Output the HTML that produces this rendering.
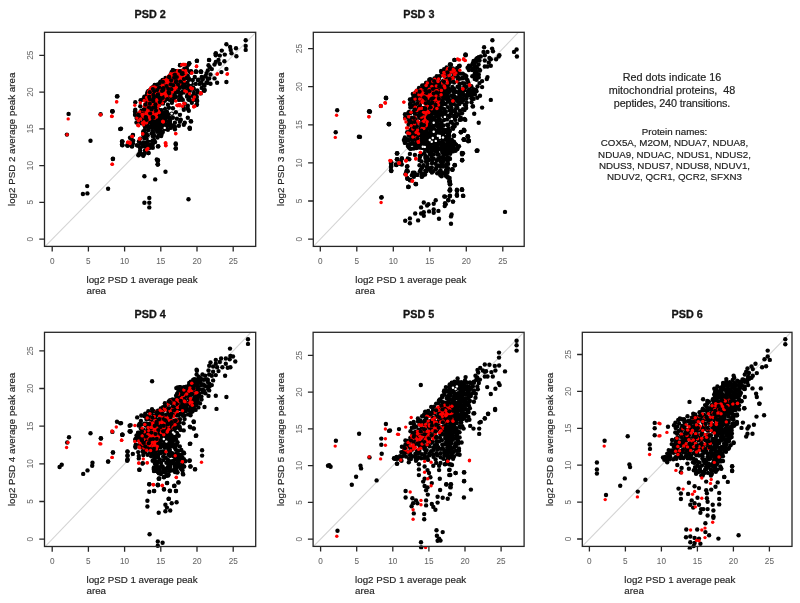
<!DOCTYPE html>
<html><head><meta charset="utf-8"><style>
html,body{margin:0;padding:0;background:#fff;}
svg{display:block;filter:blur(0.35px);}
text{font-family:"Liberation Sans",Arial,sans-serif;}
</style></head><body>
<svg width="800" height="603" viewBox="0 0 800 603">
<rect width="800" height="603" fill="#fff"/>
<g>
<clipPath id="c0"><rect x="44.5" y="32.3" width="211.2" height="214.1"/></clipPath>
<line x1="16.0" y1="275.9" x2="341.8" y2="-54.9" stroke="#d4d4d4" stroke-width="1.1" clip-path="url(#c0)"/>
<clipPath id="d0"><rect x="41.5" y="29.299999999999997" width="217.2" height="220.1"/></clipPath>
<g clip-path="url(#d0)">
<g fill="#000"><circle cx="178.3" cy="71.3" r="2.2"/><circle cx="181.4" cy="71.0" r="2.2"/><circle cx="183.5" cy="70.6" r="2.2"/><circle cx="172.7" cy="72.7" r="2.2"/><circle cx="176.3" cy="73.4" r="2.2"/><circle cx="177.6" cy="72.9" r="2.2"/><circle cx="183.3" cy="72.3" r="2.2"/><circle cx="185.2" cy="73.9" r="2.2"/><circle cx="170.9" cy="76.0" r="2.2"/><circle cx="174.6" cy="76.0" r="2.2"/><circle cx="178.4" cy="76.2" r="2.2"/><circle cx="180.8" cy="75.8" r="2.2"/><circle cx="184.3" cy="75.6" r="2.2"/><circle cx="162.6" cy="79.9" r="2.2"/><circle cx="166.4" cy="79.8" r="2.2"/><circle cx="169.7" cy="80.0" r="2.2"/><circle cx="172.2" cy="78.6" r="2.2"/><circle cx="176.0" cy="78.3" r="2.2"/><circle cx="179.7" cy="79.8" r="2.2"/><circle cx="183.3" cy="79.1" r="2.2"/><circle cx="160.5" cy="81.8" r="2.2"/><circle cx="163.9" cy="82.7" r="2.2"/><circle cx="166.3" cy="82.4" r="2.2"/><circle cx="169.4" cy="81.1" r="2.2"/><circle cx="174.6" cy="81.4" r="2.2"/><circle cx="178.0" cy="80.8" r="2.2"/><circle cx="179.7" cy="82.3" r="2.2"/><circle cx="155.5" cy="85.1" r="2.2"/><circle cx="158.7" cy="84.5" r="2.2"/><circle cx="161.6" cy="86.0" r="2.2"/><circle cx="164.1" cy="83.5" r="2.2"/><circle cx="169.9" cy="84.0" r="2.2"/><circle cx="171.1" cy="84.0" r="2.2"/><circle cx="176.3" cy="85.9" r="2.2"/><circle cx="177.7" cy="84.6" r="2.2"/><circle cx="153.4" cy="86.6" r="2.2"/><circle cx="155.8" cy="89.0" r="2.2"/><circle cx="159.4" cy="87.4" r="2.2"/><circle cx="164.2" cy="88.6" r="2.2"/><circle cx="168.1" cy="86.9" r="2.2"/><circle cx="170.8" cy="89.0" r="2.2"/><circle cx="172.7" cy="88.2" r="2.2"/><circle cx="151.9" cy="90.7" r="2.2"/><circle cx="154.6" cy="90.3" r="2.2"/><circle cx="159.4" cy="90.1" r="2.2"/><circle cx="162.1" cy="89.4" r="2.2"/><circle cx="165.9" cy="90.3" r="2.2"/><circle cx="167.5" cy="90.1" r="2.2"/><circle cx="152.1" cy="92.9" r="2.2"/><circle cx="156.4" cy="93.0" r="2.2"/><circle cx="160.6" cy="93.3" r="2.2"/><circle cx="164.6" cy="93.8" r="2.2"/><circle cx="166.8" cy="93.4" r="2.2"/><circle cx="151.7" cy="96.1" r="2.2"/><circle cx="155.0" cy="97.4" r="2.2"/><circle cx="159.5" cy="97.4" r="2.2"/><circle cx="161.1" cy="97.9" r="2.2"/><circle cx="165.6" cy="95.5" r="2.2"/><circle cx="150.4" cy="100.6" r="2.2"/><circle cx="152.8" cy="100.8" r="2.2"/><circle cx="155.8" cy="100.5" r="2.2"/><circle cx="159.9" cy="98.5" r="2.2"/><circle cx="163.0" cy="99.5" r="2.2"/><circle cx="152.8" cy="101.3" r="2.2"/><circle cx="155.7" cy="103.1" r="2.2"/><circle cx="158.9" cy="103.1" r="2.2"/><circle cx="162.9" cy="102.9" r="2.2"/><circle cx="153.5" cy="105.0" r="2.2"/><circle cx="156.7" cy="104.8" r="2.2"/><circle cx="159.0" cy="104.7" r="2.2"/><circle cx="152.7" cy="109.5" r="2.2"/><circle cx="155.4" cy="108.1" r="2.2"/><circle cx="152.3" cy="112.4" r="2.2"/><circle cx="160.6" cy="110.6" r="2.2"/><circle cx="151.0" cy="113.9" r="2.2"/><circle cx="157.3" cy="112.9" r="2.2"/><circle cx="163.0" cy="112.5" r="2.2"/><circle cx="164.6" cy="112.6" r="2.2"/><circle cx="152.9" cy="114.5" r="2.2"/><circle cx="157.7" cy="115.9" r="2.2"/><circle cx="160.6" cy="114.9" r="2.2"/><circle cx="164.9" cy="116.7" r="2.2"/><circle cx="166.0" cy="115.3" r="2.2"/><circle cx="152.6" cy="119.1" r="2.2"/><circle cx="154.6" cy="118.9" r="2.2"/><circle cx="159.5" cy="119.6" r="2.2"/><circle cx="161.9" cy="118.9" r="2.2"/><circle cx="164.1" cy="118.0" r="2.2"/><circle cx="169.5" cy="118.5" r="2.2"/><circle cx="153.4" cy="122.4" r="2.2"/><circle cx="156.9" cy="121.4" r="2.2"/><circle cx="160.2" cy="120.4" r="2.2"/><circle cx="162.4" cy="122.2" r="2.2"/><circle cx="168.3" cy="121.9" r="2.2"/><circle cx="170.1" cy="120.8" r="2.2"/><circle cx="152.4" cy="124.7" r="2.2"/><circle cx="156.0" cy="123.9" r="2.2"/><circle cx="158.5" cy="125.8" r="2.2"/><circle cx="162.1" cy="124.5" r="2.2"/><circle cx="164.7" cy="124.7" r="2.2"/><circle cx="169.9" cy="123.3" r="2.2"/><circle cx="172.8" cy="125.4" r="2.2"/><circle cx="150.8" cy="127.6" r="2.2"/><circle cx="153.6" cy="127.4" r="2.2"/><circle cx="155.6" cy="128.5" r="2.2"/><circle cx="160.4" cy="126.8" r="2.2"/><circle cx="163.6" cy="127.5" r="2.2"/><circle cx="166.6" cy="127.1" r="2.2"/><circle cx="170.5" cy="127.9" r="2.2"/><circle cx="174.1" cy="127.4" r="2.2"/><circle cx="135.1" cy="111.2" r="2.2"/><circle cx="141.4" cy="110.6" r="2.2"/><circle cx="147.4" cy="110.3" r="2.2"/><circle cx="157.6" cy="111.3" r="2.2"/><circle cx="161.4" cy="110.1" r="2.2"/><circle cx="135.4" cy="112.4" r="2.2"/><circle cx="138.5" cy="113.9" r="2.2"/><circle cx="142.2" cy="113.0" r="2.2"/><circle cx="144.7" cy="111.6" r="2.2"/><circle cx="148.3" cy="111.9" r="2.2"/><circle cx="152.1" cy="114.2" r="2.2"/><circle cx="155.8" cy="112.0" r="2.2"/><circle cx="159.7" cy="113.6" r="2.2"/><circle cx="162.5" cy="113.9" r="2.2"/><circle cx="165.9" cy="113.6" r="2.2"/><circle cx="168.2" cy="114.1" r="2.2"/><circle cx="135.1" cy="114.9" r="2.2"/><circle cx="137.8" cy="116.3" r="2.2"/><circle cx="140.4" cy="115.8" r="2.2"/><circle cx="143.8" cy="116.8" r="2.2"/><circle cx="147.1" cy="116.6" r="2.2"/><circle cx="150.0" cy="116.7" r="2.2"/><circle cx="154.7" cy="115.6" r="2.2"/><circle cx="157.2" cy="116.8" r="2.2"/><circle cx="160.9" cy="115.7" r="2.2"/><circle cx="162.9" cy="115.3" r="2.2"/><circle cx="167.4" cy="114.9" r="2.2"/><circle cx="136.6" cy="118.0" r="2.2"/><circle cx="139.9" cy="118.1" r="2.2"/><circle cx="143.3" cy="119.1" r="2.2"/><circle cx="145.4" cy="118.7" r="2.2"/><circle cx="149.1" cy="118.8" r="2.2"/><circle cx="151.5" cy="117.9" r="2.2"/><circle cx="155.4" cy="119.7" r="2.2"/><circle cx="159.0" cy="117.5" r="2.2"/><circle cx="162.8" cy="119.2" r="2.2"/><circle cx="166.3" cy="117.8" r="2.2"/><circle cx="169.2" cy="117.5" r="2.2"/><circle cx="136.5" cy="122.5" r="2.2"/><circle cx="139.5" cy="121.5" r="2.2"/><circle cx="144.7" cy="120.8" r="2.2"/><circle cx="146.3" cy="122.5" r="2.2"/><circle cx="150.2" cy="122.0" r="2.2"/><circle cx="152.5" cy="121.1" r="2.2"/><circle cx="156.1" cy="121.9" r="2.2"/><circle cx="159.2" cy="122.7" r="2.2"/><circle cx="162.3" cy="122.1" r="2.2"/><circle cx="165.6" cy="120.8" r="2.2"/><circle cx="141.8" cy="123.2" r="2.2"/><circle cx="146.7" cy="123.4" r="2.2"/><circle cx="147.5" cy="123.9" r="2.2"/><circle cx="152.3" cy="125.0" r="2.2"/><circle cx="154.3" cy="123.9" r="2.2"/><circle cx="157.4" cy="124.2" r="2.2"/><circle cx="162.6" cy="125.0" r="2.2"/><circle cx="166.3" cy="125.0" r="2.2"/><circle cx="169.5" cy="124.9" r="2.2"/><circle cx="144.8" cy="126.3" r="2.2"/><circle cx="147.3" cy="126.9" r="2.2"/><circle cx="150.4" cy="126.3" r="2.2"/><circle cx="154.9" cy="126.6" r="2.2"/><circle cx="157.3" cy="127.0" r="2.2"/><circle cx="159.0" cy="127.4" r="2.2"/><circle cx="162.6" cy="126.1" r="2.2"/><circle cx="165.7" cy="126.3" r="2.2"/><circle cx="143.3" cy="131.4" r="2.2"/><circle cx="144.7" cy="130.0" r="2.2"/><circle cx="148.1" cy="130.3" r="2.2"/><circle cx="152.4" cy="130.9" r="2.2"/><circle cx="155.9" cy="129.5" r="2.2"/><circle cx="158.4" cy="130.2" r="2.2"/><circle cx="160.6" cy="128.9" r="2.2"/><circle cx="165.0" cy="129.1" r="2.2"/><circle cx="143.3" cy="133.3" r="2.2"/><circle cx="146.3" cy="134.0" r="2.2"/><circle cx="151.6" cy="133.6" r="2.2"/><circle cx="153.5" cy="133.0" r="2.2"/><circle cx="157.2" cy="131.8" r="2.2"/><circle cx="160.1" cy="133.0" r="2.2"/><circle cx="162.8" cy="131.9" r="2.2"/><circle cx="143.4" cy="135.5" r="2.2"/><circle cx="144.2" cy="136.3" r="2.2"/><circle cx="147.7" cy="135.3" r="2.2"/><circle cx="152.9" cy="136.3" r="2.2"/><circle cx="154.1" cy="135.7" r="2.2"/><circle cx="158.4" cy="135.8" r="2.2"/><circle cx="161.2" cy="136.1" r="2.2"/><circle cx="140.2" cy="138.6" r="2.2"/><circle cx="144.4" cy="138.4" r="2.2"/><circle cx="146.1" cy="137.7" r="2.2"/><circle cx="149.3" cy="139.6" r="2.2"/><circle cx="154.0" cy="139.9" r="2.2"/><circle cx="157.5" cy="137.5" r="2.2"/><circle cx="138.9" cy="141.5" r="2.2"/><circle cx="143.3" cy="142.4" r="2.2"/><circle cx="146.6" cy="142.5" r="2.2"/><circle cx="148.2" cy="140.9" r="2.2"/><circle cx="152.0" cy="141.0" r="2.2"/><circle cx="155.1" cy="142.0" r="2.2"/><circle cx="138.2" cy="145.7" r="2.2"/><circle cx="140.9" cy="143.5" r="2.2"/><circle cx="143.3" cy="143.8" r="2.2"/><circle cx="147.5" cy="144.9" r="2.2"/><circle cx="150.2" cy="144.5" r="2.2"/><circle cx="152.7" cy="144.6" r="2.2"/><circle cx="140.1" cy="148.1" r="2.2"/><circle cx="142.3" cy="146.4" r="2.2"/><circle cx="145.3" cy="146.1" r="2.2"/><circle cx="149.0" cy="148.3" r="2.2"/><circle cx="151.2" cy="147.3" r="2.2"/><circle cx="140.2" cy="150.6" r="2.2"/><circle cx="145.0" cy="150.5" r="2.2"/><circle cx="145.8" cy="150.1" r="2.2"/><circle cx="139.5" cy="153.3" r="2.2"/><circle cx="141.3" cy="153.9" r="2.2"/><circle cx="144.5" cy="153.4" r="2.2"/><circle cx="188.1" cy="64.9" r="2.2"/><circle cx="186.8" cy="68.0" r="2.2"/><circle cx="174.9" cy="71.0" r="2.2"/><circle cx="177.4" cy="71.1" r="2.2"/><circle cx="184.4" cy="68.6" r="2.2"/><circle cx="186.8" cy="69.6" r="2.2"/><circle cx="171.6" cy="72.2" r="2.2"/><circle cx="176.9" cy="72.8" r="2.2"/><circle cx="179.2" cy="71.5" r="2.2"/><circle cx="182.2" cy="73.0" r="2.2"/><circle cx="184.6" cy="73.1" r="2.2"/><circle cx="189.6" cy="71.6" r="2.2"/><circle cx="170.0" cy="75.4" r="2.2"/><circle cx="174.7" cy="74.5" r="2.2"/><circle cx="177.5" cy="76.3" r="2.2"/><circle cx="180.3" cy="75.0" r="2.2"/><circle cx="184.9" cy="75.0" r="2.2"/><circle cx="186.7" cy="75.5" r="2.2"/><circle cx="165.5" cy="77.9" r="2.2"/><circle cx="169.6" cy="79.6" r="2.2"/><circle cx="171.4" cy="78.1" r="2.2"/><circle cx="176.4" cy="79.0" r="2.2"/><circle cx="179.8" cy="78.3" r="2.2"/><circle cx="181.5" cy="78.1" r="2.2"/><circle cx="186.6" cy="78.1" r="2.2"/><circle cx="188.9" cy="78.5" r="2.2"/><circle cx="161.0" cy="82.5" r="2.2"/><circle cx="164.2" cy="81.7" r="2.2"/><circle cx="166.6" cy="81.2" r="2.2"/><circle cx="169.8" cy="80.5" r="2.2"/><circle cx="174.2" cy="81.1" r="2.2"/><circle cx="178.2" cy="80.4" r="2.2"/><circle cx="181.8" cy="82.1" r="2.2"/><circle cx="185.3" cy="82.7" r="2.2"/><circle cx="188.6" cy="81.8" r="2.2"/><circle cx="158.0" cy="85.5" r="2.2"/><circle cx="162.0" cy="85.3" r="2.2"/><circle cx="165.1" cy="83.8" r="2.2"/><circle cx="168.9" cy="85.4" r="2.2"/><circle cx="171.4" cy="85.3" r="2.2"/><circle cx="176.7" cy="85.4" r="2.2"/><circle cx="179.9" cy="83.3" r="2.2"/><circle cx="182.8" cy="85.5" r="2.2"/><circle cx="184.7" cy="84.0" r="2.2"/><circle cx="188.6" cy="84.7" r="2.2"/><circle cx="154.8" cy="88.5" r="2.2"/><circle cx="155.9" cy="87.6" r="2.2"/><circle cx="159.9" cy="87.1" r="2.2"/><circle cx="163.4" cy="87.9" r="2.2"/><circle cx="167.4" cy="87.2" r="2.2"/><circle cx="169.7" cy="87.1" r="2.2"/><circle cx="173.0" cy="87.7" r="2.2"/><circle cx="177.9" cy="87.2" r="2.2"/><circle cx="179.7" cy="86.7" r="2.2"/><circle cx="183.8" cy="87.8" r="2.2"/><circle cx="188.3" cy="87.2" r="2.2"/><circle cx="148.4" cy="91.0" r="2.2"/><circle cx="151.6" cy="91.0" r="2.2"/><circle cx="155.1" cy="89.8" r="2.2"/><circle cx="158.7" cy="91.0" r="2.2"/><circle cx="160.9" cy="90.3" r="2.2"/><circle cx="165.3" cy="91.5" r="2.2"/><circle cx="170.0" cy="90.2" r="2.2"/><circle cx="173.3" cy="91.3" r="2.2"/><circle cx="175.0" cy="90.4" r="2.2"/><circle cx="178.1" cy="91.3" r="2.2"/><circle cx="182.9" cy="91.5" r="2.2"/><circle cx="186.6" cy="90.9" r="2.2"/><circle cx="189.9" cy="90.7" r="2.2"/><circle cx="147.5" cy="92.3" r="2.2"/><circle cx="149.1" cy="92.4" r="2.2"/><circle cx="154.5" cy="92.6" r="2.2"/><circle cx="155.7" cy="94.3" r="2.2"/><circle cx="159.4" cy="94.4" r="2.2"/><circle cx="164.2" cy="94.3" r="2.2"/><circle cx="168.3" cy="93.7" r="2.2"/><circle cx="171.3" cy="92.3" r="2.2"/><circle cx="174.6" cy="93.5" r="2.2"/><circle cx="177.9" cy="92.4" r="2.2"/><circle cx="181.4" cy="94.6" r="2.2"/><circle cx="183.0" cy="93.0" r="2.2"/><circle cx="187.7" cy="94.3" r="2.2"/><circle cx="144.4" cy="96.7" r="2.2"/><circle cx="149.1" cy="96.1" r="2.2"/><circle cx="151.5" cy="96.1" r="2.2"/><circle cx="154.9" cy="96.2" r="2.2"/><circle cx="157.6" cy="96.4" r="2.2"/><circle cx="163.3" cy="96.2" r="2.2"/><circle cx="166.1" cy="95.5" r="2.2"/><circle cx="169.3" cy="97.1" r="2.2"/><circle cx="172.7" cy="96.5" r="2.2"/><circle cx="175.6" cy="96.8" r="2.2"/><circle cx="180.1" cy="95.5" r="2.2"/><circle cx="181.4" cy="97.1" r="2.2"/><circle cx="186.9" cy="96.5" r="2.2"/><circle cx="189.1" cy="97.0" r="2.2"/><circle cx="142.6" cy="99.6" r="2.2"/><circle cx="146.3" cy="98.7" r="2.2"/><circle cx="153.0" cy="99.9" r="2.2"/><circle cx="160.6" cy="98.8" r="2.2"/><circle cx="163.0" cy="98.1" r="2.2"/><circle cx="167.1" cy="99.1" r="2.2"/><circle cx="169.7" cy="99.0" r="2.2"/><circle cx="180.7" cy="99.6" r="2.2"/><circle cx="188.4" cy="99.5" r="2.2"/><circle cx="152.1" cy="87.6" r="2.2"/><circle cx="155.5" cy="86.0" r="2.2"/><circle cx="157.6" cy="87.2" r="2.2"/><circle cx="149.9" cy="90.2" r="2.2"/><circle cx="153.0" cy="89.0" r="2.2"/><circle cx="156.3" cy="88.7" r="2.2"/><circle cx="148.9" cy="92.9" r="2.2"/><circle cx="152.3" cy="93.7" r="2.2"/><circle cx="154.7" cy="92.5" r="2.2"/><circle cx="158.3" cy="92.6" r="2.2"/><circle cx="147.0" cy="94.5" r="2.2"/><circle cx="148.4" cy="96.0" r="2.2"/><circle cx="152.4" cy="95.8" r="2.2"/><circle cx="156.3" cy="95.3" r="2.2"/><circle cx="144.3" cy="97.9" r="2.2"/><circle cx="148.2" cy="98.1" r="2.2"/><circle cx="150.9" cy="99.3" r="2.2"/><circle cx="154.2" cy="98.8" r="2.2"/><circle cx="159.1" cy="97.6" r="2.2"/><circle cx="146.9" cy="101.9" r="2.2"/><circle cx="148.9" cy="101.2" r="2.2"/><circle cx="152.1" cy="101.5" r="2.2"/><circle cx="155.2" cy="102.1" r="2.2"/><circle cx="145.1" cy="105.8" r="2.2"/><circle cx="146.6" cy="104.0" r="2.2"/><circle cx="152.5" cy="105.3" r="2.2"/><circle cx="154.5" cy="105.7" r="2.2"/><circle cx="158.4" cy="105.4" r="2.2"/><circle cx="146.0" cy="106.6" r="2.2"/><circle cx="149.3" cy="108.7" r="2.2"/><circle cx="152.5" cy="106.3" r="2.2"/><circle cx="155.2" cy="106.7" r="2.2"/><circle cx="143.9" cy="109.5" r="2.2"/><circle cx="149.1" cy="110.3" r="2.2"/><circle cx="150.5" cy="109.4" r="2.2"/><circle cx="153.5" cy="109.6" r="2.2"/><circle cx="158.5" cy="109.6" r="2.2"/><circle cx="145.5" cy="114.8" r="2.2"/><circle cx="148.6" cy="113.5" r="2.2"/><circle cx="153.7" cy="113.2" r="2.2"/><circle cx="157.7" cy="113.4" r="2.2"/><circle cx="159.1" cy="113.2" r="2.2"/><circle cx="147.2" cy="117.4" r="2.2"/><circle cx="152.1" cy="116.4" r="2.2"/><circle cx="153.5" cy="115.8" r="2.2"/><circle cx="157.4" cy="115.7" r="2.2"/><circle cx="145.3" cy="118.2" r="2.2"/><circle cx="150.7" cy="119.5" r="2.2"/><circle cx="154.3" cy="119.1" r="2.2"/><circle cx="157.4" cy="119.8" r="2.2"/><circle cx="117.0" cy="96.4" r="2.2"/><circle cx="68.6" cy="113.9" r="2.2"/><circle cx="112.4" cy="111.2" r="2.2"/><circle cx="100.6" cy="114.3" r="2.2"/><circle cx="120.3" cy="129.1" r="2.2"/><circle cx="90.5" cy="140.8" r="2.2"/><circle cx="66.9" cy="134.6" r="2.2"/><circle cx="122.3" cy="141.5" r="2.2"/><circle cx="122.3" cy="145.1" r="2.2"/><circle cx="127.4" cy="145.5" r="2.2"/><circle cx="131.9" cy="146.4" r="2.2"/><circle cx="133.2" cy="140.7" r="2.2"/><circle cx="130.0" cy="137.8" r="2.2"/><circle cx="132.9" cy="135.1" r="2.2"/><circle cx="112.8" cy="159.0" r="2.2"/><circle cx="87.2" cy="186.1" r="2.2"/><circle cx="82.9" cy="194.0" r="2.2"/><circle cx="87.4" cy="193.4" r="2.2"/><circle cx="108.1" cy="188.8" r="2.2"/><circle cx="157.6" cy="161.1" r="2.2"/><circle cx="157.6" cy="164.6" r="2.2"/><circle cx="165.5" cy="171.7" r="2.2"/><circle cx="144.4" cy="176.2" r="2.2"/><circle cx="155.2" cy="179.4" r="2.2"/><circle cx="149.3" cy="197.9" r="2.2"/><circle cx="144.4" cy="202.7" r="2.2"/><circle cx="149.3" cy="202.7" r="2.2"/><circle cx="149.3" cy="207.4" r="2.2"/><circle cx="188.5" cy="199.3" r="2.2"/><circle cx="189.1" cy="63.4" r="2.2"/><circle cx="196.8" cy="60.9" r="2.2"/><circle cx="209.0" cy="59.9" r="2.2"/><circle cx="196.4" cy="71.8" r="2.2"/><circle cx="201.0" cy="71.8" r="2.2"/><circle cx="180.4" cy="64.9" r="2.2"/><circle cx="191.1" cy="71.1" r="2.2"/><circle cx="215.6" cy="53.9" r="2.2"/><circle cx="245.7" cy="40.2" r="2.2"/><circle cx="245.7" cy="45.9" r="2.2"/><circle cx="245.7" cy="49.9" r="2.2"/><circle cx="226.4" cy="44.2" r="2.2"/><circle cx="230.1" cy="46.9" r="2.2"/><circle cx="236.0" cy="48.2" r="2.2"/><circle cx="230.7" cy="49.9" r="2.2"/><circle cx="231.5" cy="53.2" r="2.2"/><circle cx="236.4" cy="56.3" r="2.2"/><circle cx="221.8" cy="50.6" r="2.2"/><circle cx="224.8" cy="54.6" r="2.2"/><circle cx="215.8" cy="53.2" r="2.2"/><circle cx="219.8" cy="55.6" r="2.2"/><circle cx="215.8" cy="55.2" r="2.2"/><circle cx="209.2" cy="60.1" r="2.2"/><circle cx="224.4" cy="61.2" r="2.2"/><circle cx="218.5" cy="59.9" r="2.2"/><circle cx="215.8" cy="61.9" r="2.2"/><circle cx="214.5" cy="64.5" r="2.2"/><circle cx="219.8" cy="63.8" r="2.2"/><circle cx="226.4" cy="68.9" r="2.2"/><circle cx="221.4" cy="72.1" r="2.2"/><circle cx="226.4" cy="82.0" r="2.2"/><circle cx="217.1" cy="82.7" r="2.2"/><circle cx="214.5" cy="78.4" r="2.2"/><circle cx="197.0" cy="60.8" r="2.2"/><circle cx="189.3" cy="63.4" r="2.2"/><circle cx="180.0" cy="65.2" r="2.2"/><circle cx="195.9" cy="71.8" r="2.2"/><circle cx="201.2" cy="71.8" r="2.2"/><circle cx="190.6" cy="71.8" r="2.2"/><circle cx="208.5" cy="65.2" r="2.2"/><circle cx="209.8" cy="67.2" r="2.2"/><circle cx="211.8" cy="69.1" r="2.2"/><circle cx="207.8" cy="70.5" r="2.2"/><circle cx="206.5" cy="73.1" r="2.2"/><circle cx="210.5" cy="74.5" r="2.2"/><circle cx="205.2" cy="76.4" r="2.2"/><circle cx="209.2" cy="78.4" r="2.2"/><circle cx="202.5" cy="78.4" r="2.2"/><circle cx="198.6" cy="79.8" r="2.2"/><circle cx="201.2" cy="82.4" r="2.2"/><circle cx="206.5" cy="82.4" r="2.2"/><circle cx="210.5" cy="83.7" r="2.2"/><circle cx="204.5" cy="85.7" r="2.2"/><circle cx="203.9" cy="90.4" r="2.2"/><circle cx="197.2" cy="90.4" r="2.2"/><circle cx="195.9" cy="95.7" r="2.2"/><circle cx="197.2" cy="101.0" r="2.2"/><circle cx="196.6" cy="105.0" r="2.2"/><circle cx="193.2" cy="87.7" r="2.2"/><circle cx="175.8" cy="144.4" r="2.2"/><circle cx="175.8" cy="148.4" r="2.2"/><circle cx="157.9" cy="160.3" r="2.2"/><circle cx="157.9" cy="164.3" r="2.2"/><circle cx="138.7" cy="155.0" r="2.2"/><circle cx="143.3" cy="155.7" r="2.2"/><circle cx="148.6" cy="153.0" r="2.2"/><circle cx="189.7" cy="128.5" r="2.2"/><circle cx="191.1" cy="121.4" r="2.2"/><circle cx="204.3" cy="90.7" r="2.2"/><circle cx="157.9" cy="146.4" r="2.2"/><circle cx="121.0" cy="128.6" r="2.2"/><circle cx="122.0" cy="141.5" r="2.2"/><circle cx="122.0" cy="144.5" r="2.2"/><circle cx="128.0" cy="145.5" r="2.2"/><circle cx="132.9" cy="143.5" r="2.2"/><circle cx="175.7" cy="143.5" r="2.2"/><circle cx="175.7" cy="148.5" r="2.2"/><circle cx="156.8" cy="159.4" r="2.2"/><circle cx="189.7" cy="127.6" r="2.2"/><circle cx="173.9" cy="72.0" r="2.2"/><circle cx="178.9" cy="71.5" r="2.2"/><circle cx="190.8" cy="72.5" r="2.2"/><circle cx="195.8" cy="71.5" r="2.2"/><circle cx="200.7" cy="71.5" r="2.2"/><circle cx="172.9" cy="75.0" r="2.2"/><circle cx="187.8" cy="76.0" r="2.2"/><circle cx="194.8" cy="77.0" r="2.2"/><circle cx="201.7" cy="77.0" r="2.2"/><circle cx="205.7" cy="76.0" r="2.2"/><circle cx="183.8" cy="80.0" r="2.2"/><circle cx="189.8" cy="80.9" r="2.2"/><circle cx="192.8" cy="80.0" r="2.2"/><circle cx="197.8" cy="80.0" r="2.2"/><circle cx="202.7" cy="79.5" r="2.2"/><circle cx="207.7" cy="79.0" r="2.2"/><circle cx="179.9" cy="83.9" r="2.2"/><circle cx="183.8" cy="84.9" r="2.2"/><circle cx="191.8" cy="83.9" r="2.2"/><circle cx="195.8" cy="83.9" r="2.2"/><circle cx="199.8" cy="83.9" r="2.2"/><circle cx="203.7" cy="84.9" r="2.2"/><circle cx="207.7" cy="82.9" r="2.2"/><circle cx="174.9" cy="88.9" r="2.2"/><circle cx="179.9" cy="87.9" r="2.2"/><circle cx="185.8" cy="86.9" r="2.2"/><circle cx="189.8" cy="88.9" r="2.2"/><circle cx="193.8" cy="88.9" r="2.2"/><circle cx="201.7" cy="87.9" r="2.2"/><circle cx="204.7" cy="89.9" r="2.2"/><circle cx="169.9" cy="92.9" r="2.2"/><circle cx="174.9" cy="92.9" r="2.2"/><circle cx="179.9" cy="92.4" r="2.2"/><circle cx="183.8" cy="91.9" r="2.2"/><circle cx="193.8" cy="92.9" r="2.2"/><circle cx="197.8" cy="92.4" r="2.2"/><circle cx="200.7" cy="93.4" r="2.2"/><circle cx="165.9" cy="96.9" r="2.2"/><circle cx="170.9" cy="96.9" r="2.2"/><circle cx="175.9" cy="96.9" r="2.2"/><circle cx="179.9" cy="96.4" r="2.2"/><circle cx="187.8" cy="95.4" r="2.2"/><circle cx="192.8" cy="95.9" r="2.2"/><circle cx="196.8" cy="96.9" r="2.2"/><circle cx="164.9" cy="100.8" r="2.2"/><circle cx="169.9" cy="99.9" r="2.2"/><circle cx="173.9" cy="99.9" r="2.2"/><circle cx="178.9" cy="99.9" r="2.2"/><circle cx="182.8" cy="99.9" r="2.2"/><circle cx="189.8" cy="99.9" r="2.2"/><circle cx="193.8" cy="99.9" r="2.2"/><circle cx="196.8" cy="99.9" r="2.2"/><circle cx="162.9" cy="103.8" r="2.2"/><circle cx="167.9" cy="104.8" r="2.2"/><circle cx="171.9" cy="102.8" r="2.2"/><circle cx="184.8" cy="103.8" r="2.2"/><circle cx="187.8" cy="105.8" r="2.2"/><circle cx="191.8" cy="102.8" r="2.2"/><circle cx="196.8" cy="104.3" r="2.2"/><circle cx="164.9" cy="108.8" r="2.2"/><circle cx="168.9" cy="107.8" r="2.2"/><circle cx="172.9" cy="108.3" r="2.2"/><circle cx="183.8" cy="107.8" r="2.2"/><circle cx="187.8" cy="108.8" r="2.2"/><circle cx="183.8" cy="109.8" r="2.2"/><circle cx="188.8" cy="110.8" r="2.2"/><circle cx="160.0" cy="112.8" r="2.2"/><circle cx="166.9" cy="111.8" r="2.2"/><circle cx="171.9" cy="113.8" r="2.2"/><circle cx="175.9" cy="112.3" r="2.2"/><circle cx="179.9" cy="114.8" r="2.2"/><circle cx="156.0" cy="116.8" r="2.2"/><circle cx="161.9" cy="116.8" r="2.2"/><circle cx="166.9" cy="116.8" r="2.2"/><circle cx="172.9" cy="117.8" r="2.2"/><circle cx="176.9" cy="118.8" r="2.2"/><circle cx="180.8" cy="119.8" r="2.2"/><circle cx="187.8" cy="117.8" r="2.2"/><circle cx="153.0" cy="121.7" r="2.2"/><circle cx="158.0" cy="121.7" r="2.2"/><circle cx="164.9" cy="120.7" r="2.2"/><circle cx="169.9" cy="121.7" r="2.2"/><circle cx="174.9" cy="122.7" r="2.2"/><circle cx="179.9" cy="121.7" r="2.2"/><circle cx="184.8" cy="122.7" r="2.2"/><circle cx="190.8" cy="121.2" r="2.2"/><circle cx="152.0" cy="126.7" r="2.2"/><circle cx="156.0" cy="125.7" r="2.2"/><circle cx="160.9" cy="125.7" r="2.2"/><circle cx="165.9" cy="126.7" r="2.2"/><circle cx="169.9" cy="125.7" r="2.2"/><circle cx="174.9" cy="126.7" r="2.2"/><circle cx="178.9" cy="125.7" r="2.2"/><circle cx="183.8" cy="124.7" r="2.2"/><circle cx="160.0" cy="129.7" r="2.2"/><circle cx="167.9" cy="129.7" r="2.2"/><circle cx="174.9" cy="129.2" r="2.2"/><circle cx="189.8" cy="128.7" r="2.2"/><circle cx="112.5" cy="111.5" r="2.2"/><circle cx="120.4" cy="128.9" r="2.2"/><circle cx="132.9" cy="134.9" r="2.2"/><circle cx="131.4" cy="138.9" r="2.2"/><circle cx="122.4" cy="141.6" r="2.2"/><circle cx="122.4" cy="145.3" r="2.2"/><circle cx="127.4" cy="145.3" r="2.2"/><circle cx="132.1" cy="146.3" r="2.2"/><circle cx="161.7" cy="133.9" r="2.2"/><circle cx="158.3" cy="146.3" r="2.2"/><circle cx="152.8" cy="147.8" r="2.2"/><circle cx="148.3" cy="153.0" r="2.2"/><circle cx="143.3" cy="155.3" r="2.2"/><circle cx="138.4" cy="155.3" r="2.2"/><circle cx="157.8" cy="160.2" r="2.2"/><circle cx="157.8" cy="164.2" r="2.2"/><circle cx="113.0" cy="158.8" r="2.2"/><circle cx="136.9" cy="145.3" r="2.2"/><circle cx="180.2" cy="65.1" r="2.2"/><circle cx="189.2" cy="63.4" r="2.2"/><circle cx="154.9" cy="85.3" r="2.2"/><circle cx="172.8" cy="70.3" r="2.2"/><circle cx="117.4" cy="96.3" r="2.2"/><circle cx="112.4" cy="111.2" r="2.2"/><circle cx="135.3" cy="102.3" r="2.2"/><circle cx="140.6" cy="100.3" r="2.2"/><circle cx="140.3" cy="106.3" r="2.2"/><circle cx="135.3" cy="109.8" r="2.2"/><circle cx="135.3" cy="114.2" r="2.2"/><circle cx="154.7" cy="84.9" r="2.2"/><circle cx="147.8" cy="97.8" r="2.2"/></g>
<g fill="#fff"><circle cx="190.6" cy="82.8" r="1.2"/><circle cx="162.8" cy="106.7" r="1.2"/><circle cx="171.7" cy="113.6" r="1.2"/><circle cx="179.7" cy="111.6" r="1.2"/><circle cx="183.7" cy="95.7" r="1.2"/><circle cx="149.8" cy="138.9" r="1.2"/><circle cx="164.7" cy="127.9" r="1.2"/></g>
<g fill="#f00"><circle cx="178.3" cy="70.8" r="1.75"/><circle cx="181.1" cy="70.6" r="1.75"/><circle cx="177.1" cy="72.2" r="1.75"/><circle cx="180.9" cy="74.2" r="1.75"/><circle cx="185.6" cy="72.4" r="1.75"/><circle cx="168.0" cy="76.8" r="1.75"/><circle cx="170.8" cy="75.9" r="1.75"/><circle cx="174.2" cy="75.8" r="1.75"/><circle cx="179.4" cy="76.3" r="1.75"/><circle cx="181.6" cy="77.5" r="1.75"/><circle cx="166.3" cy="79.7" r="1.75"/><circle cx="168.5" cy="81.0" r="1.75"/><circle cx="174.2" cy="81.1" r="1.75"/><circle cx="175.3" cy="80.9" r="1.75"/><circle cx="179.6" cy="79.3" r="1.75"/><circle cx="163.6" cy="82.3" r="1.75"/><circle cx="167.2" cy="83.5" r="1.75"/><circle cx="170.0" cy="82.1" r="1.75"/><circle cx="175.5" cy="83.3" r="1.75"/><circle cx="178.4" cy="83.1" r="1.75"/><circle cx="154.7" cy="86.9" r="1.75"/><circle cx="158.3" cy="87.1" r="1.75"/><circle cx="159.7" cy="87.2" r="1.75"/><circle cx="166.4" cy="87.2" r="1.75"/><circle cx="168.0" cy="86.3" r="1.75"/><circle cx="173.8" cy="87.4" r="1.75"/><circle cx="175.8" cy="87.5" r="1.75"/><circle cx="151.7" cy="90.6" r="1.75"/><circle cx="155.8" cy="90.7" r="1.75"/><circle cx="158.2" cy="90.3" r="1.75"/><circle cx="162.2" cy="88.8" r="1.75"/><circle cx="166.3" cy="91.2" r="1.75"/><circle cx="172.1" cy="89.9" r="1.75"/><circle cx="175.0" cy="89.0" r="1.75"/><circle cx="148.5" cy="94.3" r="1.75"/><circle cx="152.5" cy="92.1" r="1.75"/><circle cx="157.9" cy="94.3" r="1.75"/><circle cx="162.1" cy="94.1" r="1.75"/><circle cx="163.9" cy="93.3" r="1.75"/><circle cx="168.7" cy="93.4" r="1.75"/><circle cx="150.9" cy="97.6" r="1.75"/><circle cx="155.7" cy="96.5" r="1.75"/><circle cx="159.7" cy="97.5" r="1.75"/><circle cx="162.8" cy="97.9" r="1.75"/><circle cx="166.7" cy="95.8" r="1.75"/><circle cx="149.3" cy="101.6" r="1.75"/><circle cx="152.6" cy="101.5" r="1.75"/><circle cx="156.6" cy="98.9" r="1.75"/><circle cx="161.0" cy="99.9" r="1.75"/><circle cx="148.5" cy="103.9" r="1.75"/><circle cx="150.1" cy="103.4" r="1.75"/><circle cx="155.7" cy="104.1" r="1.75"/><circle cx="157.9" cy="103.4" r="1.75"/><circle cx="145.9" cy="105.7" r="1.75"/><circle cx="149.9" cy="106.4" r="1.75"/><circle cx="151.9" cy="107.7" r="1.75"/><circle cx="157.3" cy="106.7" r="1.75"/><circle cx="143.7" cy="110.7" r="1.75"/><circle cx="147.8" cy="110.7" r="1.75"/><circle cx="152.8" cy="110.2" r="1.75"/><circle cx="153.9" cy="109.4" r="1.75"/><circle cx="158.3" cy="111.0" r="1.75"/><circle cx="142.2" cy="114.6" r="1.75"/><circle cx="146.3" cy="113.3" r="1.75"/><circle cx="150.1" cy="113.9" r="1.75"/><circle cx="152.8" cy="113.8" r="1.75"/><circle cx="143.0" cy="116.3" r="1.75"/><circle cx="147.4" cy="117.0" r="1.75"/><circle cx="151.5" cy="116.2" r="1.75"/><circle cx="144.1" cy="121.7" r="1.75"/><circle cx="149.4" cy="119.3" r="1.75"/><circle cx="146.5" cy="122.7" r="1.75"/><circle cx="178.0" cy="70.6" r="1.75"/><circle cx="182.5" cy="70.6" r="1.75"/><circle cx="185.6" cy="70.7" r="1.75"/><circle cx="170.7" cy="73.7" r="1.75"/><circle cx="174.1" cy="73.6" r="1.75"/><circle cx="178.9" cy="72.8" r="1.75"/><circle cx="182.1" cy="72.0" r="1.75"/><circle cx="169.1" cy="75.8" r="1.75"/><circle cx="174.7" cy="75.6" r="1.75"/><circle cx="176.9" cy="77.9" r="1.75"/><circle cx="179.8" cy="75.6" r="1.75"/><circle cx="185.2" cy="76.4" r="1.75"/><circle cx="163.6" cy="80.6" r="1.75"/><circle cx="166.8" cy="81.2" r="1.75"/><circle cx="170.2" cy="81.4" r="1.75"/><circle cx="174.5" cy="79.0" r="1.75"/><circle cx="178.4" cy="80.4" r="1.75"/><circle cx="184.3" cy="79.0" r="1.75"/><circle cx="161.7" cy="83.7" r="1.75"/><circle cx="166.2" cy="84.5" r="1.75"/><circle cx="170.7" cy="82.5" r="1.75"/><circle cx="172.5" cy="84.4" r="1.75"/><circle cx="178.2" cy="82.8" r="1.75"/><circle cx="150.7" cy="88.1" r="1.75"/><circle cx="157.0" cy="86.2" r="1.75"/><circle cx="160.9" cy="86.1" r="1.75"/><circle cx="163.6" cy="87.1" r="1.75"/><circle cx="167.8" cy="85.8" r="1.75"/><circle cx="170.1" cy="88.1" r="1.75"/><circle cx="176.2" cy="87.0" r="1.75"/><circle cx="152.6" cy="89.7" r="1.75"/><circle cx="158.2" cy="90.2" r="1.75"/><circle cx="162.1" cy="91.6" r="1.75"/><circle cx="165.6" cy="89.6" r="1.75"/><circle cx="170.7" cy="91.8" r="1.75"/><circle cx="150.7" cy="95.1" r="1.75"/><circle cx="156.3" cy="94.1" r="1.75"/><circle cx="160.4" cy="94.9" r="1.75"/><circle cx="164.5" cy="93.7" r="1.75"/><circle cx="166.6" cy="92.7" r="1.75"/><circle cx="150.3" cy="96.8" r="1.75"/><circle cx="154.1" cy="98.3" r="1.75"/><circle cx="157.8" cy="97.8" r="1.75"/><circle cx="161.5" cy="96.8" r="1.75"/><circle cx="165.9" cy="96.3" r="1.75"/><circle cx="152.7" cy="99.4" r="1.75"/><circle cx="156.3" cy="100.2" r="1.75"/><circle cx="160.3" cy="102.0" r="1.75"/><circle cx="163.5" cy="99.2" r="1.75"/><circle cx="151.5" cy="104.2" r="1.75"/><circle cx="152.5" cy="102.8" r="1.75"/><circle cx="158.8" cy="105.1" r="1.75"/><circle cx="162.4" cy="102.9" r="1.75"/><circle cx="152.9" cy="106.2" r="1.75"/><circle cx="157.3" cy="108.1" r="1.75"/><circle cx="150.4" cy="110.2" r="1.75"/><circle cx="155.0" cy="110.5" r="1.75"/><circle cx="156.3" cy="110.9" r="1.75"/><circle cx="144.8" cy="110.4" r="1.75"/><circle cx="149.7" cy="110.6" r="1.75"/><circle cx="157.5" cy="110.9" r="1.75"/><circle cx="137.9" cy="114.1" r="1.75"/><circle cx="143.1" cy="114.7" r="1.75"/><circle cx="146.1" cy="113.8" r="1.75"/><circle cx="152.1" cy="115.2" r="1.75"/><circle cx="155.5" cy="115.1" r="1.75"/><circle cx="136.9" cy="117.9" r="1.75"/><circle cx="140.6" cy="119.1" r="1.75"/><circle cx="144.7" cy="117.2" r="1.75"/><circle cx="150.3" cy="116.6" r="1.75"/><circle cx="154.5" cy="118.3" r="1.75"/><circle cx="138.4" cy="120.7" r="1.75"/><circle cx="142.4" cy="123.1" r="1.75"/><circle cx="145.9" cy="122.7" r="1.75"/><circle cx="143.6" cy="124.7" r="1.75"/><circle cx="173.9" cy="73.1" r="1.75"/><circle cx="176.0" cy="75.0" r="1.75"/><circle cx="182.1" cy="73.3" r="1.75"/><circle cx="186.0" cy="73.3" r="1.75"/><circle cx="168.8" cy="78.3" r="1.75"/><circle cx="170.7" cy="78.2" r="1.75"/><circle cx="174.8" cy="77.8" r="1.75"/><circle cx="177.9" cy="76.1" r="1.75"/><circle cx="183.6" cy="77.5" r="1.75"/><circle cx="165.6" cy="80.6" r="1.75"/><circle cx="169.0" cy="82.1" r="1.75"/><circle cx="174.5" cy="80.4" r="1.75"/><circle cx="178.1" cy="80.5" r="1.75"/><circle cx="181.1" cy="79.7" r="1.75"/><circle cx="184.5" cy="81.0" r="1.75"/><circle cx="162.7" cy="85.3" r="1.75"/><circle cx="167.9" cy="85.9" r="1.75"/><circle cx="170.9" cy="84.7" r="1.75"/><circle cx="174.1" cy="84.1" r="1.75"/><circle cx="179.7" cy="83.9" r="1.75"/><circle cx="152.9" cy="87.3" r="1.75"/><circle cx="158.7" cy="86.4" r="1.75"/><circle cx="161.4" cy="88.3" r="1.75"/><circle cx="164.6" cy="89.2" r="1.75"/><circle cx="170.4" cy="88.2" r="1.75"/><circle cx="172.2" cy="87.2" r="1.75"/><circle cx="176.3" cy="87.0" r="1.75"/><circle cx="149.0" cy="90.7" r="1.75"/><circle cx="152.7" cy="90.1" r="1.75"/><circle cx="154.6" cy="91.3" r="1.75"/><circle cx="160.1" cy="90.9" r="1.75"/><circle cx="164.4" cy="90.7" r="1.75"/><circle cx="168.6" cy="91.0" r="1.75"/><circle cx="172.3" cy="91.9" r="1.75"/><circle cx="174.2" cy="89.8" r="1.75"/><circle cx="149.3" cy="93.7" r="1.75"/><circle cx="152.4" cy="93.7" r="1.75"/><circle cx="156.5" cy="93.6" r="1.75"/><circle cx="160.0" cy="94.9" r="1.75"/><circle cx="166.4" cy="94.1" r="1.75"/><circle cx="170.8" cy="95.9" r="1.75"/><circle cx="146.6" cy="97.6" r="1.75"/><circle cx="153.0" cy="99.1" r="1.75"/><circle cx="155.9" cy="98.1" r="1.75"/><circle cx="161.0" cy="99.2" r="1.75"/><circle cx="163.0" cy="97.7" r="1.75"/><circle cx="167.1" cy="97.8" r="1.75"/><circle cx="156.5" cy="86.9" r="1.75"/><circle cx="158.5" cy="86.3" r="1.75"/><circle cx="150.6" cy="90.3" r="1.75"/><circle cx="153.1" cy="89.3" r="1.75"/><circle cx="158.1" cy="88.2" r="1.75"/><circle cx="148.7" cy="92.1" r="1.75"/><circle cx="151.0" cy="91.5" r="1.75"/><circle cx="154.3" cy="94.1" r="1.75"/><circle cx="158.0" cy="94.1" r="1.75"/><circle cx="148.2" cy="97.2" r="1.75"/><circle cx="153.2" cy="97.4" r="1.75"/><circle cx="156.1" cy="96.9" r="1.75"/><circle cx="144.3" cy="100.4" r="1.75"/><circle cx="147.7" cy="100.1" r="1.75"/><circle cx="151.4" cy="98.6" r="1.75"/><circle cx="154.4" cy="99.4" r="1.75"/><circle cx="144.7" cy="104.1" r="1.75"/><circle cx="149.7" cy="103.0" r="1.75"/><circle cx="153.9" cy="101.8" r="1.75"/><circle cx="157.3" cy="102.5" r="1.75"/><circle cx="144.4" cy="106.2" r="1.75"/><circle cx="148.1" cy="107.5" r="1.75"/><circle cx="151.5" cy="107.1" r="1.75"/><circle cx="155.7" cy="107.6" r="1.75"/><circle cx="159.3" cy="105.5" r="1.75"/><circle cx="147.1" cy="110.3" r="1.75"/><circle cx="148.6" cy="109.2" r="1.75"/><circle cx="153.5" cy="108.3" r="1.75"/><circle cx="156.6" cy="108.5" r="1.75"/><circle cx="148.7" cy="114.0" r="1.75"/><circle cx="151.6" cy="112.5" r="1.75"/><circle cx="156.6" cy="113.8" r="1.75"/><circle cx="159.2" cy="112.6" r="1.75"/><circle cx="147.2" cy="114.9" r="1.75"/><circle cx="150.2" cy="116.6" r="1.75"/><circle cx="152.9" cy="116.5" r="1.75"/><circle cx="156.5" cy="117.0" r="1.75"/><circle cx="148.0" cy="118.4" r="1.75"/><circle cx="116.6" cy="101.9" r="1.7"/><circle cx="68.2" cy="118.9" r="1.7"/><circle cx="111.7" cy="116.3" r="1.7"/><circle cx="100.3" cy="114.8" r="1.7"/><circle cx="67.1" cy="134.8" r="1.7"/><circle cx="112.4" cy="164.3" r="1.7"/><circle cx="127.6" cy="142.4" r="1.7"/><circle cx="129.6" cy="142.4" r="1.7"/><circle cx="132.3" cy="136.4" r="1.7"/><circle cx="182.4" cy="64.5" r="1.7"/><circle cx="184.0" cy="64.5" r="1.7"/><circle cx="196.4" cy="66.5" r="1.7"/><circle cx="192.4" cy="88.4" r="1.7"/><circle cx="201.0" cy="93.3" r="1.7"/><circle cx="194.4" cy="97.0" r="1.7"/><circle cx="186.4" cy="91.7" r="1.7"/><circle cx="178.5" cy="105.0" r="1.7"/><circle cx="175.8" cy="101.0" r="1.7"/><circle cx="194.4" cy="106.3" r="1.7"/><circle cx="184.0" cy="64.5" r="1.7"/><circle cx="196.6" cy="66.5" r="1.7"/><circle cx="227.1" cy="74.2" r="1.7"/><circle cx="217.1" cy="74.2" r="1.7"/><circle cx="191.9" cy="73.1" r="1.7"/><circle cx="191.9" cy="88.4" r="1.7"/><circle cx="200.5" cy="93.7" r="1.7"/><circle cx="193.2" cy="99.7" r="1.7"/><circle cx="178.7" cy="105.0" r="1.7"/><circle cx="182.6" cy="106.3" r="1.7"/><circle cx="194.6" cy="106.3" r="1.7"/><circle cx="147.9" cy="116.5" r="1.7"/><circle cx="146.6" cy="121.2" r="1.7"/><circle cx="153.2" cy="115.9" r="1.7"/><circle cx="138.7" cy="125.8" r="1.7"/><circle cx="142.6" cy="133.8" r="1.7"/><circle cx="139.3" cy="139.1" r="1.7"/><circle cx="163.2" cy="121.8" r="1.7"/><circle cx="165.2" cy="143.1" r="1.7"/><circle cx="165.9" cy="145.7" r="1.7"/><circle cx="175.8" cy="133.8" r="1.7"/><circle cx="146.6" cy="149.7" r="1.7"/><circle cx="179.8" cy="104.6" r="1.7"/><circle cx="183.8" cy="103.3" r="1.7"/><circle cx="194.4" cy="106.6" r="1.7"/><circle cx="201.0" cy="93.3" r="1.7"/><circle cx="167.8" cy="98.6" r="1.7"/><circle cx="170.5" cy="93.3" r="1.7"/><circle cx="181.7" cy="64.9" r="1.7"/><circle cx="184.7" cy="64.9" r="1.7"/><circle cx="196.6" cy="65.9" r="1.7"/><circle cx="217.5" cy="73.8" r="1.7"/><circle cx="227.5" cy="73.8" r="1.7"/><circle cx="200.6" cy="92.7" r="1.7"/><circle cx="193.6" cy="106.7" r="1.7"/><circle cx="179.7" cy="104.7" r="1.7"/><circle cx="177.7" cy="105.7" r="1.7"/><circle cx="175.7" cy="133.5" r="1.7"/><circle cx="165.8" cy="143.5" r="1.7"/><circle cx="165.8" cy="145.5" r="1.7"/><circle cx="139.9" cy="138.5" r="1.7"/><circle cx="131.9" cy="136.5" r="1.7"/><circle cx="128.0" cy="142.5" r="1.7"/><circle cx="130.0" cy="143.5" r="1.7"/><circle cx="162.8" cy="121.6" r="1.7"/><circle cx="147.9" cy="148.5" r="1.7"/><circle cx="137.9" cy="125.6" r="1.7"/><circle cx="189.7" cy="93.7" r="1.7"/><circle cx="190.6" cy="87.8" r="1.7"/><circle cx="191.8" cy="73.0" r="1.7"/><circle cx="184.8" cy="90.9" r="1.7"/><circle cx="191.8" cy="88.9" r="1.7"/><circle cx="200.7" cy="93.4" r="1.7"/><circle cx="176.9" cy="105.3" r="1.7"/><circle cx="179.9" cy="105.8" r="1.7"/><circle cx="184.8" cy="103.8" r="1.7"/><circle cx="193.8" cy="106.8" r="1.7"/><circle cx="162.9" cy="121.2" r="1.7"/><circle cx="153.0" cy="113.8" r="1.7"/><circle cx="156.0" cy="109.8" r="1.7"/><circle cx="163.2" cy="121.9" r="1.7"/><circle cx="142.8" cy="133.9" r="1.7"/><circle cx="139.9" cy="138.9" r="1.7"/><circle cx="132.4" cy="136.4" r="1.7"/><circle cx="127.9" cy="142.0" r="1.7"/><circle cx="129.9" cy="142.3" r="1.7"/><circle cx="146.8" cy="149.8" r="1.7"/><circle cx="165.7" cy="142.8" r="1.7"/><circle cx="165.7" cy="145.3" r="1.7"/><circle cx="112.0" cy="116.5" r="1.7"/><circle cx="112.0" cy="164.2" r="1.7"/><circle cx="137.9" cy="124.9" r="1.7"/><circle cx="183.7" cy="64.4" r="1.7"/><circle cx="185.2" cy="64.4" r="1.7"/><circle cx="116.7" cy="101.8" r="1.7"/><circle cx="111.9" cy="116.2" r="1.7"/><circle cx="100.8" cy="114.7" r="1.7"/><circle cx="134.8" cy="105.3" r="1.7"/><circle cx="140.3" cy="102.8" r="1.7"/><circle cx="139.8" cy="111.7" r="1.7"/></g>
<g fill="#000"><circle cx="163.2" cy="89.7" r="2.2"/><circle cx="157.9" cy="94.4" r="2.2"/><circle cx="149.3" cy="97.0" r="2.2"/><circle cx="153.2" cy="101.0" r="2.2"/><circle cx="144.0" cy="109.6" r="2.2"/><circle cx="169.2" cy="93.0" r="2.2"/><circle cx="173.1" cy="85.1" r="2.2"/><circle cx="174.4" cy="77.8" r="2.1"/><circle cx="181.7" cy="73.8" r="2.1"/><circle cx="159.7" cy="83.1" r="2.1"/><circle cx="171.2" cy="80.3" r="2.1"/><circle cx="176.3" cy="81.1" r="2.1"/><circle cx="159.2" cy="87.3" r="2.1"/><circle cx="163.7" cy="88.0" r="2.1"/><circle cx="171.3" cy="89.2" r="2.1"/><circle cx="153.3" cy="94.9" r="2.1"/><circle cx="162.8" cy="97.9" r="2.1"/><circle cx="149.8" cy="103.7" r="2.1"/><circle cx="160.5" cy="100.0" r="2.1"/><circle cx="149.0" cy="107.3" r="2.1"/><circle cx="155.3" cy="107.4" r="2.1"/><circle cx="145.7" cy="117.0" r="2.1"/><circle cx="150.2" cy="113.5" r="2.1"/><circle cx="172.9" cy="70.2" r="2.1"/><circle cx="179.8" cy="71.0" r="2.1"/><circle cx="169.1" cy="76.8" r="2.1"/><circle cx="174.9" cy="74.7" r="2.1"/><circle cx="183.9" cy="79.0" r="2.1"/><circle cx="157.1" cy="84.5" r="2.1"/><circle cx="162.9" cy="81.8" r="2.1"/><circle cx="170.7" cy="84.3" r="2.1"/><circle cx="178.1" cy="84.6" r="2.1"/><circle cx="154.2" cy="91.3" r="2.1"/><circle cx="162.0" cy="91.0" r="2.1"/><circle cx="168.2" cy="88.8" r="2.1"/><circle cx="157.0" cy="96.2" r="2.1"/><circle cx="155.5" cy="104.4" r="2.1"/><circle cx="159.7" cy="102.1" r="2.1"/><circle cx="156.0" cy="110.6" r="2.1"/><circle cx="138.1" cy="114.8" r="2.1"/><circle cx="145.9" cy="117.7" r="2.1"/><circle cx="152.6" cy="117.0" r="2.1"/><circle cx="182.6" cy="73.1" r="2.1"/><circle cx="169.2" cy="77.3" r="2.1"/><circle cx="176.8" cy="77.0" r="2.1"/><circle cx="186.7" cy="77.9" r="2.1"/><circle cx="166.7" cy="86.1" r="2.1"/><circle cx="175.8" cy="82.1" r="2.1"/><circle cx="180.3" cy="81.6" r="2.1"/><circle cx="149.8" cy="92.2" r="2.1"/><circle cx="152.9" cy="89.0" r="2.1"/><circle cx="162.7" cy="88.7" r="2.1"/><circle cx="168.5" cy="92.1" r="2.1"/><circle cx="153.8" cy="97.9" r="2.1"/><circle cx="157.9" cy="95.8" r="2.1"/><circle cx="167.5" cy="99.0" r="2.1"/><circle cx="157.2" cy="90.1" r="2.1"/><circle cx="150.1" cy="99.5" r="2.1"/><circle cx="159.3" cy="97.5" r="2.1"/><circle cx="145.5" cy="104.7" r="2.1"/><circle cx="153.1" cy="107.5" r="2.1"/><circle cx="151.5" cy="109.5" r="2.1"/><circle cx="146.6" cy="119.8" r="2.1"/><circle cx="153.4" cy="117.7" r="2.1"/></g>
</g>
<rect x="44.5" y="32.3" width="211.2" height="214.1" fill="none" stroke="#262626" stroke-width="1.3"/>
<path d="M52.2,246.4V251.6M44.5,239.1H39.3M88.4,246.4V251.6M44.5,202.3H39.3M124.6,246.4V251.6M44.5,165.6H39.3M160.8,246.4V251.6M44.5,128.8H39.3M197.0,246.4V251.6M44.5,92.1H39.3M233.2,246.4V251.6M44.5,55.3H39.3" stroke="#262626" stroke-width="1.3" fill="none"/>
<g font-size="8.2" fill="#666" stroke="#666" stroke-width="0.05"><text x="52.2" y="264.0" text-anchor="middle">0</text><text transform="translate(33.0,239.1) rotate(-90)" text-anchor="middle">0</text><text x="88.4" y="264.0" text-anchor="middle">5</text><text transform="translate(33.0,202.3) rotate(-90)" text-anchor="middle">5</text><text x="124.6" y="264.0" text-anchor="middle">10</text><text transform="translate(33.0,165.6) rotate(-90)" text-anchor="middle">10</text><text x="160.8" y="264.0" text-anchor="middle">15</text><text transform="translate(33.0,128.8) rotate(-90)" text-anchor="middle">15</text><text x="197.0" y="264.0" text-anchor="middle">20</text><text transform="translate(33.0,92.1) rotate(-90)" text-anchor="middle">20</text><text x="233.2" y="264.0" text-anchor="middle">25</text><text transform="translate(33.0,55.3) rotate(-90)" text-anchor="middle">25</text></g>
<text x="150.1" y="18.1" text-anchor="middle" font-size="10.8" font-weight="bold" fill="#141414" stroke="#141414" stroke-width="0.3">PSD 2</text>
<text x="86.5" y="283.0" font-size="9.75" fill="#262626" stroke="#262626" stroke-width="0.18">log2 PSD 1 average peak</text>
<text x="86.5" y="294.0" font-size="9.75" fill="#262626" stroke="#262626" stroke-width="0.18">area</text>
<text transform="translate(15.3,139.3) rotate(-90)" text-anchor="middle" font-size="9.75" fill="#262626" stroke="#262626" stroke-width="0.18">log2 PSD 2 average peak area</text>
</g>
<g>
<clipPath id="c1"><rect x="313.3" y="32.3" width="210.9" height="214.1"/></clipPath>
<line x1="283.8" y1="277.2" x2="612.3" y2="-65.7" stroke="#d4d4d4" stroke-width="1.1" clip-path="url(#c1)"/>
<clipPath id="d1"><rect x="310.3" y="29.299999999999997" width="216.9" height="220.1"/></clipPath>
<g clip-path="url(#d1)">
<g fill="#000"><circle cx="436.8" cy="76.1" r="2.2"/><circle cx="438.8" cy="76.8" r="2.2"/><circle cx="430.3" cy="79.2" r="2.2"/><circle cx="434.4" cy="78.5" r="2.2"/><circle cx="438.8" cy="78.6" r="2.2"/><circle cx="426.2" cy="82.7" r="2.2"/><circle cx="429.1" cy="82.0" r="2.2"/><circle cx="432.8" cy="81.1" r="2.2"/><circle cx="436.6" cy="82.9" r="2.2"/><circle cx="438.7" cy="82.6" r="2.2"/><circle cx="424.5" cy="85.2" r="2.2"/><circle cx="426.9" cy="83.7" r="2.2"/><circle cx="429.8" cy="84.2" r="2.2"/><circle cx="434.4" cy="85.6" r="2.2"/><circle cx="437.1" cy="84.7" r="2.2"/><circle cx="419.0" cy="88.0" r="2.2"/><circle cx="422.2" cy="88.6" r="2.2"/><circle cx="424.7" cy="88.8" r="2.2"/><circle cx="430.1" cy="86.9" r="2.2"/><circle cx="431.8" cy="87.4" r="2.2"/><circle cx="435.0" cy="87.1" r="2.2"/><circle cx="440.0" cy="87.1" r="2.2"/><circle cx="416.8" cy="90.7" r="2.2"/><circle cx="420.2" cy="90.3" r="2.2"/><circle cx="424.1" cy="90.5" r="2.2"/><circle cx="426.4" cy="90.3" r="2.2"/><circle cx="430.6" cy="92.2" r="2.2"/><circle cx="434.6" cy="92.4" r="2.2"/><circle cx="437.6" cy="90.5" r="2.2"/><circle cx="416.4" cy="93.9" r="2.2"/><circle cx="418.0" cy="93.6" r="2.2"/><circle cx="421.6" cy="95.3" r="2.2"/><circle cx="426.9" cy="94.3" r="2.2"/><circle cx="428.4" cy="92.9" r="2.2"/><circle cx="431.5" cy="93.6" r="2.2"/><circle cx="436.5" cy="94.5" r="2.2"/><circle cx="413.2" cy="97.8" r="2.2"/><circle cx="416.0" cy="98.4" r="2.2"/><circle cx="419.1" cy="97.5" r="2.2"/><circle cx="423.5" cy="98.0" r="2.2"/><circle cx="426.4" cy="98.2" r="2.2"/><circle cx="429.6" cy="97.8" r="2.2"/><circle cx="434.9" cy="97.2" r="2.2"/><circle cx="437.0" cy="96.9" r="2.2"/><circle cx="451.0" cy="64.7" r="2.2"/><circle cx="446.6" cy="67.4" r="2.2"/><circle cx="449.7" cy="68.4" r="2.2"/><circle cx="452.8" cy="68.4" r="2.2"/><circle cx="457.2" cy="67.9" r="2.2"/><circle cx="459.0" cy="66.3" r="2.2"/><circle cx="441.1" cy="71.0" r="2.2"/><circle cx="444.1" cy="69.3" r="2.2"/><circle cx="447.4" cy="71.3" r="2.2"/><circle cx="450.4" cy="71.6" r="2.2"/><circle cx="454.4" cy="69.7" r="2.2"/><circle cx="457.5" cy="71.7" r="2.2"/><circle cx="441.6" cy="72.6" r="2.2"/><circle cx="445.3" cy="73.1" r="2.2"/><circle cx="449.4" cy="73.4" r="2.2"/><circle cx="453.7" cy="74.0" r="2.2"/><circle cx="457.2" cy="73.2" r="2.2"/><circle cx="460.7" cy="73.6" r="2.2"/><circle cx="462.8" cy="73.6" r="2.2"/><circle cx="438.8" cy="77.7" r="2.2"/><circle cx="439.9" cy="76.3" r="2.2"/><circle cx="444.4" cy="76.0" r="2.2"/><circle cx="448.3" cy="75.6" r="2.2"/><circle cx="452.1" cy="77.5" r="2.2"/><circle cx="453.9" cy="77.1" r="2.2"/><circle cx="457.9" cy="76.9" r="2.2"/><circle cx="462.5" cy="77.8" r="2.2"/><circle cx="466.3" cy="76.1" r="2.2"/><circle cx="429.3" cy="79.8" r="2.2"/><circle cx="432.7" cy="80.6" r="2.2"/><circle cx="435.6" cy="78.4" r="2.2"/><circle cx="438.4" cy="79.6" r="2.2"/><circle cx="443.3" cy="80.7" r="2.2"/><circle cx="446.3" cy="78.9" r="2.2"/><circle cx="450.0" cy="80.7" r="2.2"/><circle cx="452.8" cy="80.7" r="2.2"/><circle cx="457.8" cy="79.8" r="2.2"/><circle cx="460.2" cy="78.6" r="2.2"/><circle cx="462.7" cy="78.4" r="2.2"/><circle cx="467.5" cy="80.2" r="2.2"/><circle cx="426.3" cy="83.2" r="2.2"/><circle cx="430.2" cy="82.8" r="2.2"/><circle cx="433.1" cy="83.6" r="2.2"/><circle cx="438.6" cy="83.3" r="2.2"/><circle cx="442.1" cy="82.2" r="2.2"/><circle cx="443.3" cy="82.1" r="2.2"/><circle cx="449.0" cy="82.6" r="2.2"/><circle cx="450.7" cy="81.7" r="2.2"/><circle cx="454.1" cy="82.5" r="2.2"/><circle cx="459.6" cy="83.6" r="2.2"/><circle cx="462.7" cy="83.3" r="2.2"/><circle cx="464.7" cy="83.4" r="2.2"/><circle cx="468.3" cy="82.7" r="2.2"/><circle cx="422.2" cy="85.4" r="2.2"/><circle cx="426.0" cy="86.8" r="2.2"/><circle cx="429.1" cy="86.9" r="2.2"/><circle cx="433.2" cy="84.5" r="2.2"/><circle cx="436.2" cy="84.6" r="2.2"/><circle cx="439.7" cy="85.4" r="2.2"/><circle cx="443.7" cy="84.5" r="2.2"/><circle cx="447.4" cy="84.5" r="2.2"/><circle cx="448.6" cy="84.4" r="2.2"/><circle cx="452.3" cy="87.0" r="2.2"/><circle cx="457.6" cy="86.8" r="2.2"/><circle cx="459.4" cy="86.2" r="2.2"/><circle cx="464.5" cy="86.3" r="2.2"/><circle cx="466.7" cy="86.9" r="2.2"/><circle cx="471.3" cy="86.2" r="2.2"/><circle cx="423.3" cy="89.7" r="2.2"/><circle cx="425.8" cy="88.8" r="2.2"/><circle cx="431.1" cy="87.5" r="2.2"/><circle cx="434.5" cy="88.2" r="2.2"/><circle cx="437.8" cy="89.1" r="2.2"/><circle cx="440.1" cy="89.9" r="2.2"/><circle cx="443.8" cy="87.8" r="2.2"/><circle cx="447.9" cy="87.6" r="2.2"/><circle cx="450.5" cy="89.4" r="2.2"/><circle cx="454.0" cy="88.8" r="2.2"/><circle cx="459.5" cy="88.6" r="2.2"/><circle cx="462.8" cy="89.6" r="2.2"/><circle cx="464.6" cy="87.6" r="2.2"/><circle cx="469.7" cy="89.7" r="2.2"/><circle cx="473.4" cy="89.3" r="2.2"/><circle cx="476.0" cy="89.9" r="2.2"/><circle cx="422.8" cy="90.6" r="2.2"/><circle cx="425.9" cy="92.0" r="2.2"/><circle cx="427.5" cy="91.1" r="2.2"/><circle cx="432.8" cy="91.9" r="2.2"/><circle cx="435.9" cy="91.2" r="2.2"/><circle cx="439.4" cy="92.8" r="2.2"/><circle cx="444.0" cy="91.9" r="2.2"/><circle cx="446.9" cy="90.7" r="2.2"/><circle cx="448.8" cy="91.9" r="2.2"/><circle cx="454.1" cy="90.8" r="2.2"/><circle cx="455.8" cy="91.8" r="2.2"/><circle cx="459.7" cy="90.8" r="2.2"/><circle cx="462.9" cy="91.6" r="2.2"/><circle cx="468.0" cy="90.9" r="2.2"/><circle cx="471.5" cy="90.7" r="2.2"/><circle cx="473.6" cy="92.2" r="2.2"/><circle cx="476.5" cy="91.3" r="2.2"/><circle cx="424.5" cy="93.9" r="2.2"/><circle cx="427.6" cy="95.9" r="2.2"/><circle cx="429.8" cy="95.8" r="2.2"/><circle cx="433.5" cy="95.5" r="2.2"/><circle cx="437.7" cy="94.4" r="2.2"/><circle cx="442.0" cy="95.3" r="2.2"/><circle cx="444.0" cy="95.0" r="2.2"/><circle cx="447.5" cy="94.3" r="2.2"/><circle cx="452.6" cy="96.1" r="2.2"/><circle cx="454.1" cy="95.9" r="2.2"/><circle cx="459.1" cy="93.6" r="2.2"/><circle cx="461.0" cy="94.7" r="2.2"/><circle cx="466.5" cy="95.8" r="2.2"/><circle cx="468.4" cy="94.7" r="2.2"/><circle cx="473.6" cy="94.1" r="2.2"/><circle cx="475.0" cy="94.6" r="2.2"/><circle cx="480.0" cy="95.8" r="2.2"/><circle cx="422.7" cy="96.6" r="2.2"/><circle cx="424.4" cy="96.9" r="2.2"/><circle cx="429.0" cy="97.6" r="2.2"/><circle cx="433.3" cy="98.2" r="2.2"/><circle cx="436.0" cy="98.4" r="2.2"/><circle cx="438.5" cy="98.9" r="2.2"/><circle cx="443.7" cy="98.7" r="2.2"/><circle cx="447.0" cy="97.0" r="2.2"/><circle cx="448.6" cy="97.5" r="2.2"/><circle cx="453.8" cy="97.1" r="2.2"/><circle cx="457.7" cy="98.8" r="2.2"/><circle cx="460.8" cy="97.8" r="2.2"/><circle cx="462.8" cy="98.7" r="2.2"/><circle cx="466.4" cy="97.9" r="2.2"/><circle cx="471.4" cy="98.2" r="2.2"/><circle cx="473.6" cy="98.9" r="2.2"/><circle cx="477.3" cy="97.7" r="2.2"/><circle cx="476.5" cy="58.6" r="2.2"/><circle cx="478.7" cy="57.3" r="2.2"/><circle cx="473.6" cy="61.0" r="2.2"/><circle cx="476.5" cy="61.1" r="2.2"/><circle cx="472.4" cy="64.5" r="2.2"/><circle cx="474.9" cy="63.0" r="2.2"/><circle cx="478.6" cy="64.5" r="2.2"/><circle cx="470.1" cy="66.8" r="2.2"/><circle cx="474.8" cy="66.2" r="2.2"/><circle cx="476.5" cy="67.3" r="2.2"/><circle cx="468.9" cy="70.0" r="2.2"/><circle cx="472.2" cy="70.0" r="2.2"/><circle cx="476.0" cy="71.2" r="2.2"/><circle cx="479.9" cy="70.5" r="2.2"/><circle cx="474.7" cy="73.7" r="2.2"/><circle cx="477.0" cy="73.8" r="2.2"/><circle cx="472.3" cy="76.3" r="2.2"/><circle cx="476.7" cy="76.3" r="2.2"/><circle cx="478.8" cy="77.4" r="2.2"/><circle cx="474.8" cy="79.0" r="2.2"/><circle cx="476.6" cy="79.8" r="2.2"/><circle cx="417.6" cy="91.0" r="2.2"/><circle cx="434.4" cy="90.1" r="2.2"/><circle cx="412.8" cy="93.9" r="2.2"/><circle cx="415.5" cy="92.7" r="2.2"/><circle cx="419.8" cy="94.2" r="2.2"/><circle cx="423.4" cy="93.0" r="2.2"/><circle cx="426.0" cy="92.5" r="2.2"/><circle cx="429.4" cy="94.3" r="2.2"/><circle cx="434.6" cy="94.1" r="2.2"/><circle cx="437.2" cy="93.6" r="2.2"/><circle cx="415.5" cy="95.0" r="2.2"/><circle cx="418.7" cy="96.6" r="2.2"/><circle cx="420.3" cy="96.1" r="2.2"/><circle cx="426.2" cy="97.4" r="2.2"/><circle cx="428.5" cy="96.8" r="2.2"/><circle cx="432.4" cy="95.5" r="2.2"/><circle cx="435.5" cy="96.3" r="2.2"/><circle cx="438.6" cy="96.9" r="2.2"/><circle cx="411.4" cy="99.5" r="2.2"/><circle cx="417.1" cy="99.2" r="2.2"/><circle cx="419.8" cy="99.5" r="2.2"/><circle cx="422.4" cy="98.8" r="2.2"/><circle cx="426.8" cy="99.5" r="2.2"/><circle cx="429.8" cy="99.1" r="2.2"/><circle cx="433.2" cy="99.3" r="2.2"/><circle cx="437.6" cy="98.7" r="2.2"/><circle cx="410.4" cy="103.3" r="2.2"/><circle cx="413.6" cy="101.8" r="2.2"/><circle cx="418.7" cy="101.0" r="2.2"/><circle cx="421.7" cy="103.1" r="2.2"/><circle cx="426.0" cy="102.7" r="2.2"/><circle cx="428.0" cy="101.7" r="2.2"/><circle cx="432.2" cy="101.1" r="2.2"/><circle cx="434.2" cy="103.2" r="2.2"/><circle cx="439.2" cy="101.3" r="2.2"/><circle cx="410.1" cy="104.7" r="2.2"/><circle cx="413.2" cy="105.9" r="2.2"/><circle cx="415.7" cy="104.6" r="2.2"/><circle cx="419.7" cy="105.0" r="2.2"/><circle cx="423.4" cy="104.8" r="2.2"/><circle cx="427.4" cy="105.0" r="2.2"/><circle cx="429.2" cy="105.9" r="2.2"/><circle cx="434.7" cy="105.7" r="2.2"/><circle cx="437.3" cy="106.2" r="2.2"/><circle cx="410.4" cy="107.6" r="2.2"/><circle cx="414.3" cy="108.7" r="2.2"/><circle cx="418.8" cy="107.6" r="2.2"/><circle cx="420.1" cy="109.6" r="2.2"/><circle cx="425.6" cy="108.4" r="2.2"/><circle cx="427.4" cy="107.1" r="2.2"/><circle cx="433.0" cy="108.3" r="2.2"/><circle cx="436.3" cy="109.0" r="2.2"/><circle cx="439.5" cy="109.1" r="2.2"/><circle cx="409.0" cy="112.0" r="2.2"/><circle cx="413.4" cy="112.0" r="2.2"/><circle cx="416.3" cy="111.3" r="2.2"/><circle cx="418.8" cy="111.7" r="2.2"/><circle cx="423.5" cy="111.4" r="2.2"/><circle cx="427.2" cy="112.6" r="2.2"/><circle cx="431.3" cy="110.3" r="2.2"/><circle cx="433.1" cy="111.6" r="2.2"/><circle cx="437.6" cy="110.8" r="2.2"/><circle cx="405.0" cy="114.3" r="2.2"/><circle cx="408.1" cy="113.2" r="2.2"/><circle cx="410.3" cy="113.1" r="2.2"/><circle cx="415.1" cy="114.4" r="2.2"/><circle cx="419.1" cy="114.6" r="2.2"/><circle cx="420.9" cy="114.0" r="2.2"/><circle cx="424.6" cy="113.6" r="2.2"/><circle cx="427.4" cy="114.7" r="2.2"/><circle cx="431.4" cy="114.2" r="2.2"/><circle cx="435.9" cy="113.8" r="2.2"/><circle cx="438.7" cy="113.9" r="2.2"/><circle cx="405.2" cy="117.8" r="2.2"/><circle cx="408.1" cy="117.1" r="2.2"/><circle cx="411.6" cy="117.8" r="2.2"/><circle cx="415.6" cy="118.6" r="2.2"/><circle cx="419.6" cy="117.8" r="2.2"/><circle cx="423.2" cy="118.2" r="2.2"/><circle cx="427.2" cy="117.8" r="2.2"/><circle cx="428.9" cy="116.5" r="2.2"/><circle cx="434.3" cy="117.2" r="2.2"/><circle cx="438.4" cy="117.8" r="2.2"/><circle cx="408.6" cy="120.9" r="2.2"/><circle cx="412.0" cy="120.3" r="2.2"/><circle cx="413.8" cy="119.4" r="2.2"/><circle cx="417.2" cy="121.5" r="2.2"/><circle cx="421.8" cy="119.3" r="2.2"/><circle cx="423.7" cy="120.3" r="2.2"/><circle cx="428.5" cy="120.1" r="2.2"/><circle cx="430.6" cy="119.8" r="2.2"/><circle cx="436.4" cy="121.0" r="2.2"/><circle cx="439.7" cy="119.9" r="2.2"/><circle cx="408.6" cy="124.7" r="2.2"/><circle cx="411.9" cy="123.0" r="2.2"/><circle cx="415.4" cy="124.5" r="2.2"/><circle cx="420.1" cy="123.7" r="2.2"/><circle cx="424.0" cy="123.4" r="2.2"/><circle cx="427.7" cy="124.2" r="2.2"/><circle cx="429.6" cy="122.8" r="2.2"/><circle cx="433.7" cy="123.4" r="2.2"/><circle cx="437.9" cy="123.9" r="2.2"/><circle cx="412.1" cy="126.9" r="2.2"/><circle cx="414.9" cy="125.8" r="2.2"/><circle cx="416.9" cy="126.4" r="2.2"/><circle cx="421.6" cy="127.1" r="2.2"/><circle cx="424.8" cy="126.7" r="2.2"/><circle cx="427.3" cy="125.4" r="2.2"/><circle cx="430.9" cy="126.1" r="2.2"/><circle cx="434.7" cy="125.6" r="2.2"/><circle cx="438.5" cy="126.1" r="2.2"/><circle cx="410.4" cy="130.2" r="2.2"/><circle cx="411.4" cy="128.9" r="2.2"/><circle cx="417.4" cy="130.1" r="2.2"/><circle cx="420.6" cy="128.8" r="2.2"/><circle cx="422.5" cy="128.5" r="2.2"/><circle cx="426.7" cy="129.2" r="2.2"/><circle cx="430.1" cy="128.6" r="2.2"/><circle cx="432.4" cy="129.3" r="2.2"/><circle cx="438.2" cy="130.0" r="2.2"/><circle cx="407.2" cy="132.3" r="2.2"/><circle cx="411.2" cy="132.4" r="2.2"/><circle cx="415.2" cy="132.0" r="2.2"/><circle cx="418.5" cy="131.3" r="2.2"/><circle cx="420.5" cy="133.4" r="2.2"/><circle cx="425.8" cy="132.1" r="2.2"/><circle cx="427.6" cy="133.8" r="2.2"/><circle cx="432.1" cy="131.6" r="2.2"/><circle cx="436.7" cy="132.8" r="2.2"/><circle cx="438.4" cy="132.6" r="2.2"/><circle cx="408.9" cy="135.4" r="2.2"/><circle cx="413.2" cy="135.2" r="2.2"/><circle cx="417.0" cy="136.3" r="2.2"/><circle cx="420.8" cy="134.8" r="2.2"/><circle cx="424.1" cy="136.2" r="2.2"/><circle cx="425.8" cy="136.7" r="2.2"/><circle cx="430.1" cy="134.8" r="2.2"/><circle cx="432.9" cy="137.0" r="2.2"/><circle cx="437.9" cy="135.0" r="2.2"/><circle cx="404.9" cy="137.5" r="2.2"/><circle cx="407.9" cy="139.1" r="2.2"/><circle cx="411.8" cy="139.8" r="2.2"/><circle cx="415.0" cy="139.6" r="2.2"/><circle cx="417.8" cy="139.8" r="2.2"/><circle cx="421.2" cy="139.3" r="2.2"/><circle cx="425.5" cy="138.5" r="2.2"/><circle cx="429.2" cy="139.3" r="2.2"/><circle cx="431.0" cy="138.9" r="2.2"/><circle cx="435.3" cy="139.0" r="2.2"/><circle cx="437.7" cy="139.2" r="2.2"/><circle cx="405.4" cy="142.4" r="2.2"/><circle cx="408.5" cy="140.5" r="2.2"/><circle cx="412.5" cy="142.1" r="2.2"/><circle cx="416.9" cy="141.9" r="2.2"/><circle cx="420.6" cy="140.9" r="2.2"/><circle cx="422.2" cy="141.5" r="2.2"/><circle cx="427.0" cy="142.5" r="2.2"/><circle cx="429.0" cy="142.0" r="2.2"/><circle cx="433.2" cy="141.8" r="2.2"/><circle cx="436.1" cy="140.9" r="2.2"/><circle cx="408.6" cy="144.8" r="2.2"/><circle cx="410.5" cy="144.0" r="2.2"/><circle cx="414.4" cy="144.8" r="2.2"/><circle cx="417.2" cy="146.0" r="2.2"/><circle cx="421.4" cy="145.5" r="2.2"/><circle cx="425.4" cy="145.7" r="2.2"/><circle cx="427.3" cy="146.0" r="2.2"/><circle cx="432.1" cy="143.9" r="2.2"/><circle cx="435.6" cy="143.7" r="2.2"/><circle cx="438.7" cy="143.8" r="2.2"/><circle cx="410.0" cy="148.5" r="2.2"/><circle cx="413.8" cy="148.6" r="2.2"/><circle cx="416.4" cy="148.1" r="2.2"/><circle cx="420.8" cy="146.9" r="2.2"/><circle cx="423.2" cy="148.0" r="2.2"/><circle cx="425.4" cy="148.8" r="2.2"/><circle cx="430.6" cy="147.4" r="2.2"/><circle cx="434.4" cy="147.8" r="2.2"/><circle cx="437.7" cy="148.0" r="2.2"/><circle cx="421.2" cy="91.0" r="2.2"/><circle cx="426.6" cy="90.6" r="2.2"/><circle cx="433.1" cy="91.0" r="2.2"/><circle cx="436.5" cy="90.4" r="2.2"/><circle cx="440.6" cy="90.4" r="2.2"/><circle cx="445.4" cy="90.2" r="2.2"/><circle cx="451.8" cy="90.3" r="2.2"/><circle cx="461.2" cy="90.2" r="2.2"/><circle cx="464.5" cy="90.3" r="2.2"/><circle cx="469.8" cy="90.9" r="2.2"/><circle cx="422.9" cy="92.7" r="2.2"/><circle cx="426.5" cy="92.3" r="2.2"/><circle cx="429.6" cy="91.9" r="2.2"/><circle cx="432.7" cy="93.8" r="2.2"/><circle cx="435.9" cy="93.4" r="2.2"/><circle cx="440.3" cy="94.3" r="2.2"/><circle cx="441.9" cy="93.1" r="2.2"/><circle cx="445.1" cy="92.7" r="2.2"/><circle cx="448.8" cy="92.2" r="2.2"/><circle cx="453.6" cy="92.0" r="2.2"/><circle cx="455.9" cy="91.8" r="2.2"/><circle cx="461.1" cy="92.4" r="2.2"/><circle cx="462.6" cy="93.4" r="2.2"/><circle cx="467.8" cy="93.4" r="2.2"/><circle cx="470.9" cy="93.1" r="2.2"/><circle cx="420.9" cy="96.6" r="2.2"/><circle cx="424.4" cy="97.1" r="2.2"/><circle cx="427.9" cy="96.1" r="2.2"/><circle cx="430.6" cy="96.7" r="2.2"/><circle cx="434.2" cy="94.9" r="2.2"/><circle cx="438.6" cy="95.3" r="2.2"/><circle cx="441.0" cy="96.0" r="2.2"/><circle cx="443.4" cy="96.3" r="2.2"/><circle cx="448.2" cy="96.9" r="2.2"/><circle cx="451.8" cy="95.6" r="2.2"/><circle cx="455.2" cy="97.3" r="2.2"/><circle cx="458.9" cy="97.0" r="2.2"/><circle cx="460.7" cy="96.6" r="2.2"/><circle cx="464.7" cy="95.2" r="2.2"/><circle cx="468.6" cy="95.3" r="2.2"/><circle cx="471.4" cy="95.3" r="2.2"/><circle cx="421.0" cy="98.5" r="2.2"/><circle cx="426.0" cy="98.1" r="2.2"/><circle cx="428.0" cy="98.0" r="2.2"/><circle cx="432.3" cy="98.4" r="2.2"/><circle cx="435.8" cy="98.5" r="2.2"/><circle cx="438.5" cy="99.1" r="2.2"/><circle cx="441.6" cy="100.1" r="2.2"/><circle cx="446.4" cy="98.9" r="2.2"/><circle cx="449.9" cy="100.3" r="2.2"/><circle cx="453.2" cy="98.9" r="2.2"/><circle cx="456.0" cy="98.8" r="2.2"/><circle cx="461.0" cy="99.4" r="2.2"/><circle cx="463.2" cy="100.2" r="2.2"/><circle cx="466.3" cy="98.8" r="2.2"/><circle cx="420.2" cy="102.0" r="2.2"/><circle cx="422.3" cy="101.8" r="2.2"/><circle cx="428.0" cy="101.0" r="2.2"/><circle cx="429.7" cy="101.3" r="2.2"/><circle cx="434.8" cy="101.7" r="2.2"/><circle cx="438.0" cy="102.6" r="2.2"/><circle cx="439.7" cy="102.0" r="2.2"/><circle cx="443.5" cy="103.0" r="2.2"/><circle cx="448.0" cy="101.8" r="2.2"/><circle cx="452.3" cy="103.0" r="2.2"/><circle cx="453.9" cy="101.1" r="2.2"/><circle cx="458.0" cy="101.7" r="2.2"/><circle cx="461.8" cy="102.0" r="2.2"/><circle cx="466.7" cy="102.6" r="2.2"/><circle cx="420.9" cy="105.4" r="2.2"/><circle cx="424.3" cy="106.3" r="2.2"/><circle cx="428.2" cy="106.3" r="2.2"/><circle cx="431.5" cy="104.5" r="2.2"/><circle cx="435.1" cy="106.1" r="2.2"/><circle cx="440.1" cy="105.9" r="2.2"/><circle cx="442.9" cy="104.3" r="2.2"/><circle cx="445.6" cy="104.0" r="2.2"/><circle cx="450.9" cy="104.3" r="2.2"/><circle cx="453.8" cy="103.9" r="2.2"/><circle cx="456.2" cy="105.5" r="2.2"/><circle cx="459.4" cy="104.1" r="2.2"/><circle cx="464.8" cy="104.7" r="2.2"/><circle cx="466.0" cy="105.8" r="2.2"/><circle cx="420.3" cy="107.6" r="2.2"/><circle cx="423.3" cy="108.9" r="2.2"/><circle cx="427.4" cy="109.1" r="2.2"/><circle cx="431.7" cy="108.3" r="2.2"/><circle cx="435.3" cy="107.3" r="2.2"/><circle cx="437.5" cy="108.7" r="2.2"/><circle cx="442.1" cy="108.2" r="2.2"/><circle cx="444.3" cy="109.3" r="2.2"/><circle cx="447.9" cy="107.1" r="2.2"/><circle cx="451.4" cy="107.7" r="2.2"/><circle cx="455.4" cy="109.1" r="2.2"/><circle cx="457.3" cy="107.8" r="2.2"/><circle cx="463.0" cy="109.1" r="2.2"/><circle cx="466.2" cy="108.0" r="2.2"/><circle cx="422.1" cy="110.4" r="2.2"/><circle cx="424.0" cy="110.1" r="2.2"/><circle cx="427.6" cy="111.3" r="2.2"/><circle cx="433.4" cy="111.5" r="2.2"/><circle cx="436.5" cy="112.0" r="2.2"/><circle cx="440.4" cy="110.7" r="2.2"/><circle cx="442.7" cy="112.4" r="2.2"/><circle cx="445.8" cy="111.8" r="2.2"/><circle cx="449.5" cy="110.4" r="2.2"/><circle cx="452.5" cy="111.0" r="2.2"/><circle cx="455.5" cy="112.3" r="2.2"/><circle cx="459.9" cy="110.6" r="2.2"/><circle cx="464.5" cy="110.0" r="2.2"/><circle cx="423.7" cy="113.6" r="2.2"/><circle cx="427.9" cy="114.0" r="2.2"/><circle cx="431.7" cy="113.4" r="2.2"/><circle cx="433.3" cy="113.1" r="2.2"/><circle cx="436.3" cy="113.5" r="2.2"/><circle cx="441.2" cy="114.5" r="2.2"/><circle cx="445.1" cy="113.7" r="2.2"/><circle cx="448.3" cy="115.6" r="2.2"/><circle cx="451.0" cy="113.7" r="2.2"/><circle cx="454.2" cy="115.6" r="2.2"/><circle cx="458.9" cy="114.3" r="2.2"/><circle cx="462.0" cy="113.3" r="2.2"/><circle cx="421.7" cy="118.1" r="2.2"/><circle cx="425.9" cy="118.3" r="2.2"/><circle cx="429.8" cy="117.6" r="2.2"/><circle cx="431.5" cy="117.4" r="2.2"/><circle cx="436.9" cy="116.6" r="2.2"/><circle cx="438.7" cy="116.6" r="2.2"/><circle cx="443.7" cy="116.4" r="2.2"/><circle cx="445.3" cy="117.7" r="2.2"/><circle cx="450.3" cy="117.2" r="2.2"/><circle cx="453.9" cy="117.9" r="2.2"/><circle cx="456.5" cy="116.3" r="2.2"/><circle cx="460.7" cy="117.7" r="2.2"/><circle cx="423.5" cy="121.0" r="2.2"/><circle cx="427.9" cy="119.4" r="2.2"/><circle cx="430.6" cy="121.7" r="2.2"/><circle cx="433.7" cy="119.5" r="2.2"/><circle cx="437.9" cy="121.3" r="2.2"/><circle cx="439.8" cy="119.4" r="2.2"/><circle cx="444.0" cy="120.1" r="2.2"/><circle cx="447.0" cy="119.4" r="2.2"/><circle cx="451.3" cy="121.6" r="2.2"/><circle cx="455.2" cy="119.9" r="2.2"/><circle cx="459.7" cy="119.9" r="2.2"/><circle cx="461.1" cy="119.5" r="2.2"/><circle cx="421.4" cy="123.1" r="2.2"/><circle cx="424.4" cy="122.4" r="2.2"/><circle cx="429.2" cy="124.5" r="2.2"/><circle cx="433.4" cy="122.8" r="2.2"/><circle cx="436.1" cy="122.9" r="2.2"/><circle cx="440.1" cy="124.6" r="2.2"/><circle cx="441.5" cy="122.7" r="2.2"/><circle cx="447.2" cy="124.7" r="2.2"/><circle cx="450.7" cy="122.4" r="2.2"/><circle cx="453.5" cy="124.2" r="2.2"/><circle cx="456.9" cy="123.6" r="2.2"/><circle cx="421.2" cy="127.0" r="2.2"/><circle cx="424.4" cy="127.4" r="2.2"/><circle cx="427.6" cy="126.3" r="2.2"/><circle cx="431.0" cy="127.3" r="2.2"/><circle cx="433.4" cy="127.3" r="2.2"/><circle cx="437.8" cy="126.2" r="2.2"/><circle cx="440.8" cy="127.6" r="2.2"/><circle cx="443.4" cy="125.4" r="2.2"/><circle cx="448.0" cy="125.5" r="2.2"/><circle cx="452.4" cy="127.6" r="2.2"/><circle cx="454.6" cy="126.2" r="2.2"/><circle cx="422.7" cy="130.0" r="2.2"/><circle cx="425.3" cy="128.9" r="2.2"/><circle cx="428.4" cy="128.5" r="2.2"/><circle cx="431.6" cy="128.5" r="2.2"/><circle cx="435.0" cy="129.9" r="2.2"/><circle cx="439.4" cy="130.5" r="2.2"/><circle cx="442.9" cy="129.2" r="2.2"/><circle cx="445.9" cy="130.4" r="2.2"/><circle cx="448.5" cy="128.7" r="2.2"/><circle cx="453.1" cy="128.7" r="2.2"/><circle cx="421.0" cy="132.8" r="2.2"/><circle cx="423.3" cy="132.8" r="2.2"/><circle cx="427.4" cy="132.9" r="2.2"/><circle cx="430.6" cy="131.7" r="2.2"/><circle cx="435.2" cy="133.2" r="2.2"/><circle cx="438.5" cy="133.4" r="2.2"/><circle cx="440.3" cy="132.5" r="2.2"/><circle cx="444.8" cy="131.8" r="2.2"/><circle cx="448.8" cy="132.6" r="2.2"/><circle cx="422.9" cy="136.0" r="2.2"/><circle cx="425.5" cy="135.5" r="2.2"/><circle cx="429.8" cy="135.0" r="2.2"/><circle cx="433.2" cy="136.2" r="2.2"/><circle cx="436.3" cy="137.0" r="2.2"/><circle cx="439.2" cy="135.8" r="2.2"/><circle cx="442.5" cy="136.1" r="2.2"/><circle cx="447.2" cy="136.4" r="2.2"/><circle cx="449.1" cy="136.5" r="2.2"/><circle cx="422.9" cy="137.8" r="2.2"/><circle cx="427.3" cy="139.8" r="2.2"/><circle cx="430.4" cy="137.8" r="2.2"/><circle cx="434.4" cy="137.9" r="2.2"/><circle cx="437.9" cy="139.3" r="2.2"/><circle cx="440.2" cy="138.2" r="2.2"/><circle cx="444.4" cy="139.1" r="2.2"/><circle cx="448.5" cy="139.9" r="2.2"/><circle cx="451.8" cy="139.8" r="2.2"/><circle cx="421.4" cy="141.2" r="2.2"/><circle cx="425.0" cy="142.0" r="2.2"/><circle cx="428.2" cy="140.6" r="2.2"/><circle cx="431.1" cy="142.9" r="2.2"/><circle cx="436.2" cy="140.8" r="2.2"/><circle cx="439.0" cy="142.4" r="2.2"/><circle cx="442.4" cy="142.2" r="2.2"/><circle cx="447.5" cy="141.4" r="2.2"/><circle cx="449.6" cy="140.9" r="2.2"/><circle cx="453.8" cy="141.7" r="2.2"/><circle cx="420.9" cy="143.8" r="2.2"/><circle cx="424.3" cy="144.7" r="2.2"/><circle cx="427.6" cy="144.7" r="2.2"/><circle cx="429.8" cy="144.5" r="2.2"/><circle cx="435.1" cy="145.5" r="2.2"/><circle cx="437.9" cy="144.6" r="2.2"/><circle cx="441.6" cy="143.9" r="2.2"/><circle cx="444.4" cy="144.4" r="2.2"/><circle cx="447.8" cy="145.6" r="2.2"/><circle cx="450.6" cy="144.2" r="2.2"/><circle cx="455.2" cy="144.3" r="2.2"/><circle cx="421.6" cy="147.8" r="2.2"/><circle cx="424.7" cy="148.9" r="2.2"/><circle cx="427.8" cy="147.9" r="2.2"/><circle cx="431.7" cy="147.4" r="2.2"/><circle cx="434.7" cy="149.0" r="2.2"/><circle cx="438.8" cy="148.4" r="2.2"/><circle cx="443.4" cy="148.9" r="2.2"/><circle cx="446.1" cy="147.8" r="2.2"/><circle cx="450.6" cy="148.0" r="2.2"/><circle cx="452.6" cy="147.5" r="2.2"/><circle cx="457.8" cy="147.4" r="2.2"/><circle cx="414.2" cy="131.2" r="2.2"/><circle cx="416.4" cy="130.7" r="2.2"/><circle cx="423.5" cy="130.7" r="2.2"/><circle cx="426.5" cy="130.4" r="2.2"/><circle cx="437.8" cy="131.0" r="2.2"/><circle cx="446.2" cy="130.3" r="2.2"/><circle cx="449.6" cy="130.8" r="2.2"/><circle cx="411.7" cy="132.4" r="2.2"/><circle cx="416.3" cy="134.3" r="2.2"/><circle cx="419.0" cy="132.0" r="2.2"/><circle cx="423.0" cy="133.7" r="2.2"/><circle cx="426.6" cy="134.3" r="2.2"/><circle cx="430.4" cy="133.7" r="2.2"/><circle cx="432.4" cy="133.1" r="2.2"/><circle cx="436.2" cy="133.7" r="2.2"/><circle cx="440.0" cy="133.9" r="2.2"/><circle cx="443.2" cy="133.3" r="2.2"/><circle cx="447.9" cy="133.8" r="2.2"/><circle cx="411.0" cy="136.6" r="2.2"/><circle cx="412.4" cy="135.9" r="2.2"/><circle cx="416.4" cy="135.5" r="2.2"/><circle cx="419.4" cy="135.1" r="2.2"/><circle cx="423.9" cy="136.8" r="2.2"/><circle cx="428.4" cy="137.3" r="2.2"/><circle cx="431.1" cy="134.8" r="2.2"/><circle cx="433.6" cy="134.9" r="2.2"/><circle cx="442.0" cy="136.0" r="2.2"/><circle cx="445.1" cy="137.0" r="2.2"/><circle cx="448.8" cy="135.0" r="2.2"/><circle cx="412.0" cy="138.8" r="2.2"/><circle cx="416.4" cy="138.5" r="2.2"/><circle cx="418.0" cy="140.2" r="2.2"/><circle cx="421.9" cy="138.1" r="2.2"/><circle cx="426.4" cy="140.2" r="2.2"/><circle cx="429.1" cy="138.3" r="2.2"/><circle cx="447.2" cy="140.4" r="2.2"/><circle cx="412.8" cy="143.1" r="2.2"/><circle cx="416.9" cy="142.7" r="2.2"/><circle cx="421.3" cy="142.3" r="2.2"/><circle cx="423.8" cy="140.9" r="2.2"/><circle cx="426.5" cy="142.7" r="2.2"/><circle cx="414.5" cy="144.6" r="2.2"/><circle cx="417.6" cy="144.7" r="2.2"/><circle cx="422.9" cy="146.1" r="2.2"/><circle cx="417.1" cy="147.2" r="2.2"/><circle cx="419.2" cy="147.5" r="2.2"/><circle cx="435.2" cy="144.9" r="2.2"/><circle cx="437.3" cy="146.6" r="2.2"/><circle cx="441.5" cy="146.1" r="2.2"/><circle cx="445.4" cy="146.0" r="2.2"/><circle cx="448.4" cy="145.1" r="2.2"/><circle cx="426.9" cy="148.3" r="2.2"/><circle cx="428.4" cy="148.4" r="2.2"/><circle cx="431.9" cy="149.9" r="2.2"/><circle cx="437.5" cy="149.7" r="2.2"/><circle cx="441.0" cy="149.2" r="2.2"/><circle cx="443.2" cy="148.7" r="2.2"/><circle cx="447.3" cy="148.3" r="2.2"/><circle cx="424.5" cy="153.0" r="2.2"/><circle cx="428.0" cy="151.1" r="2.2"/><circle cx="431.3" cy="152.7" r="2.2"/><circle cx="434.7" cy="150.9" r="2.2"/><circle cx="437.1" cy="152.2" r="2.2"/><circle cx="442.2" cy="152.1" r="2.2"/><circle cx="445.7" cy="152.2" r="2.2"/><circle cx="449.4" cy="151.3" r="2.2"/><circle cx="419.7" cy="155.8" r="2.2"/><circle cx="421.4" cy="154.4" r="2.2"/><circle cx="425.3" cy="155.9" r="2.2"/><circle cx="429.7" cy="154.0" r="2.2"/><circle cx="433.5" cy="154.6" r="2.2"/><circle cx="437.3" cy="154.5" r="2.2"/><circle cx="438.8" cy="154.7" r="2.2"/><circle cx="443.3" cy="154.9" r="2.2"/><circle cx="447.0" cy="154.1" r="2.2"/><circle cx="420.0" cy="157.0" r="2.2"/><circle cx="425.4" cy="158.1" r="2.2"/><circle cx="427.1" cy="157.3" r="2.2"/><circle cx="431.4" cy="156.9" r="2.2"/><circle cx="433.7" cy="158.6" r="2.2"/><circle cx="438.2" cy="158.7" r="2.2"/><circle cx="442.5" cy="157.7" r="2.2"/><circle cx="445.8" cy="159.0" r="2.2"/><circle cx="449.5" cy="158.3" r="2.2"/><circle cx="419.5" cy="160.0" r="2.2"/><circle cx="421.6" cy="161.4" r="2.2"/><circle cx="426.0" cy="161.5" r="2.2"/><circle cx="429.1" cy="160.0" r="2.2"/><circle cx="432.4" cy="160.4" r="2.2"/><circle cx="436.8" cy="160.5" r="2.2"/><circle cx="440.5" cy="161.3" r="2.2"/><circle cx="443.1" cy="161.5" r="2.2"/><circle cx="447.9" cy="160.8" r="2.2"/><circle cx="419.5" cy="165.2" r="2.2"/><circle cx="423.6" cy="165.3" r="2.2"/><circle cx="427.5" cy="164.0" r="2.2"/><circle cx="432.0" cy="163.2" r="2.2"/><circle cx="435.6" cy="163.7" r="2.2"/><circle cx="438.8" cy="165.4" r="2.2"/><circle cx="442.5" cy="163.8" r="2.2"/><circle cx="446.3" cy="164.3" r="2.2"/><circle cx="448.1" cy="163.9" r="2.2"/><circle cx="422.2" cy="167.5" r="2.2"/><circle cx="426.9" cy="167.2" r="2.2"/><circle cx="428.1" cy="167.6" r="2.2"/><circle cx="431.8" cy="167.5" r="2.2"/><circle cx="436.5" cy="167.2" r="2.2"/><circle cx="440.3" cy="166.2" r="2.2"/><circle cx="443.0" cy="166.5" r="2.2"/><circle cx="446.1" cy="166.3" r="2.2"/><circle cx="419.9" cy="171.3" r="2.2"/><circle cx="425.3" cy="170.6" r="2.2"/><circle cx="428.3" cy="169.1" r="2.2"/><circle cx="430.7" cy="170.9" r="2.2"/><circle cx="435.7" cy="169.2" r="2.2"/><circle cx="439.4" cy="171.6" r="2.2"/><circle cx="440.5" cy="170.1" r="2.2"/><circle cx="446.2" cy="169.9" r="2.2"/><circle cx="447.7" cy="170.6" r="2.2"/><circle cx="421.6" cy="173.4" r="2.2"/><circle cx="425.1" cy="174.5" r="2.2"/><circle cx="431.9" cy="172.5" r="2.2"/><circle cx="437.2" cy="173.3" r="2.2"/><circle cx="440.8" cy="173.8" r="2.2"/><circle cx="442.1" cy="172.4" r="2.2"/><circle cx="447.4" cy="172.8" r="2.2"/><circle cx="422.9" cy="175.4" r="2.2"/><circle cx="441.6" cy="176.3" r="2.2"/><circle cx="446.2" cy="176.3" r="2.2"/><circle cx="444.7" cy="130.4" r="2.2"/><circle cx="449.6" cy="131.3" r="2.2"/><circle cx="442.8" cy="132.5" r="2.2"/><circle cx="444.8" cy="132.2" r="2.2"/><circle cx="449.0" cy="134.1" r="2.2"/><circle cx="442.8" cy="135.9" r="2.2"/><circle cx="447.9" cy="135.4" r="2.2"/><circle cx="442.4" cy="140.1" r="2.2"/><circle cx="445.8" cy="138.6" r="2.2"/><circle cx="448.1" cy="139.3" r="2.2"/><circle cx="440.5" cy="143.0" r="2.2"/><circle cx="443.5" cy="143.0" r="2.2"/><circle cx="448.0" cy="142.2" r="2.2"/><circle cx="450.1" cy="141.9" r="2.2"/><circle cx="454.3" cy="142.4" r="2.2"/><circle cx="442.4" cy="145.7" r="2.2"/><circle cx="446.4" cy="146.4" r="2.2"/><circle cx="447.5" cy="145.0" r="2.2"/><circle cx="452.9" cy="145.3" r="2.2"/><circle cx="456.1" cy="144.6" r="2.2"/><circle cx="459.0" cy="146.2" r="2.2"/><circle cx="440.4" cy="149.3" r="2.2"/><circle cx="444.6" cy="149.4" r="2.2"/><circle cx="447.9" cy="149.4" r="2.2"/><circle cx="451.5" cy="149.4" r="2.2"/><circle cx="453.8" cy="148.0" r="2.2"/><circle cx="457.4" cy="149.0" r="2.2"/><circle cx="443.0" cy="151.8" r="2.2"/><circle cx="445.1" cy="150.2" r="2.2"/><circle cx="447.8" cy="150.2" r="2.2"/><circle cx="451.3" cy="150.0" r="2.2"/><circle cx="455.5" cy="150.8" r="2.2"/><circle cx="444.6" cy="154.4" r="2.2"/><circle cx="447.1" cy="153.9" r="2.2"/><circle cx="450.2" cy="153.8" r="2.2"/><circle cx="440.8" cy="157.8" r="2.2"/><circle cx="444.1" cy="158.0" r="2.2"/><circle cx="447.6" cy="157.7" r="2.2"/><circle cx="444.5" cy="159.8" r="2.2"/><circle cx="441.5" cy="162.4" r="2.2"/><circle cx="441.0" cy="165.7" r="2.2"/><circle cx="337.2" cy="110.3" r="2.2"/><circle cx="369.4" cy="111.2" r="2.2"/><circle cx="386.1" cy="98.2" r="2.2"/><circle cx="380.8" cy="105.9" r="2.2"/><circle cx="388.7" cy="124.1" r="2.2"/><circle cx="335.7" cy="132.2" r="2.2"/><circle cx="358.9" cy="136.7" r="2.2"/><circle cx="396.9" cy="153.4" r="2.2"/><circle cx="396.9" cy="159.3" r="2.2"/><circle cx="396.3" cy="165.0" r="2.2"/><circle cx="391.0" cy="163.6" r="2.2"/><circle cx="391.0" cy="166.9" r="2.2"/><circle cx="391.3" cy="171.1" r="2.2"/><circle cx="408.3" cy="187.0" r="2.2"/><circle cx="415.6" cy="183.9" r="2.2"/><circle cx="407.2" cy="178.0" r="2.2"/><circle cx="410.5" cy="180.0" r="2.2"/><circle cx="406.5" cy="171.3" r="2.2"/><circle cx="411.8" cy="175.3" r="2.2"/><circle cx="414.5" cy="172.7" r="2.2"/><circle cx="417.1" cy="174.6" r="2.2"/><circle cx="421.8" cy="176.6" r="2.2"/><circle cx="423.8" cy="174.0" r="2.2"/><circle cx="426.4" cy="171.3" r="2.2"/><circle cx="433.1" cy="171.3" r="2.2"/><circle cx="440.4" cy="175.3" r="2.2"/><circle cx="445.0" cy="174.0" r="2.2"/><circle cx="447.7" cy="177.3" r="2.2"/><circle cx="449.7" cy="181.3" r="2.2"/><circle cx="450.3" cy="183.9" r="2.2"/><circle cx="450.0" cy="190.2" r="2.2"/><circle cx="457.2" cy="190.6" r="2.2"/><circle cx="456.9" cy="194.9" r="2.2"/><circle cx="444.3" cy="196.5" r="2.2"/><circle cx="449.7" cy="195.9" r="2.2"/><circle cx="448.3" cy="200.2" r="2.2"/><circle cx="453.0" cy="201.6" r="2.2"/><circle cx="445.0" cy="203.2" r="2.2"/><circle cx="444.7" cy="206.1" r="2.2"/><circle cx="435.7" cy="200.2" r="2.2"/><circle cx="433.7" cy="203.8" r="2.2"/><circle cx="428.4" cy="204.2" r="2.2"/><circle cx="423.8" cy="202.5" r="2.2"/><circle cx="427.1" cy="205.6" r="2.2"/><circle cx="421.1" cy="207.4" r="2.2"/><circle cx="415.2" cy="213.5" r="2.2"/><circle cx="421.1" cy="213.5" r="2.2"/><circle cx="423.8" cy="212.2" r="2.2"/><circle cx="423.8" cy="215.8" r="2.2"/><circle cx="429.1" cy="211.4" r="2.2"/><circle cx="433.7" cy="209.5" r="2.2"/><circle cx="433.7" cy="212.7" r="2.2"/><circle cx="438.4" cy="210.9" r="2.2"/><circle cx="405.2" cy="220.8" r="2.2"/><circle cx="409.9" cy="218.4" r="2.2"/><circle cx="409.9" cy="223.3" r="2.2"/><circle cx="418.1" cy="220.4" r="2.2"/><circle cx="439.0" cy="218.8" r="2.2"/><circle cx="451.6" cy="214.4" r="2.2"/><circle cx="451.0" cy="216.4" r="2.2"/><circle cx="451.0" cy="223.7" r="2.2"/><circle cx="381.3" cy="197.6" r="2.2"/><circle cx="460.9" cy="132.0" r="2.2"/><circle cx="464.2" cy="130.7" r="2.2"/><circle cx="454.0" cy="135.6" r="2.2"/><circle cx="467.6" cy="136.6" r="2.2"/><circle cx="463.6" cy="139.6" r="2.2"/><circle cx="468.6" cy="140.9" r="2.2"/><circle cx="476.8" cy="150.8" r="2.2"/><circle cx="462.2" cy="153.2" r="2.2"/><circle cx="462.2" cy="160.2" r="2.2"/><circle cx="454.6" cy="165.2" r="2.2"/><circle cx="452.3" cy="169.5" r="2.2"/><circle cx="447.0" cy="168.7" r="2.2"/><circle cx="447.7" cy="177.1" r="2.2"/><circle cx="449.6" cy="181.1" r="2.2"/><circle cx="450.0" cy="184.4" r="2.2"/><circle cx="450.0" cy="190.4" r="2.2"/><circle cx="456.9" cy="190.8" r="2.2"/><circle cx="462.0" cy="189.7" r="2.2"/><circle cx="456.9" cy="195.0" r="2.2"/><circle cx="463.3" cy="195.9" r="2.2"/><circle cx="450.0" cy="195.7" r="2.2"/><circle cx="448.3" cy="200.0" r="2.2"/><circle cx="453.0" cy="201.6" r="2.2"/><circle cx="445.7" cy="204.3" r="2.2"/><circle cx="505.0" cy="211.9" r="2.2"/><circle cx="492.4" cy="40.2" r="2.2"/><circle cx="516.6" cy="49.5" r="2.2"/><circle cx="514.0" cy="51.9" r="2.2"/><circle cx="516.9" cy="56.5" r="2.2"/><circle cx="484.1" cy="47.3" r="2.2"/><circle cx="492.1" cy="48.6" r="2.2"/><circle cx="493.0" cy="51.2" r="2.2"/><circle cx="487.5" cy="51.9" r="2.2"/><circle cx="483.5" cy="51.9" r="2.2"/><circle cx="484.8" cy="55.2" r="2.2"/><circle cx="480.8" cy="56.5" r="2.2"/><circle cx="477.5" cy="57.9" r="2.2"/><circle cx="476.2" cy="59.9" r="2.2"/><circle cx="479.5" cy="60.5" r="2.2"/><circle cx="484.8" cy="60.5" r="2.2"/><circle cx="489.4" cy="57.9" r="2.2"/><circle cx="490.8" cy="59.2" r="2.2"/><circle cx="496.1" cy="59.2" r="2.2"/><circle cx="498.7" cy="56.5" r="2.2"/><circle cx="499.4" cy="55.2" r="2.2"/><circle cx="488.8" cy="62.5" r="2.2"/><circle cx="490.8" cy="65.8" r="2.2"/><circle cx="487.5" cy="66.5" r="2.2"/><circle cx="484.8" cy="66.5" r="2.2"/><circle cx="472.9" cy="63.2" r="2.2"/><circle cx="468.9" cy="65.8" r="2.2"/><circle cx="467.6" cy="67.8" r="2.2"/><circle cx="473.5" cy="68.5" r="2.2"/><circle cx="476.8" cy="67.8" r="2.2"/><circle cx="479.5" cy="69.8" r="2.2"/><circle cx="475.5" cy="71.8" r="2.2"/><circle cx="478.8" cy="74.5" r="2.2"/><circle cx="474.9" cy="75.1" r="2.2"/><circle cx="487.5" cy="77.1" r="2.2"/><circle cx="486.8" cy="79.1" r="2.2"/><circle cx="482.1" cy="81.1" r="2.2"/><circle cx="479.5" cy="83.1" r="2.2"/><circle cx="477.5" cy="86.4" r="2.2"/><circle cx="482.1" cy="87.1" r="2.2"/><circle cx="475.5" cy="90.4" r="2.2"/><circle cx="465.6" cy="55.2" r="2.2"/><circle cx="454.3" cy="59.9" r="2.2"/><circle cx="450.3" cy="64.5" r="2.2"/><circle cx="459.6" cy="65.8" r="2.2"/><circle cx="464.9" cy="75.1" r="2.2"/><circle cx="466.2" cy="78.4" r="2.2"/><circle cx="490.8" cy="99.9" r="2.2"/><circle cx="482.1" cy="107.6" r="2.2"/><circle cx="472.2" cy="98.3" r="2.2"/><circle cx="472.9" cy="106.3" r="2.2"/><circle cx="471.5" cy="102.3" r="2.2"/><circle cx="385.9" cy="97.8" r="2.2"/><circle cx="388.9" cy="124.0" r="2.2"/><circle cx="370.0" cy="111.7" r="2.2"/><circle cx="465.5" cy="54.4" r="2.2"/><circle cx="477.5" cy="150.5" r="2.2"/><circle cx="369.0" cy="111.5" r="2.2"/><circle cx="389.1" cy="124.2" r="2.2"/><circle cx="360.0" cy="136.9" r="2.2"/><circle cx="404.8" cy="139.9" r="2.2"/><circle cx="404.8" cy="142.1" r="2.2"/><circle cx="397.3" cy="153.3" r="2.2"/><circle cx="397.3" cy="159.3" r="2.2"/><circle cx="401.8" cy="158.5" r="2.2"/><circle cx="395.8" cy="164.5" r="2.2"/><circle cx="401.8" cy="164.5" r="2.2"/><circle cx="391.3" cy="162.2" r="2.2"/><circle cx="391.3" cy="166.0" r="2.2"/><circle cx="391.3" cy="170.4" r="2.2"/><circle cx="407.8" cy="158.5" r="2.2"/><circle cx="409.3" cy="159.3" r="2.2"/><circle cx="407.0" cy="166.7" r="2.2"/><circle cx="407.8" cy="171.2" r="2.2"/><circle cx="405.5" cy="174.2" r="2.2"/><circle cx="407.8" cy="178.7" r="2.2"/><circle cx="410.7" cy="180.1" r="2.2"/><circle cx="413.0" cy="174.2" r="2.2"/><circle cx="417.5" cy="174.9" r="2.2"/><circle cx="416.0" cy="183.9" r="2.2"/><circle cx="408.5" cy="186.9" r="2.2"/><circle cx="381.6" cy="197.3" r="2.2"/><circle cx="449.6" cy="177.9" r="2.2"/><circle cx="449.6" cy="183.1" r="2.2"/><circle cx="449.6" cy="190.6" r="2.2"/><circle cx="445.1" cy="196.6" r="2.2"/><circle cx="449.6" cy="196.6" r="2.2"/><circle cx="457.0" cy="190.6" r="2.2"/><circle cx="462.2" cy="189.9" r="2.2"/><circle cx="457.0" cy="195.8" r="2.2"/><circle cx="463.0" cy="195.8" r="2.2"/><circle cx="454.8" cy="165.2" r="2.2"/><circle cx="452.5" cy="169.7" r="2.2"/><circle cx="462.2" cy="160.0" r="2.2"/><circle cx="463.0" cy="153.3" r="2.2"/><circle cx="464.5" cy="139.9" r="2.2"/><circle cx="468.2" cy="136.9" r="2.2"/><circle cx="468.2" cy="141.3" r="2.2"/><circle cx="464.5" cy="119.0" r="2.2"/><circle cx="465.6" cy="54.9" r="2.2"/><circle cx="454.6" cy="59.9" r="2.2"/><circle cx="459.3" cy="66.1" r="2.2"/><circle cx="449.9" cy="64.4" r="2.2"/><circle cx="386.0" cy="98.0" r="2.2"/><circle cx="389.0" cy="124.0" r="2.2"/><circle cx="409.9" cy="99.5" r="2.2"/><circle cx="472.2" cy="98.5" r="2.2"/><circle cx="472.7" cy="106.4" r="2.2"/><circle cx="474.2" cy="113.7" r="2.2"/><circle cx="478.7" cy="122.8" r="2.2"/><circle cx="465.3" cy="119.9" r="2.2"/><circle cx="463.8" cy="129.8" r="2.2"/><circle cx="460.8" cy="132.3" r="2.2"/><circle cx="467.8" cy="136.3" r="2.2"/><circle cx="463.8" cy="139.3" r="2.2"/><circle cx="468.8" cy="140.7" r="2.2"/><circle cx="453.8" cy="135.8" r="2.2"/><circle cx="403.9" cy="140.0" r="2.2"/><circle cx="404.9" cy="142.9" r="2.2"/><circle cx="407.9" cy="145.9" r="2.2"/><circle cx="408.9" cy="147.4" r="2.2"/><circle cx="410.9" cy="148.9" r="2.2"/><circle cx="409.9" cy="153.9" r="2.2"/><circle cx="414.9" cy="154.9" r="2.2"/><circle cx="397.0" cy="153.4" r="2.2"/><circle cx="397.0" cy="159.4" r="2.2"/><circle cx="401.9" cy="158.4" r="2.2"/><circle cx="400.9" cy="161.8" r="2.2"/><circle cx="396.5" cy="164.8" r="2.2"/><circle cx="400.0" cy="163.8" r="2.2"/><circle cx="391.0" cy="162.8" r="2.2"/><circle cx="391.0" cy="166.8" r="2.2"/><circle cx="391.0" cy="170.3" r="2.2"/><circle cx="407.4" cy="166.3" r="2.2"/><circle cx="406.9" cy="170.8" r="2.2"/><circle cx="405.9" cy="173.8" r="2.2"/><circle cx="412.9" cy="172.8" r="2.2"/><circle cx="415.9" cy="174.8" r="2.2"/><circle cx="413.9" cy="176.8" r="2.2"/><circle cx="407.4" cy="178.8" r="2.2"/><circle cx="409.9" cy="180.2" r="2.2"/><circle cx="415.9" cy="184.2" r="2.2"/><circle cx="408.4" cy="186.7" r="2.2"/><circle cx="421.8" cy="176.8" r="2.2"/><circle cx="420.8" cy="169.8" r="2.2"/><circle cx="453.9" cy="135.8" r="2.2"/><circle cx="460.9" cy="132.2" r="2.2"/><circle cx="464.4" cy="130.5" r="2.2"/><circle cx="467.9" cy="136.5" r="2.2"/><circle cx="463.9" cy="139.5" r="2.2"/><circle cx="468.9" cy="140.7" r="2.2"/><circle cx="476.8" cy="150.7" r="2.2"/><circle cx="461.9" cy="152.9" r="2.2"/><circle cx="462.1" cy="154.4" r="2.2"/><circle cx="462.1" cy="160.3" r="2.2"/><circle cx="454.7" cy="165.0" r="2.2"/><circle cx="452.4" cy="169.3" r="2.2"/><circle cx="448.0" cy="168.3" r="2.2"/><circle cx="446.0" cy="170.8" r="2.2"/><circle cx="445.0" cy="173.8" r="2.2"/><circle cx="448.0" cy="177.6" r="2.2"/><circle cx="449.5" cy="181.2" r="2.2"/><circle cx="450.0" cy="184.2" r="2.2"/><circle cx="450.0" cy="189.2" r="2.2"/><circle cx="456.9" cy="189.7" r="2.2"/><circle cx="461.9" cy="189.2" r="2.2"/><circle cx="455.9" cy="149.4" r="2.2"/><circle cx="452.9" cy="151.4" r="2.2"/><circle cx="450.0" cy="158.9" r="2.2"/></g>
<g fill="#fff"><circle cx="433.7" cy="122.8" r="1.2"/><circle cx="433.7" cy="131.8" r="1.2"/><circle cx="431.7" cy="141.7" r="1.2"/><circle cx="423.8" cy="104.9" r="1.2"/><circle cx="422.8" cy="146.7" r="1.2"/><circle cx="444.9" cy="116.9" r="1.2"/><circle cx="451.8" cy="118.9" r="1.2"/><circle cx="423.0" cy="104.9" r="1.2"/><circle cx="437.9" cy="135.8" r="1.2"/><circle cx="439.9" cy="137.8" r="1.2"/><circle cx="429.8" cy="140.0" r="1.2"/><circle cx="432.8" cy="138.0" r="1.2"/><circle cx="435.8" cy="140.9" r="1.2"/><circle cx="439.8" cy="136.0" r="1.2"/><circle cx="424.8" cy="146.9" r="1.2"/><circle cx="443.0" cy="137.5" r="1.2"/></g>
<g fill="#f00"><circle cx="453.0" cy="69.2" r="1.75"/><circle cx="443.9" cy="72.6" r="1.75"/><circle cx="447.1" cy="70.1" r="1.75"/><circle cx="452.3" cy="72.1" r="1.75"/><circle cx="455.9" cy="73.1" r="1.75"/><circle cx="442.9" cy="75.6" r="1.75"/><circle cx="444.5" cy="76.4" r="1.75"/><circle cx="449.2" cy="74.2" r="1.75"/><circle cx="454.5" cy="74.6" r="1.75"/><circle cx="434.8" cy="79.3" r="1.75"/><circle cx="438.6" cy="79.1" r="1.75"/><circle cx="444.4" cy="80.3" r="1.75"/><circle cx="447.5" cy="80.3" r="1.75"/><circle cx="451.2" cy="78.8" r="1.75"/><circle cx="427.3" cy="83.0" r="1.75"/><circle cx="432.9" cy="81.5" r="1.75"/><circle cx="438.0" cy="81.5" r="1.75"/><circle cx="442.6" cy="83.1" r="1.75"/><circle cx="447.3" cy="83.1" r="1.75"/><circle cx="426.1" cy="85.5" r="1.75"/><circle cx="431.9" cy="86.4" r="1.75"/><circle cx="436.3" cy="86.1" r="1.75"/><circle cx="439.3" cy="87.0" r="1.75"/><circle cx="444.2" cy="86.1" r="1.75"/><circle cx="420.9" cy="89.6" r="1.75"/><circle cx="423.9" cy="91.1" r="1.75"/><circle cx="429.3" cy="89.3" r="1.75"/><circle cx="434.4" cy="90.9" r="1.75"/><circle cx="436.1" cy="91.1" r="1.75"/><circle cx="421.4" cy="95.3" r="1.75"/><circle cx="427.9" cy="94.2" r="1.75"/><circle cx="431.9" cy="94.6" r="1.75"/><circle cx="423.1" cy="99.0" r="1.75"/><circle cx="430.0" cy="96.8" r="1.75"/><circle cx="416.3" cy="90.4" r="1.75"/><circle cx="418.8" cy="91.3" r="1.75"/><circle cx="425.5" cy="91.1" r="1.75"/><circle cx="418.9" cy="94.7" r="1.75"/><circle cx="422.0" cy="92.9" r="1.75"/><circle cx="428.7" cy="95.3" r="1.75"/><circle cx="431.5" cy="93.5" r="1.75"/><circle cx="435.9" cy="95.8" r="1.75"/><circle cx="415.0" cy="98.9" r="1.75"/><circle cx="419.7" cy="98.9" r="1.75"/><circle cx="424.4" cy="98.6" r="1.75"/><circle cx="428.9" cy="97.6" r="1.75"/><circle cx="433.4" cy="99.4" r="1.75"/><circle cx="439.5" cy="98.1" r="1.75"/><circle cx="418.3" cy="102.9" r="1.75"/><circle cx="422.3" cy="102.6" r="1.75"/><circle cx="426.2" cy="104.1" r="1.75"/><circle cx="433.7" cy="103.1" r="1.75"/><circle cx="437.6" cy="103.1" r="1.75"/><circle cx="415.2" cy="107.2" r="1.75"/><circle cx="419.4" cy="108.8" r="1.75"/><circle cx="426.3" cy="106.7" r="1.75"/><circle cx="430.8" cy="107.4" r="1.75"/><circle cx="411.0" cy="112.2" r="1.75"/><circle cx="416.9" cy="110.4" r="1.75"/><circle cx="423.4" cy="112.4" r="1.75"/><circle cx="427.6" cy="111.2" r="1.75"/><circle cx="408.7" cy="116.8" r="1.75"/><circle cx="414.9" cy="117.2" r="1.75"/><circle cx="421.1" cy="116.9" r="1.75"/><circle cx="426.0" cy="117.2" r="1.75"/><circle cx="406.0" cy="121.9" r="1.75"/><circle cx="413.6" cy="119.3" r="1.75"/><circle cx="417.7" cy="121.3" r="1.75"/><circle cx="423.3" cy="121.5" r="1.75"/><circle cx="427.1" cy="121.8" r="1.75"/><circle cx="411.3" cy="125.7" r="1.75"/><circle cx="414.6" cy="124.1" r="1.75"/><circle cx="419.5" cy="123.4" r="1.75"/><circle cx="426.1" cy="125.1" r="1.75"/><circle cx="406.6" cy="127.9" r="1.75"/><circle cx="412.9" cy="129.0" r="1.75"/><circle cx="417.6" cy="130.2" r="1.75"/><circle cx="422.0" cy="128.4" r="1.75"/><circle cx="409.5" cy="133.4" r="1.75"/><circle cx="416.1" cy="132.5" r="1.75"/><circle cx="418.4" cy="133.8" r="1.75"/><circle cx="412.9" cy="137.0" r="1.75"/><circle cx="418.3" cy="139.1" r="1.75"/><circle cx="425.0" cy="91.2" r="1.75"/><circle cx="432.2" cy="90.9" r="1.75"/><circle cx="437.0" cy="90.5" r="1.75"/><circle cx="441.3" cy="90.4" r="1.75"/><circle cx="422.1" cy="93.2" r="1.75"/><circle cx="426.6" cy="95.0" r="1.75"/><circle cx="431.9" cy="94.8" r="1.75"/><circle cx="434.7" cy="92.7" r="1.75"/><circle cx="441.1" cy="94.7" r="1.75"/><circle cx="423.0" cy="98.0" r="1.75"/><circle cx="428.2" cy="98.1" r="1.75"/><circle cx="432.3" cy="97.7" r="1.75"/><circle cx="437.4" cy="98.8" r="1.75"/><circle cx="422.2" cy="101.6" r="1.75"/><circle cx="425.1" cy="100.3" r="1.75"/><circle cx="431.9" cy="100.5" r="1.75"/><circle cx="435.4" cy="100.1" r="1.75"/><circle cx="438.7" cy="100.9" r="1.75"/><circle cx="425.2" cy="104.2" r="1.75"/><circle cx="427.5" cy="106.0" r="1.75"/><circle cx="432.6" cy="106.5" r="1.75"/><circle cx="438.5" cy="104.9" r="1.75"/><circle cx="421.6" cy="108.3" r="1.75"/><circle cx="426.1" cy="108.4" r="1.75"/><circle cx="431.6" cy="108.7" r="1.75"/><circle cx="436.9" cy="108.5" r="1.75"/><circle cx="425.3" cy="112.3" r="1.75"/><circle cx="428.7" cy="112.4" r="1.75"/><circle cx="422.2" cy="116.7" r="1.75"/><circle cx="425.4" cy="117.1" r="1.75"/><circle cx="425.2" cy="119.6" r="1.75"/><circle cx="423.0" cy="123.2" r="1.75"/><circle cx="426.5" cy="123.9" r="1.75"/><circle cx="423.8" cy="128.5" r="1.75"/><circle cx="336.6" cy="115.2" r="1.7"/><circle cx="368.8" cy="116.8" r="1.7"/><circle cx="385.3" cy="103.0" r="1.7"/><circle cx="381.0" cy="106.6" r="1.7"/><circle cx="335.3" cy="137.4" r="1.7"/><circle cx="390.3" cy="161.0" r="1.7"/><circle cx="398.9" cy="163.0" r="1.7"/><circle cx="405.9" cy="175.0" r="1.7"/><circle cx="412.5" cy="180.6" r="1.7"/><circle cx="381.1" cy="202.5" r="1.7"/><circle cx="459.6" cy="59.9" r="1.7"/><circle cx="463.6" cy="59.2" r="1.7"/><circle cx="464.9" cy="60.5" r="1.7"/><circle cx="469.5" cy="85.1" r="1.7"/><circle cx="462.9" cy="89.0" r="1.7"/><circle cx="453.0" cy="101.0" r="1.7"/><circle cx="447.7" cy="68.5" r="1.7"/><circle cx="450.3" cy="71.8" r="1.7"/><circle cx="454.3" cy="70.5" r="1.7"/><circle cx="449.0" cy="75.8" r="1.7"/><circle cx="453.0" cy="78.4" r="1.7"/><circle cx="445.0" cy="73.1" r="1.7"/><circle cx="456.9" cy="81.8" r="1.7"/><circle cx="384.9" cy="102.7" r="1.7"/><circle cx="380.9" cy="105.7" r="1.7"/><circle cx="403.8" cy="102.1" r="1.7"/><circle cx="457.6" cy="59.0" r="1.7"/><circle cx="463.5" cy="59.0" r="1.7"/><circle cx="389.9" cy="160.4" r="1.7"/><circle cx="398.9" cy="163.4" r="1.7"/><circle cx="405.8" cy="160.4" r="1.7"/><circle cx="415.8" cy="158.5" r="1.7"/><circle cx="469.5" cy="84.8" r="1.7"/><circle cx="369.0" cy="116.7" r="1.7"/><circle cx="390.6" cy="160.7" r="1.7"/><circle cx="399.6" cy="163.0" r="1.7"/><circle cx="406.3" cy="160.7" r="1.7"/><circle cx="406.3" cy="174.9" r="1.7"/><circle cx="412.2" cy="180.9" r="1.7"/><circle cx="416.0" cy="158.5" r="1.7"/><circle cx="420.4" cy="152.5" r="1.7"/><circle cx="404.8" cy="119.0" r="1.7"/><circle cx="407.8" cy="127.9" r="1.7"/><circle cx="407.8" cy="133.1" r="1.7"/><circle cx="416.7" cy="137.6" r="1.7"/><circle cx="418.2" cy="141.3" r="1.7"/><circle cx="458.8" cy="59.9" r="1.7"/><circle cx="463.8" cy="58.9" r="1.7"/><circle cx="465.3" cy="60.4" r="1.7"/><circle cx="459.8" cy="70.3" r="1.7"/><circle cx="469.8" cy="85.3" r="1.7"/><circle cx="462.8" cy="88.8" r="1.7"/><circle cx="452.8" cy="77.8" r="1.7"/><circle cx="444.9" cy="87.8" r="1.7"/><circle cx="431.9" cy="96.7" r="1.7"/><circle cx="424.0" cy="95.7" r="1.7"/><circle cx="385.5" cy="102.9" r="1.7"/><circle cx="381.0" cy="105.9" r="1.7"/><circle cx="403.9" cy="102.1" r="1.7"/><circle cx="414.3" cy="93.0" r="1.7"/><circle cx="452.8" cy="100.9" r="1.7"/><circle cx="426.0" cy="113.9" r="1.7"/><circle cx="423.0" cy="122.8" r="1.7"/><circle cx="426.0" cy="125.8" r="1.7"/><circle cx="407.9" cy="133.0" r="1.7"/><circle cx="416.4" cy="137.5" r="1.7"/><circle cx="418.4" cy="142.4" r="1.7"/><circle cx="420.3" cy="152.4" r="1.7"/><circle cx="415.7" cy="159.1" r="1.7"/><circle cx="405.9" cy="161.0" r="1.7"/><circle cx="399.0" cy="162.8" r="1.7"/><circle cx="391.0" cy="160.8" r="1.7"/><circle cx="405.4" cy="174.3" r="1.7"/><circle cx="412.4" cy="181.2" r="1.7"/></g>
<g fill="#000"><circle cx="449.8" cy="68.8" r="2.1"/><circle cx="447.6" cy="72.4" r="2.1"/><circle cx="434.1" cy="81.0" r="2.1"/><circle cx="444.0" cy="81.8" r="2.1"/><circle cx="449.6" cy="79.1" r="2.1"/><circle cx="432.8" cy="89.0" r="2.1"/><circle cx="439.3" cy="86.6" r="2.1"/><circle cx="426.6" cy="93.0" r="2.1"/><circle cx="433.7" cy="93.5" r="2.1"/><circle cx="419.6" cy="91.7" r="2.1"/><circle cx="429.4" cy="91.2" r="2.1"/><circle cx="436.4" cy="92.3" r="2.1"/><circle cx="414.6" cy="95.6" r="2.1"/><circle cx="425.8" cy="98.9" r="2.1"/><circle cx="431.3" cy="99.0" r="2.1"/><circle cx="417.5" cy="103.1" r="2.1"/><circle cx="429.2" cy="103.2" r="2.1"/><circle cx="432.4" cy="102.6" r="2.1"/><circle cx="415.1" cy="109.5" r="2.1"/><circle cx="425.3" cy="109.1" r="2.1"/><circle cx="413.9" cy="118.0" r="2.1"/><circle cx="418.8" cy="115.9" r="2.1"/><circle cx="409.9" cy="121.1" r="2.1"/><circle cx="414.3" cy="122.0" r="2.1"/><circle cx="424.0" cy="125.1" r="2.1"/><circle cx="414.3" cy="127.5" r="2.1"/><circle cx="421.3" cy="130.6" r="2.1"/><circle cx="417.5" cy="138.2" r="2.1"/><circle cx="425.4" cy="90.6" r="2.1"/><circle cx="424.1" cy="97.3" r="2.1"/><circle cx="432.8" cy="98.3" r="2.1"/><circle cx="438.9" cy="98.7" r="2.1"/><circle cx="425.9" cy="103.3" r="2.1"/><circle cx="435.5" cy="104.8" r="2.1"/><circle cx="442.6" cy="101.6" r="2.1"/><circle cx="425.1" cy="108.3" r="2.1"/><circle cx="430.6" cy="107.3" r="2.1"/><circle cx="420.9" cy="114.7" r="2.1"/><circle cx="427.9" cy="117.7" r="2.1"/><circle cx="421.4" cy="124.1" r="2.1"/></g>
</g>
<rect x="313.3" y="32.3" width="210.9" height="214.1" fill="none" stroke="#262626" stroke-width="1.3"/>
<path d="M320.3,246.4V251.6M313.3,239.1H308.1M356.8,246.4V251.6M313.3,201.0H308.1M393.3,246.4V251.6M313.3,162.9H308.1M429.8,246.4V251.6M313.3,124.8H308.1M466.3,246.4V251.6M313.3,86.7H308.1M502.8,246.4V251.6M313.3,48.6H308.1" stroke="#262626" stroke-width="1.3" fill="none"/>
<g font-size="8.2" fill="#666" stroke="#666" stroke-width="0.05"><text x="320.3" y="264.0" text-anchor="middle">0</text><text transform="translate(301.8,239.1) rotate(-90)" text-anchor="middle">0</text><text x="356.8" y="264.0" text-anchor="middle">5</text><text transform="translate(301.8,201.0) rotate(-90)" text-anchor="middle">5</text><text x="393.3" y="264.0" text-anchor="middle">10</text><text transform="translate(301.8,162.9) rotate(-90)" text-anchor="middle">10</text><text x="429.8" y="264.0" text-anchor="middle">15</text><text transform="translate(301.8,124.8) rotate(-90)" text-anchor="middle">15</text><text x="466.3" y="264.0" text-anchor="middle">20</text><text transform="translate(301.8,86.7) rotate(-90)" text-anchor="middle">20</text><text x="502.8" y="264.0" text-anchor="middle">25</text><text transform="translate(301.8,48.6) rotate(-90)" text-anchor="middle">25</text></g>
<text x="418.8" y="18.1" text-anchor="middle" font-size="10.8" font-weight="bold" fill="#141414" stroke="#141414" stroke-width="0.3">PSD 3</text>
<text x="355.3" y="283.0" font-size="9.75" fill="#262626" stroke="#262626" stroke-width="0.18">log2 PSD 1 average peak</text>
<text x="355.3" y="294.0" font-size="9.75" fill="#262626" stroke="#262626" stroke-width="0.18">area</text>
<text transform="translate(284.1,139.3) rotate(-90)" text-anchor="middle" font-size="9.75" fill="#262626" stroke="#262626" stroke-width="0.18">log2 PSD 3 average peak area</text>
</g>
<g>
<clipPath id="c2"><rect x="44.5" y="332.3" width="211.2" height="214.2"/></clipPath>
<line x1="16.0" y1="576.8" x2="341.8" y2="237.9" stroke="#d4d4d4" stroke-width="1.1" clip-path="url(#c2)"/>
<clipPath id="d2"><rect x="41.5" y="329.3" width="217.2" height="220.2"/></clipPath>
<g clip-path="url(#d2)">
<g fill="#000"><circle cx="173.4" cy="460.9" r="2.2"/><circle cx="177.2" cy="460.5" r="2.2"/><circle cx="184.5" cy="460.5" r="2.2"/><circle cx="154.9" cy="463.4" r="2.2"/><circle cx="157.5" cy="462.1" r="2.2"/><circle cx="161.0" cy="463.0" r="2.2"/><circle cx="166.4" cy="462.7" r="2.2"/><circle cx="169.8" cy="462.0" r="2.2"/><circle cx="171.7" cy="463.5" r="2.2"/><circle cx="176.7" cy="463.8" r="2.2"/><circle cx="178.5" cy="463.2" r="2.2"/><circle cx="182.3" cy="463.7" r="2.2"/><circle cx="153.9" cy="467.4" r="2.2"/><circle cx="156.6" cy="467.4" r="2.2"/><circle cx="159.6" cy="467.1" r="2.2"/><circle cx="162.7" cy="466.7" r="2.2"/><circle cx="168.2" cy="466.2" r="2.2"/><circle cx="170.3" cy="466.9" r="2.2"/><circle cx="175.0" cy="466.6" r="2.2"/><circle cx="177.3" cy="466.1" r="2.2"/><circle cx="179.9" cy="466.2" r="2.2"/><circle cx="184.2" cy="466.5" r="2.2"/><circle cx="153.7" cy="469.0" r="2.2"/><circle cx="157.4" cy="468.7" r="2.2"/><circle cx="163.2" cy="469.8" r="2.2"/><circle cx="165.8" cy="468.8" r="2.2"/><circle cx="167.9" cy="467.9" r="2.2"/><circle cx="172.6" cy="470.4" r="2.2"/><circle cx="176.5" cy="468.4" r="2.2"/><circle cx="180.7" cy="468.4" r="2.2"/><circle cx="181.8" cy="469.2" r="2.2"/><circle cx="156.4" cy="471.0" r="2.2"/><circle cx="158.9" cy="473.3" r="2.2"/><circle cx="164.9" cy="472.5" r="2.2"/><circle cx="166.0" cy="471.3" r="2.2"/><circle cx="169.7" cy="470.9" r="2.2"/><circle cx="175.0" cy="472.1" r="2.2"/><circle cx="176.5" cy="471.6" r="2.2"/><circle cx="160.9" cy="474.0" r="2.2"/><circle cx="166.7" cy="475.7" r="2.2"/><circle cx="168.1" cy="475.6" r="2.2"/><circle cx="198.8" cy="376.8" r="2.2"/><circle cx="196.6" cy="379.6" r="2.2"/><circle cx="190.8" cy="381.8" r="2.2"/><circle cx="193.7" cy="382.5" r="2.2"/><circle cx="198.9" cy="382.6" r="2.2"/><circle cx="179.8" cy="387.2" r="2.2"/><circle cx="186.2" cy="386.8" r="2.2"/><circle cx="188.8" cy="385.5" r="2.2"/><circle cx="193.2" cy="385.8" r="2.2"/><circle cx="197.3" cy="385.7" r="2.2"/><circle cx="180.6" cy="389.5" r="2.2"/><circle cx="184.5" cy="390.1" r="2.2"/><circle cx="186.6" cy="388.1" r="2.2"/><circle cx="190.9" cy="390.1" r="2.2"/><circle cx="195.5" cy="389.3" r="2.2"/><circle cx="197.1" cy="389.6" r="2.2"/><circle cx="180.1" cy="393.1" r="2.2"/><circle cx="182.0" cy="392.5" r="2.2"/><circle cx="186.6" cy="391.3" r="2.2"/><circle cx="189.7" cy="393.2" r="2.2"/><circle cx="192.8" cy="393.2" r="2.2"/><circle cx="195.6" cy="391.0" r="2.2"/><circle cx="199.1" cy="393.5" r="2.2"/><circle cx="176.1" cy="395.8" r="2.2"/><circle cx="180.3" cy="396.0" r="2.2"/><circle cx="182.9" cy="394.6" r="2.2"/><circle cx="187.5" cy="395.2" r="2.2"/><circle cx="190.0" cy="395.6" r="2.2"/><circle cx="194.7" cy="396.2" r="2.2"/><circle cx="199.3" cy="396.0" r="2.2"/><circle cx="172.5" cy="399.4" r="2.2"/><circle cx="175.0" cy="399.6" r="2.2"/><circle cx="179.4" cy="398.9" r="2.2"/><circle cx="182.4" cy="399.1" r="2.2"/><circle cx="184.8" cy="397.4" r="2.2"/><circle cx="190.1" cy="399.4" r="2.2"/><circle cx="193.2" cy="399.3" r="2.2"/><circle cx="197.3" cy="399.4" r="2.2"/><circle cx="170.1" cy="400.3" r="2.2"/><circle cx="174.6" cy="401.4" r="2.2"/><circle cx="177.1" cy="401.8" r="2.2"/><circle cx="180.3" cy="401.6" r="2.2"/><circle cx="182.8" cy="402.5" r="2.2"/><circle cx="188.8" cy="402.6" r="2.2"/><circle cx="190.9" cy="400.3" r="2.2"/><circle cx="193.5" cy="401.5" r="2.2"/><circle cx="197.8" cy="401.5" r="2.2"/><circle cx="164.9" cy="403.3" r="2.2"/><circle cx="168.9" cy="403.7" r="2.2"/><circle cx="172.5" cy="403.8" r="2.2"/><circle cx="175.3" cy="403.1" r="2.2"/><circle cx="178.1" cy="403.3" r="2.2"/><circle cx="181.5" cy="404.2" r="2.2"/><circle cx="184.5" cy="404.3" r="2.2"/><circle cx="188.3" cy="404.0" r="2.2"/><circle cx="191.6" cy="404.3" r="2.2"/><circle cx="196.0" cy="404.2" r="2.2"/><circle cx="200.0" cy="403.4" r="2.2"/><circle cx="160.8" cy="408.4" r="2.2"/><circle cx="163.0" cy="407.1" r="2.2"/><circle cx="165.7" cy="407.8" r="2.2"/><circle cx="170.0" cy="408.4" r="2.2"/><circle cx="172.7" cy="407.6" r="2.2"/><circle cx="177.1" cy="406.3" r="2.2"/><circle cx="179.3" cy="407.9" r="2.2"/><circle cx="185.0" cy="407.4" r="2.2"/><circle cx="186.5" cy="408.7" r="2.2"/><circle cx="190.6" cy="407.1" r="2.2"/><circle cx="193.9" cy="407.0" r="2.2"/><circle cx="198.4" cy="407.4" r="2.2"/><circle cx="148.3" cy="411.3" r="2.2"/><circle cx="152.0" cy="409.3" r="2.2"/><circle cx="153.9" cy="411.3" r="2.2"/><circle cx="157.9" cy="410.8" r="2.2"/><circle cx="162.6" cy="411.2" r="2.2"/><circle cx="164.0" cy="409.4" r="2.2"/><circle cx="168.4" cy="411.4" r="2.2"/><circle cx="171.3" cy="411.5" r="2.2"/><circle cx="174.5" cy="409.3" r="2.2"/><circle cx="178.1" cy="409.4" r="2.2"/><circle cx="182.8" cy="411.0" r="2.2"/><circle cx="185.6" cy="411.4" r="2.2"/><circle cx="189.8" cy="409.3" r="2.2"/><circle cx="192.5" cy="409.7" r="2.2"/><circle cx="195.6" cy="409.9" r="2.2"/><circle cx="145.2" cy="413.7" r="2.2"/><circle cx="149.9" cy="412.6" r="2.2"/><circle cx="151.3" cy="412.9" r="2.2"/><circle cx="156.4" cy="412.5" r="2.2"/><circle cx="159.6" cy="413.4" r="2.2"/><circle cx="162.1" cy="414.1" r="2.2"/><circle cx="167.3" cy="414.7" r="2.2"/><circle cx="170.1" cy="413.9" r="2.2"/><circle cx="173.6" cy="414.8" r="2.2"/><circle cx="176.6" cy="413.1" r="2.2"/><circle cx="180.6" cy="413.8" r="2.2"/><circle cx="182.9" cy="413.0" r="2.2"/><circle cx="188.1" cy="414.4" r="2.2"/><circle cx="190.8" cy="412.8" r="2.2"/><circle cx="141.3" cy="415.5" r="2.2"/><circle cx="144.3" cy="416.1" r="2.2"/><circle cx="146.9" cy="416.3" r="2.2"/><circle cx="149.5" cy="415.7" r="2.2"/><circle cx="153.9" cy="415.7" r="2.2"/><circle cx="156.7" cy="415.3" r="2.2"/><circle cx="160.8" cy="417.2" r="2.2"/><circle cx="163.6" cy="417.4" r="2.2"/><circle cx="169.0" cy="415.7" r="2.2"/><circle cx="171.8" cy="415.9" r="2.2"/><circle cx="176.5" cy="415.3" r="2.2"/><circle cx="178.7" cy="415.6" r="2.2"/><circle cx="183.0" cy="415.8" r="2.2"/><circle cx="184.6" cy="415.6" r="2.2"/><circle cx="190.5" cy="415.3" r="2.2"/><circle cx="140.9" cy="420.9" r="2.2"/><circle cx="146.3" cy="419.1" r="2.2"/><circle cx="148.7" cy="418.9" r="2.2"/><circle cx="151.5" cy="419.5" r="2.2"/><circle cx="155.7" cy="419.0" r="2.2"/><circle cx="160.3" cy="420.3" r="2.2"/><circle cx="164.2" cy="420.2" r="2.2"/><circle cx="166.8" cy="419.1" r="2.2"/><circle cx="170.8" cy="419.7" r="2.2"/><circle cx="173.9" cy="420.7" r="2.2"/><circle cx="176.7" cy="419.9" r="2.2"/><circle cx="180.0" cy="419.3" r="2.2"/><circle cx="184.6" cy="419.1" r="2.2"/><circle cx="139.5" cy="423.9" r="2.2"/><circle cx="144.3" cy="423.7" r="2.2"/><circle cx="146.5" cy="423.4" r="2.2"/><circle cx="149.7" cy="423.7" r="2.2"/><circle cx="153.1" cy="423.2" r="2.2"/><circle cx="156.6" cy="423.4" r="2.2"/><circle cx="161.7" cy="421.6" r="2.2"/><circle cx="163.6" cy="422.6" r="2.2"/><circle cx="168.6" cy="422.5" r="2.2"/><circle cx="172.8" cy="423.4" r="2.2"/><circle cx="174.9" cy="423.2" r="2.2"/><circle cx="179.2" cy="422.2" r="2.2"/><circle cx="183.6" cy="423.3" r="2.2"/><circle cx="138.6" cy="425.5" r="2.2"/><circle cx="141.0" cy="424.8" r="2.2"/><circle cx="145.6" cy="425.5" r="2.2"/><circle cx="147.8" cy="426.8" r="2.2"/><circle cx="152.9" cy="424.7" r="2.2"/><circle cx="156.7" cy="425.7" r="2.2"/><circle cx="159.6" cy="425.3" r="2.2"/><circle cx="161.9" cy="426.5" r="2.2"/><circle cx="166.8" cy="424.8" r="2.2"/><circle cx="170.9" cy="426.2" r="2.2"/><circle cx="173.9" cy="425.3" r="2.2"/><circle cx="176.7" cy="426.9" r="2.2"/><circle cx="179.7" cy="427.0" r="2.2"/><circle cx="140.8" cy="428.6" r="2.2"/><circle cx="143.7" cy="430.0" r="2.2"/><circle cx="147.7" cy="429.1" r="2.2"/><circle cx="150.6" cy="429.8" r="2.2"/><circle cx="153.1" cy="428.8" r="2.2"/><circle cx="158.3" cy="429.5" r="2.2"/><circle cx="161.5" cy="429.6" r="2.2"/><circle cx="164.0" cy="429.0" r="2.2"/><circle cx="169.0" cy="427.9" r="2.2"/><circle cx="172.8" cy="427.7" r="2.2"/><circle cx="174.6" cy="429.2" r="2.2"/><circle cx="179.6" cy="428.2" r="2.2"/><circle cx="138.1" cy="432.8" r="2.2"/><circle cx="140.7" cy="432.5" r="2.2"/><circle cx="145.3" cy="433.0" r="2.2"/><circle cx="147.9" cy="432.5" r="2.2"/><circle cx="152.3" cy="431.1" r="2.2"/><circle cx="155.2" cy="433.0" r="2.2"/><circle cx="160.7" cy="430.7" r="2.2"/><circle cx="162.4" cy="430.8" r="2.2"/><circle cx="166.4" cy="432.3" r="2.2"/><circle cx="170.2" cy="431.6" r="2.2"/><circle cx="172.8" cy="432.9" r="2.2"/><circle cx="176.4" cy="433.0" r="2.2"/><circle cx="136.5" cy="435.5" r="2.2"/><circle cx="139.6" cy="434.9" r="2.2"/><circle cx="144.9" cy="434.2" r="2.2"/><circle cx="147.1" cy="435.3" r="2.2"/><circle cx="150.0" cy="435.5" r="2.2"/><circle cx="154.2" cy="434.2" r="2.2"/><circle cx="158.0" cy="435.4" r="2.2"/><circle cx="161.5" cy="435.3" r="2.2"/><circle cx="165.3" cy="435.1" r="2.2"/><circle cx="167.9" cy="435.0" r="2.2"/><circle cx="170.9" cy="434.7" r="2.2"/><circle cx="175.1" cy="435.3" r="2.2"/><circle cx="137.4" cy="437.7" r="2.2"/><circle cx="142.0" cy="437.2" r="2.2"/><circle cx="144.6" cy="437.2" r="2.2"/><circle cx="149.0" cy="436.6" r="2.2"/><circle cx="151.8" cy="438.8" r="2.2"/><circle cx="155.4" cy="438.6" r="2.2"/><circle cx="160.5" cy="437.9" r="2.2"/><circle cx="162.5" cy="438.2" r="2.2"/><circle cx="165.8" cy="436.8" r="2.2"/><circle cx="169.4" cy="438.7" r="2.2"/><circle cx="173.4" cy="436.9" r="2.2"/><circle cx="176.1" cy="439.0" r="2.2"/><circle cx="137.0" cy="440.0" r="2.2"/><circle cx="141.5" cy="439.7" r="2.2"/><circle cx="143.8" cy="442.2" r="2.2"/><circle cx="148.5" cy="440.1" r="2.2"/><circle cx="150.1" cy="440.5" r="2.2"/><circle cx="154.1" cy="440.0" r="2.2"/><circle cx="158.3" cy="440.7" r="2.2"/><circle cx="161.5" cy="439.8" r="2.2"/><circle cx="164.1" cy="440.2" r="2.2"/><circle cx="167.6" cy="439.9" r="2.2"/><circle cx="172.0" cy="441.9" r="2.2"/><circle cx="174.7" cy="439.9" r="2.2"/><circle cx="135.8" cy="444.7" r="2.2"/><circle cx="139.4" cy="444.4" r="2.2"/><circle cx="142.2" cy="443.0" r="2.2"/><circle cx="146.1" cy="443.8" r="2.2"/><circle cx="148.0" cy="444.8" r="2.2"/><circle cx="151.7" cy="442.8" r="2.2"/><circle cx="156.9" cy="443.4" r="2.2"/><circle cx="159.4" cy="444.0" r="2.2"/><circle cx="163.6" cy="444.3" r="2.2"/><circle cx="166.5" cy="444.2" r="2.2"/><circle cx="170.9" cy="442.9" r="2.2"/><circle cx="172.5" cy="444.7" r="2.2"/><circle cx="135.6" cy="447.5" r="2.2"/><circle cx="140.4" cy="446.4" r="2.2"/><circle cx="143.3" cy="446.3" r="2.2"/><circle cx="148.4" cy="447.4" r="2.2"/><circle cx="150.4" cy="447.7" r="2.2"/><circle cx="154.6" cy="447.0" r="2.2"/><circle cx="157.9" cy="446.6" r="2.2"/><circle cx="160.3" cy="447.5" r="2.2"/><circle cx="164.8" cy="447.7" r="2.2"/><circle cx="168.8" cy="446.9" r="2.2"/><circle cx="171.0" cy="446.3" r="2.2"/><circle cx="175.6" cy="446.3" r="2.2"/><circle cx="200.6" cy="378.1" r="2.2"/><circle cx="194.6" cy="379.3" r="2.2"/><circle cx="199.8" cy="379.2" r="2.2"/><circle cx="201.3" cy="379.4" r="2.2"/><circle cx="206.5" cy="379.4" r="2.2"/><circle cx="189.2" cy="382.9" r="2.2"/><circle cx="193.6" cy="383.4" r="2.2"/><circle cx="196.6" cy="382.3" r="2.2"/><circle cx="200.6" cy="382.8" r="2.2"/><circle cx="203.6" cy="384.4" r="2.2"/><circle cx="207.7" cy="381.9" r="2.2"/><circle cx="177.5" cy="387.5" r="2.2"/><circle cx="180.2" cy="387.3" r="2.2"/><circle cx="183.9" cy="387.2" r="2.2"/><circle cx="188.7" cy="387.4" r="2.2"/><circle cx="191.2" cy="386.6" r="2.2"/><circle cx="196.4" cy="385.3" r="2.2"/><circle cx="197.9" cy="386.4" r="2.2"/><circle cx="201.3" cy="385.1" r="2.2"/><circle cx="204.5" cy="385.8" r="2.2"/><circle cx="209.6" cy="386.2" r="2.2"/><circle cx="176.3" cy="388.1" r="2.2"/><circle cx="178.5" cy="389.5" r="2.2"/><circle cx="182.1" cy="388.0" r="2.2"/><circle cx="185.4" cy="389.7" r="2.2"/><circle cx="191.2" cy="389.3" r="2.2"/><circle cx="192.2" cy="388.5" r="2.2"/><circle cx="197.5" cy="390.0" r="2.2"/><circle cx="199.7" cy="389.2" r="2.2"/><circle cx="202.8" cy="389.4" r="2.2"/><circle cx="208.2" cy="389.3" r="2.2"/><circle cx="178.2" cy="392.3" r="2.2"/><circle cx="181.5" cy="391.2" r="2.2"/><circle cx="184.6" cy="392.6" r="2.2"/><circle cx="187.6" cy="392.5" r="2.2"/><circle cx="190.5" cy="392.1" r="2.2"/><circle cx="196.4" cy="392.7" r="2.2"/><circle cx="198.8" cy="393.3" r="2.2"/><circle cx="202.8" cy="392.4" r="2.2"/><circle cx="205.4" cy="393.3" r="2.2"/><circle cx="178.7" cy="395.6" r="2.2"/><circle cx="183.1" cy="396.1" r="2.2"/><circle cx="186.4" cy="395.1" r="2.2"/><circle cx="190.1" cy="394.7" r="2.2"/><circle cx="194.7" cy="395.7" r="2.2"/><circle cx="196.5" cy="395.4" r="2.2"/><circle cx="201.4" cy="396.6" r="2.2"/><circle cx="176.6" cy="398.7" r="2.2"/><circle cx="181.4" cy="399.2" r="2.2"/><circle cx="184.3" cy="399.7" r="2.2"/><circle cx="188.9" cy="398.6" r="2.2"/><circle cx="191.0" cy="399.6" r="2.2"/><circle cx="195.7" cy="398.8" r="2.2"/><circle cx="198.0" cy="397.6" r="2.2"/><circle cx="201.5" cy="399.5" r="2.2"/><circle cx="180.7" cy="400.5" r="2.2"/><circle cx="184.3" cy="401.2" r="2.2"/><circle cx="185.3" cy="401.0" r="2.2"/><circle cx="190.7" cy="401.2" r="2.2"/><circle cx="192.6" cy="400.4" r="2.2"/><circle cx="195.8" cy="401.7" r="2.2"/><circle cx="178.4" cy="404.9" r="2.2"/><circle cx="181.0" cy="405.0" r="2.2"/><circle cx="184.4" cy="405.6" r="2.2"/><circle cx="188.9" cy="404.0" r="2.2"/><circle cx="192.7" cy="404.8" r="2.2"/><circle cx="196.2" cy="405.1" r="2.2"/><circle cx="179.8" cy="406.7" r="2.2"/><circle cx="182.9" cy="408.3" r="2.2"/><circle cx="186.2" cy="407.4" r="2.2"/><circle cx="191.2" cy="407.8" r="2.2"/><circle cx="193.6" cy="406.8" r="2.2"/><circle cx="177.1" cy="410.8" r="2.2"/><circle cx="181.2" cy="409.3" r="2.2"/><circle cx="185.9" cy="409.5" r="2.2"/><circle cx="189.1" cy="410.6" r="2.2"/><circle cx="192.5" cy="411.4" r="2.2"/><circle cx="157.7" cy="420.2" r="2.2"/><circle cx="161.4" cy="420.3" r="2.2"/><circle cx="164.6" cy="420.7" r="2.2"/><circle cx="174.6" cy="421.3" r="2.2"/><circle cx="152.4" cy="422.5" r="2.2"/><circle cx="154.1" cy="423.3" r="2.2"/><circle cx="158.1" cy="422.2" r="2.2"/><circle cx="161.0" cy="423.9" r="2.2"/><circle cx="165.4" cy="423.3" r="2.2"/><circle cx="169.2" cy="424.0" r="2.2"/><circle cx="171.6" cy="423.4" r="2.2"/><circle cx="177.1" cy="422.5" r="2.2"/><circle cx="179.6" cy="422.6" r="2.2"/><circle cx="152.3" cy="426.8" r="2.2"/><circle cx="155.9" cy="426.8" r="2.2"/><circle cx="159.4" cy="425.3" r="2.2"/><circle cx="163.4" cy="425.5" r="2.2"/><circle cx="168.2" cy="426.1" r="2.2"/><circle cx="169.8" cy="425.3" r="2.2"/><circle cx="174.3" cy="426.6" r="2.2"/><circle cx="178.4" cy="426.0" r="2.2"/><circle cx="152.9" cy="430.4" r="2.2"/><circle cx="156.3" cy="430.4" r="2.2"/><circle cx="159.3" cy="429.6" r="2.2"/><circle cx="162.5" cy="428.9" r="2.2"/><circle cx="166.6" cy="428.8" r="2.2"/><circle cx="170.3" cy="429.0" r="2.2"/><circle cx="171.5" cy="430.0" r="2.2"/><circle cx="176.2" cy="427.8" r="2.2"/><circle cx="180.6" cy="429.9" r="2.2"/><circle cx="153.6" cy="432.6" r="2.2"/><circle cx="157.1" cy="431.5" r="2.2"/><circle cx="159.6" cy="433.4" r="2.2"/><circle cx="165.3" cy="433.3" r="2.2"/><circle cx="167.6" cy="431.1" r="2.2"/><circle cx="170.3" cy="432.3" r="2.2"/><circle cx="175.5" cy="432.7" r="2.2"/><circle cx="177.0" cy="433.3" r="2.2"/><circle cx="152.5" cy="435.0" r="2.2"/><circle cx="155.4" cy="434.0" r="2.2"/><circle cx="157.6" cy="436.3" r="2.2"/><circle cx="162.0" cy="436.0" r="2.2"/><circle cx="165.4" cy="434.9" r="2.2"/><circle cx="168.2" cy="436.3" r="2.2"/><circle cx="172.1" cy="435.9" r="2.2"/><circle cx="175.4" cy="434.7" r="2.2"/><circle cx="178.7" cy="435.7" r="2.2"/><circle cx="150.4" cy="437.6" r="2.2"/><circle cx="154.7" cy="437.3" r="2.2"/><circle cx="156.4" cy="438.4" r="2.2"/><circle cx="160.9" cy="437.7" r="2.2"/><circle cx="164.2" cy="437.3" r="2.2"/><circle cx="166.3" cy="438.1" r="2.2"/><circle cx="171.2" cy="439.3" r="2.2"/><circle cx="174.4" cy="439.4" r="2.2"/><circle cx="152.1" cy="441.8" r="2.2"/><circle cx="154.6" cy="440.5" r="2.2"/><circle cx="158.3" cy="441.4" r="2.2"/><circle cx="161.1" cy="440.9" r="2.2"/><circle cx="164.8" cy="442.4" r="2.2"/><circle cx="169.1" cy="441.5" r="2.2"/><circle cx="171.8" cy="441.2" r="2.2"/><circle cx="177.5" cy="442.2" r="2.2"/><circle cx="154.6" cy="443.8" r="2.2"/><circle cx="156.4" cy="444.7" r="2.2"/><circle cx="160.5" cy="444.2" r="2.2"/><circle cx="163.8" cy="444.9" r="2.2"/><circle cx="168.1" cy="444.2" r="2.2"/><circle cx="172.1" cy="443.8" r="2.2"/><circle cx="173.9" cy="444.1" r="2.2"/><circle cx="176.7" cy="444.4" r="2.2"/><circle cx="151.6" cy="447.3" r="2.2"/><circle cx="155.5" cy="447.5" r="2.2"/><circle cx="158.3" cy="447.1" r="2.2"/><circle cx="163.2" cy="446.3" r="2.2"/><circle cx="166.8" cy="446.5" r="2.2"/><circle cx="168.4" cy="447.2" r="2.2"/><circle cx="174.0" cy="446.7" r="2.2"/><circle cx="175.1" cy="448.1" r="2.2"/><circle cx="179.8" cy="446.4" r="2.2"/><circle cx="150.5" cy="449.4" r="2.2"/><circle cx="153.8" cy="449.3" r="2.2"/><circle cx="156.4" cy="450.6" r="2.2"/><circle cx="161.8" cy="451.6" r="2.2"/><circle cx="163.2" cy="451.5" r="2.2"/><circle cx="168.5" cy="449.4" r="2.2"/><circle cx="169.8" cy="449.7" r="2.2"/><circle cx="175.8" cy="449.8" r="2.2"/><circle cx="178.1" cy="450.9" r="2.2"/><circle cx="181.3" cy="450.0" r="2.2"/><circle cx="151.9" cy="454.3" r="2.2"/><circle cx="154.5" cy="452.3" r="2.2"/><circle cx="170.1" cy="452.3" r="2.2"/><circle cx="171.5" cy="453.4" r="2.2"/><circle cx="177.4" cy="454.6" r="2.2"/><circle cx="179.2" cy="454.7" r="2.2"/><circle cx="184.1" cy="453.3" r="2.2"/><circle cx="175.2" cy="456.2" r="2.2"/><circle cx="177.1" cy="455.3" r="2.2"/><circle cx="182.3" cy="457.1" r="2.2"/><circle cx="180.5" cy="460.1" r="2.2"/><circle cx="183.9" cy="459.2" r="2.2"/><circle cx="153.2" cy="430.5" r="2.2"/><circle cx="159.1" cy="430.9" r="2.2"/><circle cx="141.3" cy="432.5" r="2.2"/><circle cx="144.9" cy="432.2" r="2.2"/><circle cx="148.6" cy="432.7" r="2.2"/><circle cx="152.1" cy="433.8" r="2.2"/><circle cx="156.9" cy="432.1" r="2.2"/><circle cx="159.6" cy="433.6" r="2.2"/><circle cx="140.5" cy="436.0" r="2.2"/><circle cx="143.6" cy="437.1" r="2.2"/><circle cx="147.4" cy="435.9" r="2.2"/><circle cx="152.0" cy="435.3" r="2.2"/><circle cx="154.2" cy="437.2" r="2.2"/><circle cx="158.7" cy="436.8" r="2.2"/><circle cx="139.5" cy="438.2" r="2.2"/><circle cx="142.5" cy="439.1" r="2.2"/><circle cx="146.9" cy="440.4" r="2.2"/><circle cx="148.8" cy="439.9" r="2.2"/><circle cx="152.2" cy="438.9" r="2.2"/><circle cx="156.6" cy="440.1" r="2.2"/><circle cx="140.4" cy="442.4" r="2.2"/><circle cx="144.3" cy="443.3" r="2.2"/><circle cx="147.9" cy="442.5" r="2.2"/><circle cx="150.7" cy="442.7" r="2.2"/><circle cx="154.9" cy="442.3" r="2.2"/><circle cx="159.0" cy="441.8" r="2.2"/><circle cx="139.6" cy="446.5" r="2.2"/><circle cx="142.7" cy="445.0" r="2.2"/><circle cx="145.6" cy="444.9" r="2.2"/><circle cx="149.9" cy="445.9" r="2.2"/><circle cx="151.7" cy="444.9" r="2.2"/><circle cx="156.7" cy="444.3" r="2.2"/><circle cx="141.4" cy="447.3" r="2.2"/><circle cx="143.8" cy="449.5" r="2.2"/><circle cx="146.8" cy="449.0" r="2.2"/><circle cx="150.6" cy="449.4" r="2.2"/><circle cx="155.5" cy="448.9" r="2.2"/><circle cx="157.0" cy="449.4" r="2.2"/><circle cx="138.2" cy="452.1" r="2.2"/><circle cx="142.5" cy="451.6" r="2.2"/><circle cx="145.3" cy="452.0" r="2.2"/><circle cx="150.3" cy="452.3" r="2.2"/><circle cx="153.4" cy="450.7" r="2.2"/><circle cx="155.4" cy="452.0" r="2.2"/><circle cx="159.5" cy="452.3" r="2.2"/><circle cx="143.3" cy="455.0" r="2.2"/><circle cx="147.6" cy="454.7" r="2.2"/><circle cx="155.3" cy="454.0" r="2.2"/><circle cx="158.4" cy="454.5" r="2.2"/><circle cx="169.3" cy="451.2" r="2.2"/><circle cx="151.4" cy="453.1" r="2.2"/><circle cx="155.0" cy="453.8" r="2.2"/><circle cx="160.9" cy="453.0" r="2.2"/><circle cx="164.4" cy="453.6" r="2.2"/><circle cx="168.5" cy="454.8" r="2.2"/><circle cx="172.1" cy="453.1" r="2.2"/><circle cx="175.9" cy="454.0" r="2.2"/><circle cx="181.3" cy="454.7" r="2.2"/><circle cx="183.5" cy="452.4" r="2.2"/><circle cx="151.2" cy="456.2" r="2.2"/><circle cx="154.5" cy="456.0" r="2.2"/><circle cx="158.0" cy="457.5" r="2.2"/><circle cx="163.2" cy="456.6" r="2.2"/><circle cx="165.8" cy="457.8" r="2.2"/><circle cx="170.0" cy="455.9" r="2.2"/><circle cx="173.6" cy="456.3" r="2.2"/><circle cx="178.7" cy="457.3" r="2.2"/><circle cx="180.9" cy="457.0" r="2.2"/><circle cx="152.6" cy="460.7" r="2.2"/><circle cx="156.0" cy="461.6" r="2.2"/><circle cx="159.9" cy="459.8" r="2.2"/><circle cx="163.5" cy="460.1" r="2.2"/><circle cx="167.8" cy="459.8" r="2.2"/><circle cx="171.7" cy="461.4" r="2.2"/><circle cx="175.1" cy="459.5" r="2.2"/><circle cx="179.3" cy="459.6" r="2.2"/><circle cx="185.3" cy="461.3" r="2.2"/><circle cx="69.0" cy="437.2" r="2.2"/><circle cx="67.2" cy="442.5" r="2.2"/><circle cx="90.5" cy="433.2" r="2.2"/><circle cx="100.8" cy="438.3" r="2.2"/><circle cx="117.0" cy="421.7" r="2.2"/><circle cx="120.3" cy="423.3" r="2.2"/><circle cx="112.4" cy="431.9" r="2.2"/><circle cx="122.3" cy="434.8" r="2.2"/><circle cx="129.6" cy="425.7" r="2.2"/><circle cx="129.6" cy="431.2" r="2.2"/><circle cx="113.0" cy="452.5" r="2.2"/><circle cx="108.1" cy="461.5" r="2.2"/><circle cx="127.6" cy="451.8" r="2.2"/><circle cx="127.6" cy="455.8" r="2.2"/><circle cx="127.6" cy="459.8" r="2.2"/><circle cx="61.7" cy="464.7" r="2.2"/><circle cx="59.6" cy="467.0" r="2.2"/><circle cx="92.5" cy="462.8" r="2.2"/><circle cx="92.2" cy="465.7" r="2.2"/><circle cx="87.5" cy="470.4" r="2.2"/><circle cx="83.2" cy="473.9" r="2.2"/><circle cx="127.2" cy="460.7" r="2.2"/><circle cx="139.5" cy="469.8" r="2.2"/><circle cx="142.4" cy="463.6" r="2.2"/><circle cx="154.3" cy="470.8" r="2.2"/><circle cx="158.2" cy="472.3" r="2.2"/><circle cx="163.3" cy="471.5" r="2.2"/><circle cx="159.0" cy="478.8" r="2.2"/><circle cx="164.0" cy="477.3" r="2.2"/><circle cx="156.8" cy="465.0" r="2.2"/><circle cx="161.8" cy="466.5" r="2.2"/><circle cx="169.1" cy="465.0" r="2.2"/><circle cx="169.8" cy="469.4" r="2.2"/><circle cx="174.8" cy="465.0" r="2.2"/><circle cx="177.4" cy="472.3" r="2.2"/><circle cx="182.8" cy="466.5" r="2.2"/><circle cx="182.8" cy="473.7" r="2.2"/><circle cx="190.4" cy="466.5" r="2.2"/><circle cx="195.0" cy="469.4" r="2.2"/><circle cx="189.3" cy="460.7" r="2.2"/><circle cx="167.6" cy="474.4" r="2.2"/><circle cx="178.4" cy="482.4" r="2.2"/><circle cx="174.1" cy="486.0" r="2.2"/><circle cx="176.0" cy="491.0" r="2.2"/><circle cx="169.8" cy="490.6" r="2.2"/><circle cx="166.9" cy="483.1" r="2.2"/><circle cx="157.8" cy="485.2" r="2.2"/><circle cx="149.3" cy="484.2" r="2.2"/><circle cx="149.3" cy="491.7" r="2.2"/><circle cx="154.2" cy="491.0" r="2.2"/><circle cx="164.0" cy="489.6" r="2.2"/><circle cx="147.4" cy="500.7" r="2.2"/><circle cx="147.4" cy="506.5" r="2.2"/><circle cx="168.8" cy="498.7" r="2.2"/><circle cx="171.7" cy="503.3" r="2.2"/><circle cx="176.6" cy="502.3" r="2.2"/><circle cx="165.4" cy="504.7" r="2.2"/><circle cx="166.9" cy="507.6" r="2.2"/><circle cx="170.2" cy="510.5" r="2.2"/><circle cx="165.4" cy="511.2" r="2.2"/><circle cx="158.7" cy="512.7" r="2.2"/><circle cx="149.6" cy="534.3" r="2.2"/><circle cx="157.8" cy="541.5" r="2.2"/><circle cx="162.6" cy="542.7" r="2.2"/><circle cx="157.8" cy="545.8" r="2.2"/><circle cx="152.1" cy="381.3" r="2.2"/><circle cx="137.2" cy="417.4" r="2.2"/><circle cx="130.6" cy="425.1" r="2.2"/><circle cx="130.6" cy="431.3" r="2.2"/><circle cx="121.1" cy="423.1" r="2.2"/><circle cx="122.4" cy="434.7" r="2.2"/><circle cx="135.7" cy="439.0" r="2.2"/><circle cx="193.6" cy="421.5" r="2.2"/><circle cx="190.3" cy="427.3" r="2.2"/><circle cx="193.6" cy="428.4" r="2.2"/><circle cx="196.3" cy="435.4" r="2.2"/><circle cx="190.3" cy="443.6" r="2.2"/><circle cx="183.7" cy="430.4" r="2.2"/><circle cx="196.9" cy="370.7" r="2.2"/><circle cx="248.0" cy="339.3" r="2.2"/><circle cx="248.0" cy="343.9" r="2.2"/><circle cx="230.0" cy="348.6" r="2.2"/><circle cx="230.4" cy="355.9" r="2.2"/><circle cx="233.0" cy="356.5" r="2.2"/><circle cx="235.3" cy="361.5" r="2.2"/><circle cx="229.7" cy="359.2" r="2.2"/><circle cx="225.8" cy="358.5" r="2.2"/><circle cx="221.1" cy="358.5" r="2.2"/><circle cx="215.8" cy="359.9" r="2.2"/><circle cx="219.8" cy="361.9" r="2.2"/><circle cx="215.8" cy="363.8" r="2.2"/><circle cx="210.5" cy="362.5" r="2.2"/><circle cx="209.2" cy="365.8" r="2.2"/><circle cx="213.1" cy="366.5" r="2.2"/><circle cx="217.1" cy="367.2" r="2.2"/><circle cx="222.4" cy="367.2" r="2.2"/><circle cx="225.8" cy="363.8" r="2.2"/><circle cx="227.7" cy="367.8" r="2.2"/><circle cx="230.4" cy="367.2" r="2.2"/><circle cx="218.5" cy="371.1" r="2.2"/><circle cx="213.1" cy="371.8" r="2.2"/><circle cx="208.5" cy="370.5" r="2.2"/><circle cx="196.6" cy="369.8" r="2.2"/><circle cx="196.6" cy="374.5" r="2.2"/><circle cx="202.5" cy="374.5" r="2.2"/><circle cx="205.2" cy="375.8" r="2.2"/><circle cx="209.2" cy="374.5" r="2.2"/><circle cx="211.8" cy="375.8" r="2.2"/><circle cx="215.8" cy="375.1" r="2.2"/><circle cx="225.1" cy="375.8" r="2.2"/><circle cx="193.2" cy="379.8" r="2.2"/><circle cx="198.6" cy="378.4" r="2.2"/><circle cx="203.9" cy="379.8" r="2.2"/><circle cx="207.8" cy="379.8" r="2.2"/><circle cx="213.1" cy="380.4" r="2.2"/><circle cx="209.2" cy="383.7" r="2.2"/><circle cx="211.8" cy="385.1" r="2.2"/><circle cx="206.5" cy="386.4" r="2.2"/><circle cx="203.9" cy="390.4" r="2.2"/><circle cx="209.2" cy="390.4" r="2.2"/><circle cx="208.5" cy="395.9" r="2.2"/><circle cx="215.8" cy="395.7" r="2.2"/><circle cx="226.4" cy="397.0" r="2.2"/><circle cx="204.5" cy="407.0" r="2.2"/><circle cx="216.5" cy="408.9" r="2.2"/><circle cx="193.8" cy="422.0" r="2.2"/><circle cx="189.8" cy="426.6" r="2.2"/><circle cx="193.8" cy="428.6" r="2.2"/><circle cx="195.8" cy="435.9" r="2.2"/><circle cx="189.8" cy="443.9" r="2.2"/><circle cx="202.1" cy="450.2" r="2.2"/><circle cx="202.1" cy="455.6" r="2.2"/><circle cx="189.8" cy="460.5" r="2.2"/><circle cx="190.5" cy="466.4" r="2.2"/><circle cx="195.1" cy="469.1" r="2.2"/><circle cx="154.6" cy="459.1" r="2.2"/><circle cx="158.0" cy="457.1" r="2.2"/><circle cx="156.6" cy="463.8" r="2.2"/><circle cx="161.9" cy="466.4" r="2.2"/><circle cx="159.3" cy="470.4" r="2.2"/><circle cx="154.0" cy="471.1" r="2.2"/><circle cx="163.3" cy="471.7" r="2.2"/><circle cx="169.2" cy="461.1" r="2.2"/><circle cx="169.9" cy="465.1" r="2.2"/><circle cx="173.2" cy="461.1" r="2.2"/><circle cx="175.2" cy="464.4" r="2.2"/><circle cx="169.9" cy="470.4" r="2.2"/><circle cx="174.5" cy="469.1" r="2.2"/><circle cx="177.2" cy="472.4" r="2.2"/><circle cx="168.6" cy="474.4" r="2.2"/><circle cx="183.2" cy="466.4" r="2.2"/><circle cx="182.5" cy="470.4" r="2.2"/><circle cx="183.2" cy="474.4" r="2.2"/><circle cx="159.3" cy="478.4" r="2.2"/><circle cx="163.9" cy="477.0" r="2.2"/><circle cx="167.2" cy="483.0" r="2.2"/><circle cx="178.5" cy="482.4" r="2.2"/><circle cx="174.5" cy="485.7" r="2.2"/><circle cx="158.0" cy="485.0" r="2.2"/><circle cx="154.0" cy="491.0" r="2.2"/><circle cx="163.9" cy="489.0" r="2.2"/><circle cx="169.9" cy="491.0" r="2.2"/><circle cx="175.9" cy="491.0" r="2.2"/><circle cx="168.6" cy="498.9" r="2.2"/><circle cx="122.4" cy="434.8" r="2.2"/><circle cx="130.3" cy="431.8" r="2.2"/><circle cx="138.3" cy="433.0" r="2.2"/><circle cx="135.3" cy="439.5" r="2.2"/><circle cx="135.3" cy="446.4" r="2.2"/><circle cx="127.4" cy="451.4" r="2.2"/><circle cx="127.4" cy="455.7" r="2.2"/><circle cx="127.4" cy="459.7" r="2.2"/><circle cx="132.8" cy="453.9" r="2.2"/><circle cx="112.9" cy="452.4" r="2.2"/><circle cx="108.2" cy="461.6" r="2.2"/><circle cx="139.3" cy="469.8" r="2.2"/><circle cx="138.8" cy="455.9" r="2.2"/><circle cx="138.8" cy="458.4" r="2.2"/><circle cx="142.8" cy="463.3" r="2.2"/><circle cx="154.2" cy="459.4" r="2.2"/><circle cx="155.7" cy="464.3" r="2.2"/><circle cx="154.2" cy="470.8" r="2.2"/><circle cx="158.7" cy="471.8" r="2.2"/><circle cx="158.7" cy="478.8" r="2.2"/><circle cx="149.3" cy="484.2" r="2.2"/><circle cx="157.7" cy="484.7" r="2.2"/><circle cx="101.0" cy="438.5" r="2.2"/></g>
<g fill="#fff"><circle cx="173.1" cy="432.4" r="1.2"/><circle cx="174.4" cy="433.7" r="1.2"/><circle cx="163.8" cy="439.0" r="1.2"/><circle cx="166.4" cy="441.6" r="1.2"/></g>
<g fill="#f00"><circle cx="168.4" cy="403.7" r="1.75"/><circle cx="174.1" cy="403.1" r="1.75"/><circle cx="164.3" cy="408.5" r="1.75"/><circle cx="166.9" cy="406.8" r="1.75"/><circle cx="172.5" cy="408.1" r="1.75"/><circle cx="177.6" cy="407.4" r="1.75"/><circle cx="156.4" cy="411.4" r="1.75"/><circle cx="160.1" cy="410.3" r="1.75"/><circle cx="165.4" cy="410.1" r="1.75"/><circle cx="170.5" cy="411.5" r="1.75"/><circle cx="175.6" cy="412.3" r="1.75"/><circle cx="149.9" cy="413.8" r="1.75"/><circle cx="154.2" cy="416.4" r="1.75"/><circle cx="159.6" cy="416.2" r="1.75"/><circle cx="161.9" cy="415.9" r="1.75"/><circle cx="166.1" cy="415.8" r="1.75"/><circle cx="173.5" cy="416.6" r="1.75"/><circle cx="176.3" cy="413.9" r="1.75"/><circle cx="147.2" cy="417.9" r="1.75"/><circle cx="151.4" cy="418.2" r="1.75"/><circle cx="155.3" cy="420.4" r="1.75"/><circle cx="160.2" cy="419.7" r="1.75"/><circle cx="166.1" cy="417.8" r="1.75"/><circle cx="171.3" cy="420.4" r="1.75"/><circle cx="175.9" cy="419.3" r="1.75"/><circle cx="144.8" cy="424.5" r="1.75"/><circle cx="150.1" cy="423.1" r="1.75"/><circle cx="152.9" cy="423.0" r="1.75"/><circle cx="159.1" cy="422.7" r="1.75"/><circle cx="163.3" cy="422.0" r="1.75"/><circle cx="168.5" cy="424.6" r="1.75"/><circle cx="172.0" cy="422.1" r="1.75"/><circle cx="142.2" cy="428.3" r="1.75"/><circle cx="148.2" cy="427.5" r="1.75"/><circle cx="152.6" cy="426.9" r="1.75"/><circle cx="156.6" cy="427.9" r="1.75"/><circle cx="161.0" cy="427.4" r="1.75"/><circle cx="164.0" cy="427.8" r="1.75"/><circle cx="168.4" cy="426.0" r="1.75"/><circle cx="173.1" cy="428.0" r="1.75"/><circle cx="144.4" cy="431.8" r="1.75"/><circle cx="148.8" cy="430.7" r="1.75"/><circle cx="152.8" cy="431.2" r="1.75"/><circle cx="158.0" cy="430.1" r="1.75"/><circle cx="161.9" cy="432.1" r="1.75"/><circle cx="167.1" cy="431.9" r="1.75"/><circle cx="142.2" cy="435.9" r="1.75"/><circle cx="147.8" cy="434.4" r="1.75"/><circle cx="152.4" cy="435.1" r="1.75"/><circle cx="156.6" cy="435.1" r="1.75"/><circle cx="143.5" cy="440.0" r="1.75"/><circle cx="148.5" cy="438.4" r="1.75"/><circle cx="142.9" cy="444.2" r="1.75"/><circle cx="147.8" cy="442.2" r="1.75"/><circle cx="143.9" cy="448.1" r="1.75"/><circle cx="169.5" cy="420.6" r="1.75"/><circle cx="177.1" cy="421.1" r="1.75"/><circle cx="152.2" cy="424.3" r="1.75"/><circle cx="158.4" cy="423.3" r="1.75"/><circle cx="161.8" cy="422.6" r="1.75"/><circle cx="165.3" cy="424.2" r="1.75"/><circle cx="169.9" cy="423.3" r="1.75"/><circle cx="175.0" cy="424.8" r="1.75"/><circle cx="151.3" cy="427.6" r="1.75"/><circle cx="154.4" cy="429.1" r="1.75"/><circle cx="160.1" cy="429.1" r="1.75"/><circle cx="162.5" cy="427.9" r="1.75"/><circle cx="168.8" cy="429.3" r="1.75"/><circle cx="173.4" cy="427.1" r="1.75"/><circle cx="152.2" cy="432.2" r="1.75"/><circle cx="156.3" cy="431.4" r="1.75"/><circle cx="161.3" cy="432.4" r="1.75"/><circle cx="167.5" cy="431.1" r="1.75"/><circle cx="150.6" cy="434.6" r="1.75"/><circle cx="155.2" cy="436.5" r="1.75"/><circle cx="158.3" cy="437.1" r="1.75"/><circle cx="163.7" cy="434.8" r="1.75"/><circle cx="152.2" cy="440.5" r="1.75"/><circle cx="156.8" cy="440.6" r="1.75"/><circle cx="151.2" cy="443.7" r="1.75"/><circle cx="154.3" cy="443.5" r="1.75"/><circle cx="153.1" cy="446.6" r="1.75"/><circle cx="151.0" cy="435.4" r="1.75"/><circle cx="155.8" cy="434.6" r="1.75"/><circle cx="145.5" cy="438.0" r="1.75"/><circle cx="150.3" cy="436.9" r="1.75"/><circle cx="153.3" cy="436.7" r="1.75"/><circle cx="157.5" cy="438.6" r="1.75"/><circle cx="138.8" cy="441.1" r="1.75"/><circle cx="142.7" cy="440.7" r="1.75"/><circle cx="146.8" cy="443.1" r="1.75"/><circle cx="152.6" cy="441.7" r="1.75"/><circle cx="155.1" cy="441.5" r="1.75"/><circle cx="139.0" cy="446.9" r="1.75"/><circle cx="146.0" cy="445.6" r="1.75"/><circle cx="149.9" cy="445.4" r="1.75"/><circle cx="154.9" cy="444.9" r="1.75"/><circle cx="157.2" cy="446.4" r="1.75"/><circle cx="146.7" cy="450.2" r="1.75"/><circle cx="150.6" cy="450.6" r="1.75"/><circle cx="156.5" cy="448.9" r="1.75"/><circle cx="191.8" cy="383.2" r="1.75"/><circle cx="183.9" cy="390.1" r="1.75"/><circle cx="189.9" cy="387.9" r="1.75"/><circle cx="194.3" cy="388.9" r="1.75"/><circle cx="178.9" cy="393.9" r="1.75"/><circle cx="186.7" cy="393.9" r="1.75"/><circle cx="193.4" cy="393.8" r="1.75"/><circle cx="170.6" cy="401.1" r="1.75"/><circle cx="176.9" cy="399.7" r="1.75"/><circle cx="181.4" cy="398.5" r="1.75"/><circle cx="190.5" cy="398.6" r="1.75"/><circle cx="173.8" cy="404.9" r="1.75"/><circle cx="179.5" cy="406.2" r="1.75"/><circle cx="187.5" cy="404.3" r="1.75"/><circle cx="162.2" cy="411.8" r="1.75"/><circle cx="169.6" cy="409.9" r="1.75"/><circle cx="177.4" cy="411.7" r="1.75"/><circle cx="182.5" cy="410.7" r="1.75"/><circle cx="167.3" cy="418.1" r="1.75"/><circle cx="173.0" cy="415.5" r="1.75"/><circle cx="67.9" cy="442.5" r="1.7"/><circle cx="66.6" cy="447.5" r="1.7"/><circle cx="99.8" cy="443.8" r="1.7"/><circle cx="116.3" cy="427.0" r="1.7"/><circle cx="112.0" cy="431.0" r="1.7"/><circle cx="121.6" cy="440.2" r="1.7"/><circle cx="112.1" cy="457.4" r="1.7"/><circle cx="138.8" cy="462.9" r="1.7"/><circle cx="147.1" cy="462.9" r="1.7"/><circle cx="153.5" cy="484.8" r="1.7"/><circle cx="162.1" cy="485.7" r="1.7"/><circle cx="176.3" cy="477.6" r="1.7"/><circle cx="182.3" cy="461.7" r="1.7"/><circle cx="179.7" cy="401.8" r="1.7"/><circle cx="185.0" cy="401.8" r="1.7"/><circle cx="190.3" cy="401.8" r="1.7"/><circle cx="192.3" cy="405.2" r="1.7"/><circle cx="183.7" cy="395.2" r="1.7"/><circle cx="189.0" cy="391.2" r="1.7"/><circle cx="196.9" cy="392.6" r="1.7"/><circle cx="191.6" cy="390.6" r="1.7"/><circle cx="134.9" cy="425.5" r="1.7"/><circle cx="121.6" cy="440.3" r="1.7"/><circle cx="178.7" cy="401.0" r="1.7"/><circle cx="184.0" cy="401.0" r="1.7"/><circle cx="189.3" cy="403.6" r="1.7"/><circle cx="191.9" cy="402.3" r="1.7"/><circle cx="195.9" cy="393.0" r="1.7"/><circle cx="182.6" cy="395.7" r="1.7"/><circle cx="189.3" cy="390.4" r="1.7"/><circle cx="201.5" cy="462.2" r="1.7"/><circle cx="176.3" cy="477.3" r="1.7"/><circle cx="153.3" cy="484.7" r="1.7"/><circle cx="162.3" cy="485.3" r="1.7"/><circle cx="182.5" cy="461.8" r="1.7"/><circle cx="175.2" cy="455.8" r="1.7"/><circle cx="165.9" cy="451.8" r="1.7"/><circle cx="112.4" cy="431.8" r="1.7"/><circle cx="121.7" cy="440.1" r="1.7"/><circle cx="112.1" cy="457.4" r="1.7"/><circle cx="138.8" cy="463.3" r="1.7"/><circle cx="147.3" cy="462.8" r="1.7"/><circle cx="143.3" cy="458.9" r="1.7"/><circle cx="134.8" cy="441.4" r="1.7"/><circle cx="139.8" cy="442.9" r="1.7"/><circle cx="139.8" cy="447.9" r="1.7"/><circle cx="153.2" cy="484.5" r="1.7"/><circle cx="100.8" cy="443.9" r="1.7"/></g>
<g fill="#000"><circle cx="168.7" cy="401.3" r="2.1"/><circle cx="165.0" cy="406.0" r="2.1"/><circle cx="173.1" cy="406.5" r="2.1"/><circle cx="157.0" cy="412.0" r="2.1"/><circle cx="162.5" cy="413.9" r="2.1"/><circle cx="171.6" cy="413.8" r="2.1"/><circle cx="152.3" cy="417.6" r="2.1"/><circle cx="159.2" cy="419.2" r="2.1"/><circle cx="165.0" cy="420.0" r="2.1"/><circle cx="175.7" cy="420.6" r="2.1"/><circle cx="149.2" cy="423.9" r="2.1"/><circle cx="156.8" cy="423.9" r="2.1"/><circle cx="163.8" cy="425.8" r="2.1"/><circle cx="169.9" cy="423.6" r="2.1"/><circle cx="141.9" cy="431.5" r="2.1"/><circle cx="151.5" cy="432.6" r="2.1"/><circle cx="158.3" cy="430.0" r="2.1"/><circle cx="141.8" cy="439.5" r="2.1"/><circle cx="146.0" cy="436.7" r="2.1"/><circle cx="143.7" cy="442.9" r="2.1"/><circle cx="148.8" cy="443.2" r="2.1"/><circle cx="156.7" cy="421.8" r="2.1"/><circle cx="171.8" cy="422.0" r="2.1"/><circle cx="154.7" cy="425.9" r="2.1"/><circle cx="160.6" cy="427.1" r="2.1"/><circle cx="167.5" cy="424.4" r="2.1"/><circle cx="174.4" cy="428.3" r="2.1"/><circle cx="155.6" cy="434.0" r="2.1"/><circle cx="163.1" cy="431.3" r="2.1"/><circle cx="153.1" cy="439.0" r="2.1"/><circle cx="141.9" cy="440.2" r="2.1"/><circle cx="150.3" cy="439.4" r="2.1"/><circle cx="156.8" cy="438.9" r="2.1"/><circle cx="145.2" cy="446.4" r="2.1"/><circle cx="153.9" cy="448.8" r="2.1"/><circle cx="185.5" cy="387.2" r="2.1"/><circle cx="193.7" cy="388.6" r="2.1"/><circle cx="177.1" cy="393.6" r="2.1"/><circle cx="182.2" cy="394.2" r="2.1"/><circle cx="192.4" cy="394.1" r="2.1"/><circle cx="169.9" cy="401.8" r="2.1"/><circle cx="180.7" cy="400.9" r="2.1"/><circle cx="187.1" cy="405.1" r="2.1"/><circle cx="168.5" cy="408.3" r="2.1"/><circle cx="173.9" cy="410.5" r="2.1"/><circle cx="180.7" cy="406.8" r="2.1"/><circle cx="166.0" cy="414.6" r="2.1"/><circle cx="170.9" cy="416.0" r="2.1"/><circle cx="177.8" cy="415.2" r="2.1"/></g>
</g>
<rect x="44.5" y="332.3" width="211.2" height="214.2" fill="none" stroke="#262626" stroke-width="1.3"/>
<path d="M52.2,546.5V551.7M44.5,539.1H39.3M88.4,546.5V551.7M44.5,501.5H39.3M124.6,546.5V551.7M44.5,463.8H39.3M160.8,546.5V551.7M44.5,426.2H39.3M197.0,546.5V551.7M44.5,388.5H39.3M233.2,546.5V551.7M44.5,350.9H39.3" stroke="#262626" stroke-width="1.3" fill="none"/>
<g font-size="8.2" fill="#666" stroke="#666" stroke-width="0.05"><text x="52.2" y="564.1" text-anchor="middle">0</text><text transform="translate(33.0,539.1) rotate(-90)" text-anchor="middle">0</text><text x="88.4" y="564.1" text-anchor="middle">5</text><text transform="translate(33.0,501.5) rotate(-90)" text-anchor="middle">5</text><text x="124.6" y="564.1" text-anchor="middle">10</text><text transform="translate(33.0,463.8) rotate(-90)" text-anchor="middle">10</text><text x="160.8" y="564.1" text-anchor="middle">15</text><text transform="translate(33.0,426.2) rotate(-90)" text-anchor="middle">15</text><text x="197.0" y="564.1" text-anchor="middle">20</text><text transform="translate(33.0,388.5) rotate(-90)" text-anchor="middle">20</text><text x="233.2" y="564.1" text-anchor="middle">25</text><text transform="translate(33.0,350.9) rotate(-90)" text-anchor="middle">25</text></g>
<text x="150.1" y="318.1" text-anchor="middle" font-size="10.8" font-weight="bold" fill="#141414" stroke="#141414" stroke-width="0.3">PSD 4</text>
<text x="86.5" y="583.1" font-size="9.75" fill="#262626" stroke="#262626" stroke-width="0.18">log2 PSD 1 average peak</text>
<text x="86.5" y="594.1" font-size="9.75" fill="#262626" stroke="#262626" stroke-width="0.18">area</text>
<text transform="translate(15.3,439.4) rotate(-90)" text-anchor="middle" font-size="9.75" fill="#262626" stroke="#262626" stroke-width="0.18">log2 PSD 4 average peak area</text>
</g>
<g>
<clipPath id="c3"><rect x="313.1" y="332.3" width="211.0" height="214.1"/></clipPath>
<line x1="284.5" y1="575.9" x2="609.4" y2="245.1" stroke="#d4d4d4" stroke-width="1.1" clip-path="url(#c3)"/>
<clipPath id="d3"><rect x="310.1" y="329.3" width="217.0" height="220.1"/></clipPath>
<g clip-path="url(#d3)">
<g fill="#000"><circle cx="465.0" cy="380.4" r="2.2"/><circle cx="451.8" cy="382.7" r="2.2"/><circle cx="456.5" cy="383.6" r="2.2"/><circle cx="457.9" cy="381.8" r="2.2"/><circle cx="461.2" cy="382.1" r="2.2"/><circle cx="464.7" cy="381.9" r="2.2"/><circle cx="470.0" cy="382.5" r="2.2"/><circle cx="449.3" cy="387.2" r="2.2"/><circle cx="453.0" cy="385.1" r="2.2"/><circle cx="457.3" cy="385.5" r="2.2"/><circle cx="460.3" cy="386.2" r="2.2"/><circle cx="463.2" cy="385.3" r="2.2"/><circle cx="467.9" cy="387.2" r="2.2"/><circle cx="444.3" cy="390.4" r="2.2"/><circle cx="449.0" cy="390.2" r="2.2"/><circle cx="450.8" cy="388.1" r="2.2"/><circle cx="454.3" cy="389.7" r="2.2"/><circle cx="459.7" cy="388.1" r="2.2"/><circle cx="461.1" cy="389.2" r="2.2"/><circle cx="465.2" cy="388.9" r="2.2"/><circle cx="469.0" cy="390.3" r="2.2"/><circle cx="443.9" cy="391.5" r="2.2"/><circle cx="446.7" cy="391.5" r="2.2"/><circle cx="449.7" cy="392.5" r="2.2"/><circle cx="453.0" cy="392.1" r="2.2"/><circle cx="458.1" cy="393.2" r="2.2"/><circle cx="461.2" cy="393.1" r="2.2"/><circle cx="463.4" cy="392.4" r="2.2"/><circle cx="467.8" cy="393.3" r="2.2"/><circle cx="442.2" cy="395.8" r="2.2"/><circle cx="444.2" cy="394.7" r="2.2"/><circle cx="449.1" cy="395.0" r="2.2"/><circle cx="450.8" cy="395.1" r="2.2"/><circle cx="455.5" cy="393.9" r="2.2"/><circle cx="459.1" cy="394.4" r="2.2"/><circle cx="462.3" cy="396.0" r="2.2"/><circle cx="466.5" cy="394.6" r="2.2"/><circle cx="439.9" cy="399.5" r="2.2"/><circle cx="442.0" cy="397.6" r="2.2"/><circle cx="446.6" cy="398.1" r="2.2"/><circle cx="449.1" cy="398.8" r="2.2"/><circle cx="453.8" cy="397.9" r="2.2"/><circle cx="457.1" cy="398.0" r="2.2"/><circle cx="460.1" cy="397.8" r="2.2"/><circle cx="463.0" cy="399.1" r="2.2"/><circle cx="466.3" cy="398.4" r="2.2"/><circle cx="439.0" cy="400.4" r="2.2"/><circle cx="442.0" cy="402.0" r="2.2"/><circle cx="443.5" cy="402.5" r="2.2"/><circle cx="448.5" cy="400.6" r="2.2"/><circle cx="453.0" cy="402.2" r="2.2"/><circle cx="455.0" cy="402.1" r="2.2"/><circle cx="459.1" cy="401.1" r="2.2"/><circle cx="461.7" cy="401.0" r="2.2"/><circle cx="466.8" cy="402.3" r="2.2"/><circle cx="469.9" cy="400.9" r="2.2"/><circle cx="436.2" cy="403.6" r="2.2"/><circle cx="438.5" cy="403.1" r="2.2"/><circle cx="441.8" cy="405.6" r="2.2"/><circle cx="447.2" cy="405.1" r="2.2"/><circle cx="448.7" cy="404.9" r="2.2"/><circle cx="452.9" cy="404.9" r="2.2"/><circle cx="457.8" cy="404.9" r="2.2"/><circle cx="460.8" cy="404.2" r="2.2"/><circle cx="464.3" cy="403.8" r="2.2"/><circle cx="467.2" cy="403.5" r="2.2"/><circle cx="431.2" cy="406.9" r="2.2"/><circle cx="434.1" cy="406.6" r="2.2"/><circle cx="438.7" cy="408.4" r="2.2"/><circle cx="441.2" cy="406.3" r="2.2"/><circle cx="444.4" cy="408.3" r="2.2"/><circle cx="449.2" cy="408.4" r="2.2"/><circle cx="451.5" cy="408.4" r="2.2"/><circle cx="455.2" cy="406.5" r="2.2"/><circle cx="458.0" cy="406.4" r="2.2"/><circle cx="462.3" cy="408.0" r="2.2"/><circle cx="464.7" cy="407.6" r="2.2"/><circle cx="469.9" cy="408.2" r="2.2"/><circle cx="428.2" cy="410.9" r="2.2"/><circle cx="433.0" cy="409.9" r="2.2"/><circle cx="436.6" cy="410.0" r="2.2"/><circle cx="440.3" cy="411.5" r="2.2"/><circle cx="444.0" cy="410.8" r="2.2"/><circle cx="446.6" cy="409.6" r="2.2"/><circle cx="450.2" cy="409.2" r="2.2"/><circle cx="454.7" cy="411.4" r="2.2"/><circle cx="457.6" cy="409.3" r="2.2"/><circle cx="460.8" cy="410.6" r="2.2"/><circle cx="463.3" cy="409.4" r="2.2"/><circle cx="466.3" cy="409.5" r="2.2"/><circle cx="424.1" cy="414.5" r="2.2"/><circle cx="427.9" cy="413.7" r="2.2"/><circle cx="430.0" cy="414.7" r="2.2"/><circle cx="434.4" cy="413.4" r="2.2"/><circle cx="438.5" cy="414.0" r="2.2"/><circle cx="441.4" cy="413.5" r="2.2"/><circle cx="444.6" cy="413.9" r="2.2"/><circle cx="449.5" cy="412.7" r="2.2"/><circle cx="452.7" cy="413.4" r="2.2"/><circle cx="455.0" cy="414.5" r="2.2"/><circle cx="457.7" cy="413.2" r="2.2"/><circle cx="462.3" cy="414.5" r="2.2"/><circle cx="466.3" cy="413.6" r="2.2"/><circle cx="468.4" cy="412.3" r="2.2"/><circle cx="422.1" cy="416.3" r="2.2"/><circle cx="424.8" cy="416.4" r="2.2"/><circle cx="428.0" cy="415.8" r="2.2"/><circle cx="432.7" cy="417.8" r="2.2"/><circle cx="436.4" cy="416.6" r="2.2"/><circle cx="438.5" cy="417.6" r="2.2"/><circle cx="443.9" cy="417.2" r="2.2"/><circle cx="447.0" cy="417.8" r="2.2"/><circle cx="449.1" cy="417.0" r="2.2"/><circle cx="454.5" cy="415.9" r="2.2"/><circle cx="457.3" cy="417.8" r="2.2"/><circle cx="461.8" cy="417.2" r="2.2"/><circle cx="463.4" cy="417.7" r="2.2"/><circle cx="468.5" cy="417.0" r="2.2"/><circle cx="420.4" cy="420.4" r="2.2"/><circle cx="424.7" cy="420.8" r="2.2"/><circle cx="426.6" cy="420.0" r="2.2"/><circle cx="431.0" cy="420.7" r="2.2"/><circle cx="433.8" cy="420.3" r="2.2"/><circle cx="438.7" cy="420.8" r="2.2"/><circle cx="442.1" cy="419.6" r="2.2"/><circle cx="445.5" cy="418.5" r="2.2"/><circle cx="448.3" cy="418.3" r="2.2"/><circle cx="452.1" cy="420.2" r="2.2"/><circle cx="456.2" cy="418.3" r="2.2"/><circle cx="459.4" cy="419.0" r="2.2"/><circle cx="463.5" cy="418.5" r="2.2"/><circle cx="466.7" cy="420.6" r="2.2"/><circle cx="469.4" cy="419.7" r="2.2"/><circle cx="413.7" cy="422.0" r="2.2"/><circle cx="418.0" cy="421.4" r="2.2"/><circle cx="420.9" cy="422.5" r="2.2"/><circle cx="425.0" cy="423.9" r="2.2"/><circle cx="429.2" cy="423.0" r="2.2"/><circle cx="432.5" cy="422.3" r="2.2"/><circle cx="435.9" cy="422.7" r="2.2"/><circle cx="438.5" cy="421.6" r="2.2"/><circle cx="443.8" cy="422.5" r="2.2"/><circle cx="447.4" cy="421.6" r="2.2"/><circle cx="450.1" cy="422.4" r="2.2"/><circle cx="452.2" cy="422.1" r="2.2"/><circle cx="456.9" cy="423.0" r="2.2"/><circle cx="461.2" cy="422.4" r="2.2"/><circle cx="414.0" cy="424.5" r="2.2"/><circle cx="416.0" cy="426.8" r="2.2"/><circle cx="419.5" cy="424.6" r="2.2"/><circle cx="425.0" cy="424.7" r="2.2"/><circle cx="427.5" cy="425.9" r="2.2"/><circle cx="431.2" cy="424.7" r="2.2"/><circle cx="434.8" cy="425.4" r="2.2"/><circle cx="438.6" cy="425.7" r="2.2"/><circle cx="442.4" cy="426.9" r="2.2"/><circle cx="445.6" cy="424.9" r="2.2"/><circle cx="447.8" cy="426.6" r="2.2"/><circle cx="451.6" cy="425.1" r="2.2"/><circle cx="454.2" cy="425.8" r="2.2"/><circle cx="459.6" cy="426.1" r="2.2"/><circle cx="462.3" cy="426.3" r="2.2"/><circle cx="411.9" cy="427.8" r="2.2"/><circle cx="414.0" cy="427.5" r="2.2"/><circle cx="418.7" cy="429.6" r="2.2"/><circle cx="421.7" cy="428.2" r="2.2"/><circle cx="425.3" cy="429.8" r="2.2"/><circle cx="429.2" cy="427.8" r="2.2"/><circle cx="431.5" cy="429.0" r="2.2"/><circle cx="437.1" cy="429.4" r="2.2"/><circle cx="439.0" cy="427.5" r="2.2"/><circle cx="442.7" cy="429.0" r="2.2"/><circle cx="447.1" cy="429.8" r="2.2"/><circle cx="450.1" cy="428.3" r="2.2"/><circle cx="453.9" cy="427.8" r="2.2"/><circle cx="456.5" cy="428.2" r="2.2"/><circle cx="460.4" cy="427.5" r="2.2"/><circle cx="410.5" cy="431.2" r="2.2"/><circle cx="413.3" cy="432.7" r="2.2"/><circle cx="415.9" cy="431.6" r="2.2"/><circle cx="420.5" cy="431.4" r="2.2"/><circle cx="424.1" cy="432.1" r="2.2"/><circle cx="427.6" cy="431.9" r="2.2"/><circle cx="430.0" cy="431.2" r="2.2"/><circle cx="433.1" cy="430.7" r="2.2"/><circle cx="436.5" cy="430.6" r="2.2"/><circle cx="441.7" cy="431.4" r="2.2"/><circle cx="444.3" cy="430.8" r="2.2"/><circle cx="449.4" cy="432.8" r="2.2"/><circle cx="450.9" cy="431.3" r="2.2"/><circle cx="454.3" cy="432.3" r="2.2"/><circle cx="459.5" cy="432.3" r="2.2"/><circle cx="412.6" cy="434.2" r="2.2"/><circle cx="414.4" cy="435.0" r="2.2"/><circle cx="418.0" cy="435.7" r="2.2"/><circle cx="421.2" cy="435.3" r="2.2"/><circle cx="424.7" cy="433.9" r="2.2"/><circle cx="428.3" cy="433.6" r="2.2"/><circle cx="433.4" cy="435.1" r="2.2"/><circle cx="435.4" cy="435.7" r="2.2"/><circle cx="440.5" cy="434.3" r="2.2"/><circle cx="443.2" cy="434.6" r="2.2"/><circle cx="447.5" cy="435.9" r="2.2"/><circle cx="450.1" cy="434.4" r="2.2"/><circle cx="452.8" cy="435.3" r="2.2"/><circle cx="456.9" cy="434.9" r="2.2"/><circle cx="410.3" cy="437.9" r="2.2"/><circle cx="414.4" cy="437.0" r="2.2"/><circle cx="416.4" cy="439.1" r="2.2"/><circle cx="419.7" cy="437.1" r="2.2"/><circle cx="424.1" cy="438.6" r="2.2"/><circle cx="426.5" cy="436.9" r="2.2"/><circle cx="429.6" cy="437.6" r="2.2"/><circle cx="434.8" cy="437.5" r="2.2"/><circle cx="436.7" cy="437.2" r="2.2"/><circle cx="440.0" cy="437.6" r="2.2"/><circle cx="445.2" cy="438.0" r="2.2"/><circle cx="447.2" cy="438.0" r="2.2"/><circle cx="452.6" cy="437.3" r="2.2"/><circle cx="456.2" cy="437.0" r="2.2"/><circle cx="459.6" cy="437.4" r="2.2"/><circle cx="405.4" cy="440.5" r="2.2"/><circle cx="407.4" cy="441.0" r="2.2"/><circle cx="410.4" cy="441.7" r="2.2"/><circle cx="413.7" cy="441.5" r="2.2"/><circle cx="419.1" cy="441.2" r="2.2"/><circle cx="421.2" cy="441.5" r="2.2"/><circle cx="426.0" cy="439.9" r="2.2"/><circle cx="429.3" cy="440.5" r="2.2"/><circle cx="432.8" cy="441.8" r="2.2"/><circle cx="436.8" cy="441.3" r="2.2"/><circle cx="439.1" cy="441.4" r="2.2"/><circle cx="441.9" cy="440.2" r="2.2"/><circle cx="446.4" cy="441.2" r="2.2"/><circle cx="449.3" cy="440.7" r="2.2"/><circle cx="452.8" cy="439.7" r="2.2"/><circle cx="457.6" cy="439.7" r="2.2"/><circle cx="405.5" cy="444.5" r="2.2"/><circle cx="409.2" cy="444.5" r="2.2"/><circle cx="414.2" cy="444.0" r="2.2"/><circle cx="416.6" cy="443.6" r="2.2"/><circle cx="419.1" cy="444.2" r="2.2"/><circle cx="422.5" cy="444.9" r="2.2"/><circle cx="427.7" cy="444.7" r="2.2"/><circle cx="431.4" cy="442.7" r="2.2"/><circle cx="434.9" cy="445.2" r="2.2"/><circle cx="436.9" cy="444.6" r="2.2"/><circle cx="442.3" cy="444.8" r="2.2"/><circle cx="444.5" cy="444.3" r="2.2"/><circle cx="448.2" cy="442.7" r="2.2"/><circle cx="451.1" cy="443.0" r="2.2"/><circle cx="455.4" cy="443.3" r="2.2"/><circle cx="458.4" cy="443.5" r="2.2"/><circle cx="401.9" cy="446.7" r="2.2"/><circle cx="403.9" cy="447.0" r="2.2"/><circle cx="408.6" cy="446.2" r="2.2"/><circle cx="410.4" cy="447.8" r="2.2"/><circle cx="414.0" cy="447.3" r="2.2"/><circle cx="419.6" cy="446.1" r="2.2"/><circle cx="423.1" cy="447.3" r="2.2"/><circle cx="425.2" cy="446.3" r="2.2"/><circle cx="429.6" cy="446.4" r="2.2"/><circle cx="433.3" cy="447.6" r="2.2"/><circle cx="436.1" cy="447.6" r="2.2"/><circle cx="438.2" cy="447.2" r="2.2"/><circle cx="442.8" cy="448.2" r="2.2"/><circle cx="447.3" cy="447.4" r="2.2"/><circle cx="451.0" cy="447.6" r="2.2"/><circle cx="454.1" cy="447.8" r="2.2"/><circle cx="456.0" cy="446.1" r="2.2"/><circle cx="403.9" cy="451.0" r="2.2"/><circle cx="405.6" cy="450.7" r="2.2"/><circle cx="410.4" cy="451.0" r="2.2"/><circle cx="412.5" cy="449.6" r="2.2"/><circle cx="417.1" cy="451.0" r="2.2"/><circle cx="419.4" cy="451.0" r="2.2"/><circle cx="424.5" cy="449.0" r="2.2"/><circle cx="426.7" cy="450.1" r="2.2"/><circle cx="431.1" cy="451.3" r="2.2"/><circle cx="433.8" cy="449.9" r="2.2"/><circle cx="437.7" cy="449.6" r="2.2"/><circle cx="441.0" cy="448.9" r="2.2"/><circle cx="444.4" cy="450.5" r="2.2"/><circle cx="447.9" cy="450.5" r="2.2"/><circle cx="452.7" cy="451.1" r="2.2"/><circle cx="456.1" cy="450.8" r="2.2"/><circle cx="459.0" cy="450.8" r="2.2"/><circle cx="401.3" cy="452.1" r="2.2"/><circle cx="404.2" cy="454.0" r="2.2"/><circle cx="407.6" cy="452.6" r="2.2"/><circle cx="410.2" cy="453.0" r="2.2"/><circle cx="415.4" cy="453.7" r="2.2"/><circle cx="418.0" cy="453.7" r="2.2"/><circle cx="421.9" cy="454.2" r="2.2"/><circle cx="425.5" cy="452.7" r="2.2"/><circle cx="429.2" cy="453.7" r="2.2"/><circle cx="433.1" cy="454.2" r="2.2"/><circle cx="436.7" cy="453.3" r="2.2"/><circle cx="440.6" cy="453.3" r="2.2"/><circle cx="444.2" cy="452.8" r="2.2"/><circle cx="447.4" cy="452.5" r="2.2"/><circle cx="451.0" cy="453.0" r="2.2"/><circle cx="452.4" cy="452.1" r="2.2"/><circle cx="457.4" cy="454.2" r="2.2"/><circle cx="396.5" cy="456.9" r="2.2"/><circle cx="400.0" cy="456.2" r="2.2"/><circle cx="402.1" cy="456.4" r="2.2"/><circle cx="406.0" cy="456.6" r="2.2"/><circle cx="410.2" cy="455.2" r="2.2"/><circle cx="412.2" cy="456.2" r="2.2"/><circle cx="415.7" cy="456.8" r="2.2"/><circle cx="419.1" cy="457.4" r="2.2"/><circle cx="424.5" cy="455.6" r="2.2"/><circle cx="427.4" cy="457.1" r="2.2"/><circle cx="429.6" cy="455.3" r="2.2"/><circle cx="433.6" cy="456.9" r="2.2"/><circle cx="437.3" cy="455.3" r="2.2"/><circle cx="440.7" cy="457.2" r="2.2"/><circle cx="444.4" cy="455.4" r="2.2"/><circle cx="447.0" cy="456.0" r="2.2"/><circle cx="451.9" cy="455.4" r="2.2"/><circle cx="454.0" cy="456.4" r="2.2"/><circle cx="395.3" cy="458.9" r="2.2"/><circle cx="397.1" cy="458.7" r="2.2"/><circle cx="400.7" cy="459.8" r="2.2"/><circle cx="409.0" cy="458.5" r="2.2"/><circle cx="410.9" cy="459.0" r="2.2"/><circle cx="415.5" cy="458.0" r="2.2"/><circle cx="417.4" cy="458.7" r="2.2"/><circle cx="421.2" cy="458.2" r="2.2"/><circle cx="424.5" cy="458.1" r="2.2"/><circle cx="428.1" cy="459.9" r="2.2"/><circle cx="435.6" cy="459.4" r="2.2"/><circle cx="443.3" cy="458.7" r="2.2"/><circle cx="447.7" cy="459.4" r="2.2"/><circle cx="453.1" cy="458.7" r="2.2"/><circle cx="477.2" cy="377.4" r="2.2"/><circle cx="454.5" cy="381.8" r="2.2"/><circle cx="473.9" cy="381.8" r="2.2"/><circle cx="476.2" cy="379.9" r="2.2"/><circle cx="479.9" cy="379.6" r="2.2"/><circle cx="449.7" cy="384.4" r="2.2"/><circle cx="454.9" cy="383.9" r="2.2"/><circle cx="456.7" cy="384.8" r="2.2"/><circle cx="461.0" cy="383.8" r="2.2"/><circle cx="464.0" cy="384.5" r="2.2"/><circle cx="467.3" cy="382.7" r="2.2"/><circle cx="470.9" cy="383.2" r="2.2"/><circle cx="473.9" cy="382.7" r="2.2"/><circle cx="478.8" cy="383.0" r="2.2"/><circle cx="445.9" cy="387.1" r="2.2"/><circle cx="449.4" cy="387.1" r="2.2"/><circle cx="450.9" cy="387.5" r="2.2"/><circle cx="454.3" cy="386.5" r="2.2"/><circle cx="459.9" cy="386.8" r="2.2"/><circle cx="463.6" cy="386.7" r="2.2"/><circle cx="466.7" cy="386.4" r="2.2"/><circle cx="469.1" cy="387.0" r="2.2"/><circle cx="472.9" cy="386.3" r="2.2"/><circle cx="477.3" cy="386.4" r="2.2"/><circle cx="446.5" cy="390.9" r="2.2"/><circle cx="450.3" cy="389.4" r="2.2"/><circle cx="454.0" cy="389.7" r="2.2"/><circle cx="456.0" cy="389.0" r="2.2"/><circle cx="460.2" cy="390.0" r="2.2"/><circle cx="464.1" cy="389.5" r="2.2"/><circle cx="467.3" cy="390.5" r="2.2"/><circle cx="470.9" cy="388.9" r="2.2"/><circle cx="474.0" cy="390.5" r="2.2"/><circle cx="477.8" cy="389.3" r="2.2"/><circle cx="449.7" cy="391.5" r="2.2"/><circle cx="451.4" cy="392.1" r="2.2"/><circle cx="454.9" cy="393.7" r="2.2"/><circle cx="457.9" cy="393.9" r="2.2"/><circle cx="462.4" cy="392.7" r="2.2"/><circle cx="466.0" cy="393.8" r="2.2"/><circle cx="468.6" cy="392.7" r="2.2"/><circle cx="472.2" cy="393.3" r="2.2"/><circle cx="475.8" cy="393.7" r="2.2"/><circle cx="447.8" cy="396.2" r="2.2"/><circle cx="449.0" cy="395.5" r="2.2"/><circle cx="454.2" cy="395.9" r="2.2"/><circle cx="457.5" cy="394.9" r="2.2"/><circle cx="459.7" cy="395.8" r="2.2"/><circle cx="464.8" cy="394.6" r="2.2"/><circle cx="468.5" cy="395.3" r="2.2"/><circle cx="470.8" cy="396.0" r="2.2"/><circle cx="449.3" cy="399.7" r="2.2"/><circle cx="452.1" cy="399.1" r="2.2"/><circle cx="454.2" cy="398.8" r="2.2"/><circle cx="460.3" cy="400.1" r="2.2"/><circle cx="461.3" cy="400.1" r="2.2"/><circle cx="465.2" cy="398.7" r="2.2"/><circle cx="468.6" cy="398.1" r="2.2"/><circle cx="445.7" cy="402.7" r="2.2"/><circle cx="450.1" cy="403.1" r="2.2"/><circle cx="453.2" cy="400.9" r="2.2"/><circle cx="458.2" cy="402.6" r="2.2"/><circle cx="462.0" cy="401.4" r="2.2"/><circle cx="465.2" cy="401.1" r="2.2"/><circle cx="468.7" cy="402.3" r="2.2"/><circle cx="447.4" cy="404.0" r="2.2"/><circle cx="452.8" cy="405.7" r="2.2"/><circle cx="456.1" cy="404.7" r="2.2"/><circle cx="459.1" cy="404.1" r="2.2"/><circle cx="461.3" cy="405.6" r="2.2"/><circle cx="465.1" cy="405.6" r="2.2"/><circle cx="446.4" cy="408.3" r="2.2"/><circle cx="450.3" cy="407.2" r="2.2"/><circle cx="453.1" cy="407.3" r="2.2"/><circle cx="456.7" cy="408.0" r="2.2"/><circle cx="461.0" cy="407.1" r="2.2"/><circle cx="463.7" cy="408.6" r="2.2"/><circle cx="445.8" cy="409.8" r="2.2"/><circle cx="448.0" cy="411.4" r="2.2"/><circle cx="451.6" cy="409.9" r="2.2"/><circle cx="456.5" cy="411.5" r="2.2"/><circle cx="458.3" cy="409.9" r="2.2"/><circle cx="461.9" cy="411.3" r="2.2"/><circle cx="446.0" cy="415.0" r="2.2"/><circle cx="451.3" cy="414.0" r="2.2"/><circle cx="452.5" cy="415.1" r="2.2"/><circle cx="458.0" cy="414.9" r="2.2"/><circle cx="461.1" cy="414.6" r="2.2"/><circle cx="463.3" cy="412.9" r="2.2"/><circle cx="448.7" cy="416.3" r="2.2"/><circle cx="452.9" cy="418.4" r="2.2"/><circle cx="455.3" cy="417.4" r="2.2"/><circle cx="460.2" cy="417.3" r="2.2"/><circle cx="446.2" cy="410.1" r="2.2"/><circle cx="455.2" cy="410.0" r="2.2"/><circle cx="447.2" cy="411.8" r="2.2"/><circle cx="449.5" cy="412.1" r="2.2"/><circle cx="455.0" cy="413.5" r="2.2"/><circle cx="457.4" cy="414.0" r="2.2"/><circle cx="461.9" cy="412.7" r="2.2"/><circle cx="445.5" cy="416.9" r="2.2"/><circle cx="448.2" cy="416.5" r="2.2"/><circle cx="452.6" cy="415.0" r="2.2"/><circle cx="456.2" cy="415.3" r="2.2"/><circle cx="458.5" cy="415.4" r="2.2"/><circle cx="446.6" cy="420.1" r="2.2"/><circle cx="449.3" cy="418.5" r="2.2"/><circle cx="452.5" cy="419.1" r="2.2"/><circle cx="458.4" cy="419.2" r="2.2"/><circle cx="446.2" cy="422.7" r="2.2"/><circle cx="449.6" cy="422.9" r="2.2"/><circle cx="451.4" cy="421.4" r="2.2"/><circle cx="455.8" cy="421.2" r="2.2"/><circle cx="445.6" cy="426.3" r="2.2"/><circle cx="449.1" cy="426.4" r="2.2"/><circle cx="453.5" cy="424.3" r="2.2"/><circle cx="448.4" cy="429.1" r="2.2"/><circle cx="451.9" cy="428.9" r="2.2"/><circle cx="447.2" cy="431.8" r="2.2"/><circle cx="449.6" cy="432.3" r="2.2"/><circle cx="454.8" cy="430.9" r="2.2"/><circle cx="445.4" cy="434.2" r="2.2"/><circle cx="447.5" cy="433.1" r="2.2"/><circle cx="452.3" cy="434.8" r="2.2"/><circle cx="446.8" cy="437.3" r="2.2"/><circle cx="450.6" cy="437.0" r="2.2"/><circle cx="448.9" cy="440.1" r="2.2"/><circle cx="450.7" cy="441.0" r="2.2"/><circle cx="447.6" cy="444.5" r="2.2"/><circle cx="450.8" cy="443.9" r="2.2"/><circle cx="449.2" cy="446.2" r="2.2"/><circle cx="446.6" cy="450.5" r="2.2"/><circle cx="450.9" cy="449.0" r="2.2"/><circle cx="448.3" cy="451.8" r="2.2"/><circle cx="447.0" cy="454.6" r="2.2"/><circle cx="449.7" cy="456.2" r="2.2"/><circle cx="449.0" cy="457.7" r="2.2"/><circle cx="446.9" cy="460.5" r="2.2"/><circle cx="445.7" cy="464.0" r="2.2"/><circle cx="385.9" cy="424.0" r="2.2"/><circle cx="389.0" cy="430.9" r="2.2"/><circle cx="359.1" cy="433.8" r="2.2"/><circle cx="335.9" cy="440.8" r="2.2"/><circle cx="381.3" cy="438.6" r="2.2"/><circle cx="381.3" cy="444.8" r="2.2"/><circle cx="381.7" cy="453.8" r="2.2"/><circle cx="369.5" cy="457.4" r="2.2"/><circle cx="394.3" cy="458.5" r="2.2"/><circle cx="396.9" cy="463.8" r="2.2"/><circle cx="329.3" cy="465.1" r="2.2"/><circle cx="330.6" cy="466.7" r="2.2"/><circle cx="328.0" cy="465.8" r="2.2"/><circle cx="360.5" cy="465.8" r="2.2"/><circle cx="361.1" cy="468.4" r="2.2"/><circle cx="356.1" cy="476.7" r="2.2"/><circle cx="351.8" cy="484.7" r="2.2"/><circle cx="376.6" cy="480.4" r="2.2"/><circle cx="337.5" cy="530.8" r="2.2"/><circle cx="397.2" cy="463.6" r="2.2"/><circle cx="401.5" cy="460.7" r="2.2"/><circle cx="408.8" cy="462.2" r="2.2"/><circle cx="416.0" cy="460.7" r="2.2"/><circle cx="418.9" cy="464.3" r="2.2"/><circle cx="418.9" cy="469.4" r="2.2"/><circle cx="418.9" cy="475.1" r="2.2"/><circle cx="424.6" cy="466.5" r="2.2"/><circle cx="427.5" cy="470.1" r="2.2"/><circle cx="429.0" cy="473.0" r="2.2"/><circle cx="424.6" cy="478.8" r="2.2"/><circle cx="423.2" cy="481.6" r="2.2"/><circle cx="430.4" cy="477.3" r="2.2"/><circle cx="431.8" cy="483.1" r="2.2"/><circle cx="424.6" cy="486.0" r="2.2"/><circle cx="427.5" cy="487.4" r="2.2"/><circle cx="426.1" cy="490.3" r="2.2"/><circle cx="427.8" cy="494.6" r="2.2"/><circle cx="433.3" cy="465.8" r="2.2"/><circle cx="436.2" cy="462.9" r="2.2"/><circle cx="439.1" cy="465.8" r="2.2"/><circle cx="439.1" cy="470.1" r="2.2"/><circle cx="440.5" cy="462.9" r="2.2"/><circle cx="444.8" cy="464.3" r="2.2"/><circle cx="449.2" cy="464.3" r="2.2"/><circle cx="452.0" cy="465.0" r="2.2"/><circle cx="449.2" cy="470.1" r="2.2"/><circle cx="449.2" cy="475.1" r="2.2"/><circle cx="455.6" cy="473.0" r="2.2"/><circle cx="464.0" cy="472.3" r="2.2"/><circle cx="464.0" cy="481.2" r="2.2"/><circle cx="439.8" cy="478.8" r="2.2"/><circle cx="446.3" cy="484.5" r="2.2"/><circle cx="450.6" cy="484.5" r="2.2"/><circle cx="450.6" cy="487.4" r="2.2"/><circle cx="440.1" cy="490.0" r="2.2"/><circle cx="449.9" cy="494.2" r="2.2"/><circle cx="447.7" cy="498.7" r="2.2"/><circle cx="442.7" cy="497.8" r="2.2"/><circle cx="437.6" cy="496.8" r="2.2"/><circle cx="463.9" cy="497.5" r="2.2"/><circle cx="405.6" cy="491.0" r="2.2"/><circle cx="405.6" cy="497.5" r="2.2"/><circle cx="412.4" cy="498.2" r="2.2"/><circle cx="416.0" cy="500.4" r="2.2"/><circle cx="413.1" cy="503.3" r="2.2"/><circle cx="417.4" cy="503.3" r="2.2"/><circle cx="411.6" cy="506.2" r="2.2"/><circle cx="426.1" cy="500.4" r="2.2"/><circle cx="426.1" cy="505.4" r="2.2"/><circle cx="431.8" cy="504.0" r="2.2"/><circle cx="433.3" cy="506.9" r="2.2"/><circle cx="435.4" cy="509.8" r="2.2"/><circle cx="437.6" cy="502.6" r="2.2"/><circle cx="413.8" cy="513.4" r="2.2"/><circle cx="424.2" cy="514.1" r="2.2"/><circle cx="424.2" cy="519.2" r="2.2"/><circle cx="436.5" cy="530.3" r="2.2"/><circle cx="442.7" cy="532.1" r="2.2"/><circle cx="436.9" cy="535.7" r="2.2"/><circle cx="439.1" cy="538.6" r="2.2"/><circle cx="437.6" cy="540.8" r="2.2"/><circle cx="421.0" cy="542.2" r="2.2"/><circle cx="420.8" cy="385.0" r="2.2"/><circle cx="399.0" cy="429.1" r="2.2"/><circle cx="390.0" cy="430.4" r="2.2"/><circle cx="394.0" cy="458.3" r="2.2"/><circle cx="410.6" cy="423.1" r="2.2"/><circle cx="425.2" cy="411.6" r="2.2"/><circle cx="417.9" cy="418.5" r="2.2"/><circle cx="516.6" cy="340.7" r="2.2"/><circle cx="516.6" cy="345.3" r="2.2"/><circle cx="516.6" cy="350.6" r="2.2"/><circle cx="499.0" cy="352.6" r="2.2"/><circle cx="499.0" cy="357.6" r="2.2"/><circle cx="484.8" cy="364.5" r="2.2"/><circle cx="489.4" cy="364.8" r="2.2"/><circle cx="494.8" cy="365.9" r="2.2"/><circle cx="499.1" cy="365.5" r="2.2"/><circle cx="495.4" cy="370.5" r="2.2"/><circle cx="491.4" cy="372.1" r="2.2"/><circle cx="505.0" cy="371.4" r="2.2"/><circle cx="484.8" cy="371.8" r="2.2"/><circle cx="480.2" cy="367.9" r="2.2"/><circle cx="477.5" cy="369.9" r="2.2"/><circle cx="478.2" cy="372.5" r="2.2"/><circle cx="482.8" cy="370.5" r="2.2"/><circle cx="486.1" cy="371.2" r="2.2"/><circle cx="487.5" cy="376.5" r="2.2"/><circle cx="492.8" cy="376.5" r="2.2"/><circle cx="484.8" cy="376.5" r="2.2"/><circle cx="475.5" cy="375.8" r="2.2"/><circle cx="465.6" cy="377.1" r="2.2"/><circle cx="457.6" cy="378.5" r="2.2"/><circle cx="498.7" cy="383.1" r="2.2"/><circle cx="499.7" cy="385.1" r="2.2"/><circle cx="487.2" cy="387.1" r="2.2"/><circle cx="495.4" cy="388.8" r="2.2"/><circle cx="490.8" cy="394.0" r="2.2"/><circle cx="475.5" cy="397.7" r="2.2"/><circle cx="473.9" cy="401.7" r="2.2"/><circle cx="468.9" cy="405.7" r="2.2"/><circle cx="467.6" cy="410.3" r="2.2"/><circle cx="473.5" cy="413.4" r="2.2"/><circle cx="488.1" cy="413.6" r="2.2"/><circle cx="484.8" cy="418.3" r="2.2"/><circle cx="495.1" cy="409.0" r="2.2"/><circle cx="464.9" cy="416.9" r="2.2"/><circle cx="468.2" cy="411.3" r="2.2"/><circle cx="474.2" cy="413.3" r="2.2"/><circle cx="465.6" cy="416.0" r="2.2"/><circle cx="462.2" cy="419.3" r="2.2"/><circle cx="460.9" cy="422.6" r="2.2"/><circle cx="463.6" cy="428.6" r="2.2"/><circle cx="470.2" cy="425.9" r="2.2"/><circle cx="473.5" cy="428.6" r="2.2"/><circle cx="479.5" cy="422.6" r="2.2"/><circle cx="480.8" cy="421.9" r="2.2"/><circle cx="479.2" cy="428.6" r="2.2"/><circle cx="479.2" cy="433.9" r="2.2"/><circle cx="484.8" cy="418.6" r="2.2"/><circle cx="488.1" cy="414.0" r="2.2"/><circle cx="495.1" cy="410.0" r="2.2"/><circle cx="457.6" cy="431.2" r="2.2"/><circle cx="456.9" cy="434.5" r="2.2"/><circle cx="455.6" cy="438.5" r="2.2"/><circle cx="458.3" cy="441.8" r="2.2"/><circle cx="461.6" cy="442.5" r="2.2"/><circle cx="455.0" cy="445.8" r="2.2"/><circle cx="458.9" cy="448.5" r="2.2"/><circle cx="453.0" cy="452.5" r="2.2"/><circle cx="459.6" cy="454.8" r="2.2"/><circle cx="452.3" cy="457.1" r="2.2"/><circle cx="451.0" cy="464.4" r="2.2"/><circle cx="449.6" cy="469.7" r="2.2"/><circle cx="450.3" cy="475.0" r="2.2"/><circle cx="455.6" cy="473.0" r="2.2"/><circle cx="464.2" cy="472.4" r="2.2"/><circle cx="464.2" cy="481.0" r="2.2"/><circle cx="446.3" cy="484.3" r="2.2"/><circle cx="451.0" cy="484.3" r="2.2"/><circle cx="450.3" cy="486.9" r="2.2"/><circle cx="470.9" cy="489.6" r="2.2"/><circle cx="421.2" cy="547.4" r="2.2"/><circle cx="440.5" cy="540.6" r="2.2"/></g>
<g fill="#fff"><circle cx="453.0" cy="387.8" r="1.2"/><circle cx="455.6" cy="389.1" r="1.2"/><circle cx="456.9" cy="386.4" r="1.2"/></g>
<g fill="#f00"><circle cx="444.7" cy="405.3" r="1.75"/><circle cx="437.1" cy="408.2" r="1.75"/><circle cx="438.4" cy="407.1" r="1.75"/><circle cx="441.9" cy="408.4" r="1.75"/><circle cx="448.2" cy="407.0" r="1.75"/><circle cx="438.8" cy="410.3" r="1.75"/><circle cx="442.1" cy="411.5" r="1.75"/><circle cx="445.3" cy="410.2" r="1.75"/><circle cx="450.3" cy="410.3" r="1.75"/><circle cx="431.5" cy="414.5" r="1.75"/><circle cx="434.7" cy="412.4" r="1.75"/><circle cx="440.6" cy="414.5" r="1.75"/><circle cx="443.1" cy="413.7" r="1.75"/><circle cx="446.2" cy="415.2" r="1.75"/><circle cx="449.7" cy="414.3" r="1.75"/><circle cx="426.8" cy="416.2" r="1.75"/><circle cx="429.7" cy="416.2" r="1.75"/><circle cx="434.6" cy="417.9" r="1.75"/><circle cx="438.5" cy="418.0" r="1.75"/><circle cx="442.2" cy="416.8" r="1.75"/><circle cx="445.7" cy="415.7" r="1.75"/><circle cx="450.0" cy="417.8" r="1.75"/><circle cx="424.7" cy="421.5" r="1.75"/><circle cx="428.2" cy="421.0" r="1.75"/><circle cx="432.5" cy="419.4" r="1.75"/><circle cx="434.6" cy="421.9" r="1.75"/><circle cx="440.7" cy="421.9" r="1.75"/><circle cx="443.0" cy="421.1" r="1.75"/><circle cx="447.6" cy="421.3" r="1.75"/><circle cx="451.9" cy="418.9" r="1.75"/><circle cx="419.2" cy="424.7" r="1.75"/><circle cx="421.8" cy="425.0" r="1.75"/><circle cx="425.5" cy="424.0" r="1.75"/><circle cx="429.2" cy="424.8" r="1.75"/><circle cx="434.9" cy="424.1" r="1.75"/><circle cx="436.4" cy="422.4" r="1.75"/><circle cx="441.7" cy="422.5" r="1.75"/><circle cx="443.9" cy="422.6" r="1.75"/><circle cx="421.0" cy="425.5" r="1.75"/><circle cx="425.2" cy="427.1" r="1.75"/><circle cx="429.4" cy="426.0" r="1.75"/><circle cx="432.3" cy="426.6" r="1.75"/><circle cx="434.7" cy="427.9" r="1.75"/><circle cx="440.3" cy="426.5" r="1.75"/><circle cx="443.3" cy="428.1" r="1.75"/><circle cx="417.6" cy="431.6" r="1.75"/><circle cx="423.0" cy="430.2" r="1.75"/><circle cx="427.2" cy="431.4" r="1.75"/><circle cx="428.9" cy="431.2" r="1.75"/><circle cx="432.6" cy="430.8" r="1.75"/><circle cx="436.8" cy="428.9" r="1.75"/><circle cx="441.0" cy="430.8" r="1.75"/><circle cx="417.5" cy="434.0" r="1.75"/><circle cx="420.3" cy="432.6" r="1.75"/><circle cx="424.4" cy="433.6" r="1.75"/><circle cx="428.7" cy="434.8" r="1.75"/><circle cx="430.7" cy="434.7" r="1.75"/><circle cx="435.6" cy="433.6" r="1.75"/><circle cx="439.4" cy="432.6" r="1.75"/><circle cx="411.4" cy="436.1" r="1.75"/><circle cx="415.8" cy="437.9" r="1.75"/><circle cx="419.9" cy="436.3" r="1.75"/><circle cx="422.1" cy="437.3" r="1.75"/><circle cx="425.8" cy="436.2" r="1.75"/><circle cx="431.1" cy="435.7" r="1.75"/><circle cx="433.2" cy="436.0" r="1.75"/><circle cx="410.2" cy="441.2" r="1.75"/><circle cx="411.9" cy="439.3" r="1.75"/><circle cx="417.3" cy="439.4" r="1.75"/><circle cx="419.9" cy="439.4" r="1.75"/><circle cx="425.5" cy="439.6" r="1.75"/><circle cx="426.7" cy="441.3" r="1.75"/><circle cx="433.1" cy="438.8" r="1.75"/><circle cx="408.1" cy="442.4" r="1.75"/><circle cx="410.2" cy="442.2" r="1.75"/><circle cx="413.2" cy="445.0" r="1.75"/><circle cx="417.2" cy="442.8" r="1.75"/><circle cx="422.1" cy="444.1" r="1.75"/><circle cx="427.1" cy="444.8" r="1.75"/><circle cx="429.5" cy="442.1" r="1.75"/><circle cx="406.4" cy="447.9" r="1.75"/><circle cx="410.3" cy="445.8" r="1.75"/><circle cx="413.1" cy="446.5" r="1.75"/><circle cx="415.4" cy="447.4" r="1.75"/><circle cx="420.7" cy="448.2" r="1.75"/><circle cx="404.1" cy="449.1" r="1.75"/><circle cx="405.7" cy="449.9" r="1.75"/><circle cx="410.8" cy="450.8" r="1.75"/><circle cx="413.7" cy="449.0" r="1.75"/><circle cx="418.5" cy="449.3" r="1.75"/><circle cx="408.1" cy="452.1" r="1.75"/><circle cx="448.2" cy="405.6" r="1.75"/><circle cx="451.9" cy="406.3" r="1.75"/><circle cx="446.4" cy="411.4" r="1.75"/><circle cx="449.7" cy="409.5" r="1.75"/><circle cx="446.6" cy="414.2" r="1.75"/><circle cx="451.9" cy="413.0" r="1.75"/><circle cx="447.8" cy="412.8" r="1.75"/><circle cx="385.4" cy="429.0" r="1.7"/><circle cx="397.6" cy="434.3" r="1.7"/><circle cx="335.2" cy="446.1" r="1.7"/><circle cx="385.4" cy="438.8" r="1.7"/><circle cx="385.4" cy="445.2" r="1.7"/><circle cx="369.1" cy="456.9" r="1.7"/><circle cx="380.6" cy="458.9" r="1.7"/><circle cx="336.8" cy="536.3" r="1.7"/><circle cx="400.8" cy="460.0" r="1.7"/><circle cx="424.6" cy="461.4" r="1.7"/><circle cx="431.1" cy="462.2" r="1.7"/><circle cx="447.7" cy="461.4" r="1.7"/><circle cx="424.6" cy="472.3" r="1.7"/><circle cx="427.8" cy="478.8" r="1.7"/><circle cx="431.1" cy="485.7" r="1.7"/><circle cx="410.2" cy="492.0" r="1.7"/><circle cx="421.0" cy="500.4" r="1.7"/><circle cx="421.0" cy="504.7" r="1.7"/><circle cx="413.1" cy="509.8" r="1.7"/><circle cx="413.1" cy="519.2" r="1.7"/><circle cx="469.4" cy="460.7" r="1.7"/><circle cx="411.2" cy="417.5" r="1.7"/><circle cx="405.7" cy="427.1" r="1.7"/><circle cx="398.6" cy="434.4" r="1.7"/><circle cx="447.7" cy="406.3" r="1.7"/><circle cx="469.5" cy="460.1" r="1.7"/><circle cx="453.0" cy="421.3" r="1.7"/><circle cx="447.7" cy="461.1" r="1.7"/><circle cx="425.6" cy="547.6" r="1.7"/></g>
<g fill="#000"><circle cx="441.5" cy="405.7" r="2.1"/><circle cx="447.6" cy="404.7" r="2.1"/><circle cx="431.6" cy="412.7" r="2.1"/><circle cx="436.1" cy="410.3" r="2.1"/><circle cx="442.5" cy="409.5" r="2.1"/><circle cx="426.1" cy="418.3" r="2.1"/><circle cx="430.8" cy="414.5" r="2.1"/><circle cx="439.1" cy="417.3" r="2.1"/><circle cx="450.7" cy="417.9" r="2.1"/><circle cx="424.2" cy="421.3" r="2.1"/><circle cx="431.9" cy="425.7" r="2.1"/><circle cx="436.2" cy="424.7" r="2.1"/><circle cx="442.9" cy="422.4" r="2.1"/><circle cx="420.7" cy="431.4" r="2.1"/><circle cx="424.0" cy="429.1" r="2.1"/><circle cx="435.5" cy="431.4" r="2.1"/><circle cx="438.7" cy="427.7" r="2.1"/><circle cx="445.8" cy="428.6" r="2.1"/><circle cx="413.8" cy="436.7" r="2.1"/><circle cx="424.5" cy="434.4" r="2.1"/><circle cx="431.6" cy="435.2" r="2.1"/><circle cx="436.1" cy="437.5" r="2.1"/><circle cx="411.0" cy="440.6" r="2.1"/><circle cx="417.3" cy="443.7" r="2.1"/><circle cx="424.4" cy="442.0" r="2.1"/><circle cx="404.8" cy="448.2" r="2.1"/><circle cx="449.4" cy="411.3" r="2.1"/><circle cx="453.0" cy="410.8" r="2.1"/><circle cx="449.8" cy="417.2" r="2.1"/></g>
</g>
<rect x="313.1" y="332.3" width="211.0" height="214.1" fill="none" stroke="#262626" stroke-width="1.3"/>
<path d="M320.6,546.4V551.6M313.1,539.1H307.9M356.7,546.4V551.6M313.1,502.4H307.9M392.8,546.4V551.6M313.1,465.6H307.9M428.9,546.4V551.6M313.1,428.9H307.9M465.0,546.4V551.6M313.1,392.1H307.9M501.1,546.4V551.6M313.1,355.4H307.9" stroke="#262626" stroke-width="1.3" fill="none"/>
<g font-size="8.2" fill="#666" stroke="#666" stroke-width="0.05"><text x="320.6" y="564.0" text-anchor="middle">0</text><text transform="translate(301.6,539.1) rotate(-90)" text-anchor="middle">0</text><text x="356.7" y="564.0" text-anchor="middle">5</text><text transform="translate(301.6,502.4) rotate(-90)" text-anchor="middle">5</text><text x="392.8" y="564.0" text-anchor="middle">10</text><text transform="translate(301.6,465.6) rotate(-90)" text-anchor="middle">10</text><text x="428.9" y="564.0" text-anchor="middle">15</text><text transform="translate(301.6,428.9) rotate(-90)" text-anchor="middle">15</text><text x="465.0" y="564.0" text-anchor="middle">20</text><text transform="translate(301.6,392.1) rotate(-90)" text-anchor="middle">20</text><text x="501.1" y="564.0" text-anchor="middle">25</text><text transform="translate(301.6,355.4) rotate(-90)" text-anchor="middle">25</text></g>
<text x="418.6" y="318.1" text-anchor="middle" font-size="10.8" font-weight="bold" fill="#141414" stroke="#141414" stroke-width="0.3">PSD 5</text>
<text x="355.1" y="583.0" font-size="9.75" fill="#262626" stroke="#262626" stroke-width="0.18">log2 PSD 1 average peak</text>
<text x="355.1" y="594.0" font-size="9.75" fill="#262626" stroke="#262626" stroke-width="0.18">area</text>
<text transform="translate(283.9,439.4) rotate(-90)" text-anchor="middle" font-size="9.75" fill="#262626" stroke="#262626" stroke-width="0.18">log2 PSD 5 average peak area</text>
</g>
<g>
<clipPath id="c4"><rect x="582.3" y="332.3" width="209.7" height="214.1"/></clipPath>
<line x1="553.4" y1="575.9" x2="877.4" y2="243.8" stroke="#d4d4d4" stroke-width="1.1" clip-path="url(#c4)"/>
<clipPath id="d4"><rect x="579.3" y="329.3" width="215.7" height="220.1"/></clipPath>
<g clip-path="url(#d4)">
<g fill="#000"><circle cx="696.1" cy="460.2" r="2.2"/><circle cx="703.4" cy="460.9" r="2.2"/><circle cx="705.9" cy="461.2" r="2.2"/><circle cx="713.8" cy="461.2" r="2.2"/><circle cx="717.0" cy="460.6" r="2.2"/><circle cx="693.0" cy="462.3" r="2.2"/><circle cx="698.1" cy="462.3" r="2.2"/><circle cx="699.4" cy="462.6" r="2.2"/><circle cx="705.1" cy="463.3" r="2.2"/><circle cx="708.5" cy="463.8" r="2.2"/><circle cx="711.9" cy="464.3" r="2.2"/><circle cx="714.8" cy="461.9" r="2.2"/><circle cx="716.9" cy="464.1" r="2.2"/><circle cx="695.0" cy="467.1" r="2.2"/><circle cx="699.7" cy="467.1" r="2.2"/><circle cx="702.0" cy="465.5" r="2.2"/><circle cx="706.2" cy="466.5" r="2.2"/><circle cx="708.7" cy="466.7" r="2.2"/><circle cx="713.7" cy="467.0" r="2.2"/><circle cx="715.4" cy="466.2" r="2.2"/><circle cx="720.3" cy="466.4" r="2.2"/><circle cx="693.8" cy="470.2" r="2.2"/><circle cx="695.9" cy="469.9" r="2.2"/><circle cx="699.9" cy="468.9" r="2.2"/><circle cx="705.1" cy="469.8" r="2.2"/><circle cx="706.5" cy="468.9" r="2.2"/><circle cx="710.8" cy="469.6" r="2.2"/><circle cx="715.1" cy="469.9" r="2.2"/><circle cx="717.5" cy="469.6" r="2.2"/><circle cx="696.2" cy="473.1" r="2.2"/><circle cx="698.2" cy="472.1" r="2.2"/><circle cx="702.8" cy="471.9" r="2.2"/><circle cx="704.5" cy="472.9" r="2.2"/><circle cx="708.0" cy="472.9" r="2.2"/><circle cx="711.8" cy="471.0" r="2.2"/><circle cx="715.8" cy="471.8" r="2.2"/><circle cx="701.3" cy="475.4" r="2.2"/><circle cx="702.8" cy="475.5" r="2.2"/><circle cx="711.0" cy="475.5" r="2.2"/><circle cx="732.7" cy="380.0" r="2.2"/><circle cx="737.2" cy="380.8" r="2.2"/><circle cx="723.1" cy="383.0" r="2.2"/><circle cx="728.1" cy="383.5" r="2.2"/><circle cx="729.7" cy="382.1" r="2.2"/><circle cx="733.4" cy="384.3" r="2.2"/><circle cx="739.2" cy="381.9" r="2.2"/><circle cx="723.4" cy="385.0" r="2.2"/><circle cx="726.4" cy="385.4" r="2.2"/><circle cx="728.8" cy="385.3" r="2.2"/><circle cx="733.7" cy="387.2" r="2.2"/><circle cx="735.9" cy="385.5" r="2.2"/><circle cx="739.5" cy="387.2" r="2.2"/><circle cx="716.6" cy="390.1" r="2.2"/><circle cx="720.8" cy="388.2" r="2.2"/><circle cx="723.7" cy="389.3" r="2.2"/><circle cx="727.0" cy="389.7" r="2.2"/><circle cx="730.9" cy="390.4" r="2.2"/><circle cx="734.9" cy="388.2" r="2.2"/><circle cx="739.1" cy="389.1" r="2.2"/><circle cx="715.3" cy="391.4" r="2.2"/><circle cx="718.9" cy="392.8" r="2.2"/><circle cx="721.3" cy="391.9" r="2.2"/><circle cx="726.9" cy="392.7" r="2.2"/><circle cx="728.6" cy="391.6" r="2.2"/><circle cx="733.1" cy="392.2" r="2.2"/><circle cx="735.9" cy="391.5" r="2.2"/><circle cx="714.2" cy="394.4" r="2.2"/><circle cx="717.1" cy="395.4" r="2.2"/><circle cx="719.7" cy="395.2" r="2.2"/><circle cx="722.9" cy="395.9" r="2.2"/><circle cx="727.8" cy="394.7" r="2.2"/><circle cx="730.5" cy="396.3" r="2.2"/><circle cx="734.3" cy="394.7" r="2.2"/><circle cx="738.7" cy="394.1" r="2.2"/><circle cx="712.8" cy="399.2" r="2.2"/><circle cx="714.9" cy="398.2" r="2.2"/><circle cx="718.0" cy="397.4" r="2.2"/><circle cx="722.7" cy="397.4" r="2.2"/><circle cx="725.8" cy="398.1" r="2.2"/><circle cx="729.4" cy="397.3" r="2.2"/><circle cx="733.4" cy="397.5" r="2.2"/><circle cx="735.3" cy="397.3" r="2.2"/><circle cx="738.9" cy="398.8" r="2.2"/><circle cx="707.3" cy="400.9" r="2.2"/><circle cx="708.9" cy="401.7" r="2.2"/><circle cx="713.6" cy="401.2" r="2.2"/><circle cx="717.5" cy="401.4" r="2.2"/><circle cx="721.6" cy="400.7" r="2.2"/><circle cx="723.8" cy="400.6" r="2.2"/><circle cx="726.6" cy="400.1" r="2.2"/><circle cx="730.6" cy="400.8" r="2.2"/><circle cx="735.1" cy="402.0" r="2.2"/><circle cx="738.0" cy="402.3" r="2.2"/><circle cx="705.1" cy="405.1" r="2.2"/><circle cx="707.3" cy="403.2" r="2.2"/><circle cx="711.7" cy="405.3" r="2.2"/><circle cx="715.2" cy="404.5" r="2.2"/><circle cx="719.5" cy="404.1" r="2.2"/><circle cx="722.0" cy="404.7" r="2.2"/><circle cx="725.2" cy="403.1" r="2.2"/><circle cx="729.3" cy="405.0" r="2.2"/><circle cx="731.4" cy="404.0" r="2.2"/><circle cx="737.1" cy="404.9" r="2.2"/><circle cx="739.1" cy="405.3" r="2.2"/><circle cx="702.9" cy="408.6" r="2.2"/><circle cx="706.9" cy="407.0" r="2.2"/><circle cx="710.8" cy="408.0" r="2.2"/><circle cx="712.6" cy="406.4" r="2.2"/><circle cx="718.0" cy="407.2" r="2.2"/><circle cx="720.8" cy="408.3" r="2.2"/><circle cx="723.6" cy="408.4" r="2.2"/><circle cx="726.9" cy="408.5" r="2.2"/><circle cx="729.6" cy="407.1" r="2.2"/><circle cx="734.7" cy="406.7" r="2.2"/><circle cx="737.8" cy="407.3" r="2.2"/><circle cx="702.3" cy="410.4" r="2.2"/><circle cx="705.8" cy="410.5" r="2.2"/><circle cx="707.9" cy="409.5" r="2.2"/><circle cx="711.4" cy="409.8" r="2.2"/><circle cx="713.9" cy="410.7" r="2.2"/><circle cx="718.0" cy="410.7" r="2.2"/><circle cx="722.3" cy="411.5" r="2.2"/><circle cx="725.5" cy="410.9" r="2.2"/><circle cx="728.4" cy="410.9" r="2.2"/><circle cx="733.8" cy="410.2" r="2.2"/><circle cx="735.5" cy="410.1" r="2.2"/><circle cx="739.1" cy="409.4" r="2.2"/><circle cx="693.2" cy="413.7" r="2.2"/><circle cx="695.2" cy="414.5" r="2.2"/><circle cx="699.5" cy="412.3" r="2.2"/><circle cx="703.8" cy="414.6" r="2.2"/><circle cx="707.6" cy="412.9" r="2.2"/><circle cx="710.5" cy="413.5" r="2.2"/><circle cx="714.6" cy="414.3" r="2.2"/><circle cx="716.2" cy="414.1" r="2.2"/><circle cx="720.9" cy="414.0" r="2.2"/><circle cx="724.4" cy="414.7" r="2.2"/><circle cx="728.4" cy="413.5" r="2.2"/><circle cx="732.0" cy="413.8" r="2.2"/><circle cx="733.3" cy="414.7" r="2.2"/><circle cx="736.9" cy="414.5" r="2.2"/><circle cx="687.5" cy="416.2" r="2.2"/><circle cx="691.9" cy="417.6" r="2.2"/><circle cx="693.3" cy="417.3" r="2.2"/><circle cx="697.4" cy="417.2" r="2.2"/><circle cx="701.2" cy="416.5" r="2.2"/><circle cx="704.6" cy="416.2" r="2.2"/><circle cx="706.9" cy="417.3" r="2.2"/><circle cx="711.4" cy="417.2" r="2.2"/><circle cx="715.4" cy="417.1" r="2.2"/><circle cx="719.9" cy="415.8" r="2.2"/><circle cx="721.3" cy="417.6" r="2.2"/><circle cx="724.4" cy="417.4" r="2.2"/><circle cx="728.8" cy="416.5" r="2.2"/><circle cx="733.3" cy="417.2" r="2.2"/><circle cx="736.9" cy="415.3" r="2.2"/><circle cx="678.2" cy="419.9" r="2.2"/><circle cx="681.9" cy="419.3" r="2.2"/><circle cx="684.1" cy="419.2" r="2.2"/><circle cx="689.4" cy="420.7" r="2.2"/><circle cx="693.7" cy="420.0" r="2.2"/><circle cx="696.5" cy="418.8" r="2.2"/><circle cx="700.1" cy="419.1" r="2.2"/><circle cx="703.4" cy="420.3" r="2.2"/><circle cx="706.7" cy="419.6" r="2.2"/><circle cx="710.4" cy="419.3" r="2.2"/><circle cx="714.2" cy="420.1" r="2.2"/><circle cx="717.8" cy="419.5" r="2.2"/><circle cx="720.5" cy="420.5" r="2.2"/><circle cx="723.9" cy="420.6" r="2.2"/><circle cx="728.0" cy="420.8" r="2.2"/><circle cx="731.3" cy="418.7" r="2.2"/><circle cx="733.5" cy="419.7" r="2.2"/><circle cx="675.4" cy="422.8" r="2.2"/><circle cx="679.1" cy="423.5" r="2.2"/><circle cx="684.3" cy="422.0" r="2.2"/><circle cx="687.9" cy="421.3" r="2.2"/><circle cx="690.2" cy="422.7" r="2.2"/><circle cx="693.9" cy="422.8" r="2.2"/><circle cx="697.6" cy="421.8" r="2.2"/><circle cx="702.4" cy="421.8" r="2.2"/><circle cx="703.5" cy="423.1" r="2.2"/><circle cx="708.8" cy="421.7" r="2.2"/><circle cx="710.7" cy="423.4" r="2.2"/><circle cx="715.7" cy="421.4" r="2.2"/><circle cx="717.8" cy="421.9" r="2.2"/><circle cx="721.2" cy="421.9" r="2.2"/><circle cx="726.8" cy="423.4" r="2.2"/><circle cx="728.6" cy="421.3" r="2.2"/><circle cx="732.3" cy="423.8" r="2.2"/><circle cx="735.3" cy="423.5" r="2.2"/><circle cx="674.0" cy="425.3" r="2.2"/><circle cx="677.2" cy="426.5" r="2.2"/><circle cx="682.2" cy="426.0" r="2.2"/><circle cx="685.4" cy="424.9" r="2.2"/><circle cx="690.1" cy="425.1" r="2.2"/><circle cx="691.3" cy="426.1" r="2.2"/><circle cx="695.6" cy="425.9" r="2.2"/><circle cx="698.1" cy="425.4" r="2.2"/><circle cx="703.9" cy="426.2" r="2.2"/><circle cx="705.2" cy="424.5" r="2.2"/><circle cx="710.2" cy="425.0" r="2.2"/><circle cx="712.1" cy="426.6" r="2.2"/><circle cx="717.9" cy="426.7" r="2.2"/><circle cx="719.8" cy="424.8" r="2.2"/><circle cx="725.1" cy="424.4" r="2.2"/><circle cx="727.0" cy="425.3" r="2.2"/><circle cx="730.9" cy="426.6" r="2.2"/><circle cx="734.5" cy="425.3" r="2.2"/><circle cx="675.7" cy="428.0" r="2.2"/><circle cx="681.4" cy="428.2" r="2.2"/><circle cx="684.0" cy="428.3" r="2.2"/><circle cx="686.6" cy="430.0" r="2.2"/><circle cx="690.1" cy="428.4" r="2.2"/><circle cx="694.9" cy="428.3" r="2.2"/><circle cx="698.5" cy="429.3" r="2.2"/><circle cx="700.9" cy="428.7" r="2.2"/><circle cx="704.2" cy="429.0" r="2.2"/><circle cx="708.8" cy="429.7" r="2.2"/><circle cx="712.8" cy="429.5" r="2.2"/><circle cx="714.2" cy="429.5" r="2.2"/><circle cx="719.8" cy="428.0" r="2.2"/><circle cx="722.1" cy="429.7" r="2.2"/><circle cx="726.4" cy="427.8" r="2.2"/><circle cx="729.5" cy="429.3" r="2.2"/><circle cx="731.6" cy="428.0" r="2.2"/><circle cx="675.3" cy="432.4" r="2.2"/><circle cx="678.5" cy="431.0" r="2.2"/><circle cx="681.7" cy="430.7" r="2.2"/><circle cx="685.9" cy="432.2" r="2.2"/><circle cx="688.9" cy="432.8" r="2.2"/><circle cx="691.2" cy="431.6" r="2.2"/><circle cx="695.8" cy="431.4" r="2.2"/><circle cx="698.8" cy="430.5" r="2.2"/><circle cx="702.1" cy="432.4" r="2.2"/><circle cx="707.5" cy="430.5" r="2.2"/><circle cx="709.0" cy="430.5" r="2.2"/><circle cx="713.0" cy="431.2" r="2.2"/><circle cx="718.0" cy="432.7" r="2.2"/><circle cx="720.3" cy="431.8" r="2.2"/><circle cx="724.3" cy="431.8" r="2.2"/><circle cx="728.3" cy="432.4" r="2.2"/><circle cx="730.9" cy="433.0" r="2.2"/><circle cx="677.1" cy="433.7" r="2.2"/><circle cx="681.0" cy="435.1" r="2.2"/><circle cx="683.3" cy="434.4" r="2.2"/><circle cx="688.2" cy="434.6" r="2.2"/><circle cx="689.5" cy="434.7" r="2.2"/><circle cx="693.9" cy="434.8" r="2.2"/><circle cx="696.8" cy="434.5" r="2.2"/><circle cx="699.9" cy="435.5" r="2.2"/><circle cx="705.5" cy="435.8" r="2.2"/><circle cx="707.8" cy="435.0" r="2.2"/><circle cx="710.9" cy="435.2" r="2.2"/><circle cx="715.9" cy="435.0" r="2.2"/><circle cx="717.5" cy="435.6" r="2.2"/><circle cx="721.5" cy="435.9" r="2.2"/><circle cx="726.9" cy="434.2" r="2.2"/><circle cx="728.2" cy="435.7" r="2.2"/><circle cx="731.9" cy="433.6" r="2.2"/><circle cx="676.0" cy="438.6" r="2.2"/><circle cx="677.7" cy="437.8" r="2.2"/><circle cx="683.0" cy="438.4" r="2.2"/><circle cx="685.7" cy="437.0" r="2.2"/><circle cx="688.9" cy="438.1" r="2.2"/><circle cx="693.1" cy="437.3" r="2.2"/><circle cx="694.8" cy="439.1" r="2.2"/><circle cx="700.4" cy="437.5" r="2.2"/><circle cx="703.8" cy="438.4" r="2.2"/><circle cx="707.5" cy="438.2" r="2.2"/><circle cx="708.8" cy="436.6" r="2.2"/><circle cx="712.4" cy="439.0" r="2.2"/><circle cx="715.8" cy="438.1" r="2.2"/><circle cx="721.1" cy="437.4" r="2.2"/><circle cx="723.7" cy="438.6" r="2.2"/><circle cx="728.5" cy="438.7" r="2.2"/><circle cx="730.3" cy="437.8" r="2.2"/><circle cx="672.1" cy="440.0" r="2.2"/><circle cx="676.9" cy="441.1" r="2.2"/><circle cx="680.5" cy="441.5" r="2.2"/><circle cx="684.4" cy="440.8" r="2.2"/><circle cx="686.6" cy="440.1" r="2.2"/><circle cx="691.7" cy="440.8" r="2.2"/><circle cx="693.9" cy="441.5" r="2.2"/><circle cx="698.4" cy="440.3" r="2.2"/><circle cx="700.8" cy="440.8" r="2.2"/><circle cx="705.1" cy="440.0" r="2.2"/><circle cx="707.4" cy="442.0" r="2.2"/><circle cx="712.7" cy="442.0" r="2.2"/><circle cx="715.9" cy="441.1" r="2.2"/><circle cx="718.5" cy="442.2" r="2.2"/><circle cx="721.1" cy="440.4" r="2.2"/><circle cx="725.2" cy="442.2" r="2.2"/><circle cx="728.9" cy="441.0" r="2.2"/><circle cx="671.7" cy="444.1" r="2.2"/><circle cx="674.0" cy="445.0" r="2.2"/><circle cx="677.5" cy="444.2" r="2.2"/><circle cx="682.1" cy="444.0" r="2.2"/><circle cx="685.0" cy="443.7" r="2.2"/><circle cx="689.0" cy="443.9" r="2.2"/><circle cx="692.0" cy="444.1" r="2.2"/><circle cx="696.6" cy="444.2" r="2.2"/><circle cx="700.1" cy="444.9" r="2.2"/><circle cx="702.9" cy="445.2" r="2.2"/><circle cx="707.0" cy="443.9" r="2.2"/><circle cx="710.2" cy="445.0" r="2.2"/><circle cx="714.4" cy="443.8" r="2.2"/><circle cx="715.9" cy="443.7" r="2.2"/><circle cx="719.2" cy="442.8" r="2.2"/><circle cx="724.6" cy="443.7" r="2.2"/><circle cx="726.5" cy="444.3" r="2.2"/><circle cx="730.6" cy="445.2" r="2.2"/><circle cx="673.8" cy="446.9" r="2.2"/><circle cx="677.5" cy="447.6" r="2.2"/><circle cx="680.9" cy="445.7" r="2.2"/><circle cx="684.8" cy="446.4" r="2.2"/><circle cx="686.4" cy="446.6" r="2.2"/><circle cx="689.7" cy="446.3" r="2.2"/><circle cx="694.2" cy="448.0" r="2.2"/><circle cx="697.6" cy="447.4" r="2.2"/><circle cx="699.9" cy="448.2" r="2.2"/><circle cx="703.6" cy="446.0" r="2.2"/><circle cx="707.7" cy="447.6" r="2.2"/><circle cx="711.0" cy="447.3" r="2.2"/><circle cx="714.1" cy="447.0" r="2.2"/><circle cx="719.1" cy="447.8" r="2.2"/><circle cx="722.8" cy="447.9" r="2.2"/><circle cx="725.4" cy="447.1" r="2.2"/><circle cx="729.0" cy="447.8" r="2.2"/><circle cx="668.7" cy="450.1" r="2.2"/><circle cx="671.6" cy="450.5" r="2.2"/><circle cx="674.8" cy="449.4" r="2.2"/><circle cx="677.8" cy="449.9" r="2.2"/><circle cx="680.7" cy="451.0" r="2.2"/><circle cx="685.9" cy="450.0" r="2.2"/><circle cx="687.9" cy="449.5" r="2.2"/><circle cx="691.7" cy="448.9" r="2.2"/><circle cx="695.7" cy="449.9" r="2.2"/><circle cx="698.9" cy="449.5" r="2.2"/><circle cx="702.1" cy="450.0" r="2.2"/><circle cx="706.4" cy="451.3" r="2.2"/><circle cx="710.9" cy="450.1" r="2.2"/><circle cx="713.0" cy="449.2" r="2.2"/><circle cx="715.8" cy="451.2" r="2.2"/><circle cx="720.5" cy="449.0" r="2.2"/><circle cx="724.3" cy="451.0" r="2.2"/><circle cx="728.4" cy="448.8" r="2.2"/><circle cx="667.3" cy="453.6" r="2.2"/><circle cx="670.1" cy="453.3" r="2.2"/><circle cx="673.5" cy="452.8" r="2.2"/><circle cx="677.2" cy="452.7" r="2.2"/><circle cx="679.9" cy="454.2" r="2.2"/><circle cx="683.5" cy="452.3" r="2.2"/><circle cx="688.0" cy="454.2" r="2.2"/><circle cx="689.8" cy="452.0" r="2.2"/><circle cx="693.6" cy="453.1" r="2.2"/><circle cx="697.2" cy="452.5" r="2.2"/><circle cx="702.3" cy="454.3" r="2.2"/><circle cx="704.6" cy="452.5" r="2.2"/><circle cx="707.9" cy="454.0" r="2.2"/><circle cx="711.1" cy="452.5" r="2.2"/><circle cx="714.1" cy="453.4" r="2.2"/><circle cx="718.2" cy="451.9" r="2.2"/><circle cx="722.4" cy="454.0" r="2.2"/><circle cx="726.0" cy="451.8" r="2.2"/><circle cx="665.1" cy="456.9" r="2.2"/><circle cx="668.1" cy="456.6" r="2.2"/><circle cx="670.2" cy="456.8" r="2.2"/><circle cx="675.5" cy="457.1" r="2.2"/><circle cx="677.7" cy="456.4" r="2.2"/><circle cx="681.3" cy="455.9" r="2.2"/><circle cx="685.7" cy="456.2" r="2.2"/><circle cx="690.2" cy="456.7" r="2.2"/><circle cx="691.1" cy="455.5" r="2.2"/><circle cx="696.4" cy="455.2" r="2.2"/><circle cx="699.2" cy="455.5" r="2.2"/><circle cx="702.6" cy="456.5" r="2.2"/><circle cx="707.5" cy="457.1" r="2.2"/><circle cx="711.1" cy="456.0" r="2.2"/><circle cx="714.3" cy="456.5" r="2.2"/><circle cx="716.7" cy="456.0" r="2.2"/><circle cx="720.7" cy="456.6" r="2.2"/><circle cx="722.9" cy="456.3" r="2.2"/><circle cx="666.9" cy="459.5" r="2.2"/><circle cx="669.5" cy="459.4" r="2.2"/><circle cx="673.2" cy="459.2" r="2.2"/><circle cx="676.3" cy="458.7" r="2.2"/><circle cx="680.5" cy="458.0" r="2.2"/><circle cx="683.4" cy="458.1" r="2.2"/><circle cx="687.6" cy="458.3" r="2.2"/><circle cx="690.5" cy="458.6" r="2.2"/><circle cx="693.6" cy="458.7" r="2.2"/><circle cx="702.4" cy="458.5" r="2.2"/><circle cx="704.8" cy="460.0" r="2.2"/><circle cx="709.0" cy="459.2" r="2.2"/><circle cx="710.5" cy="458.4" r="2.2"/><circle cx="715.5" cy="459.4" r="2.2"/><circle cx="718.0" cy="459.1" r="2.2"/><circle cx="748.6" cy="372.6" r="2.2"/><circle cx="748.1" cy="376.8" r="2.2"/><circle cx="742.5" cy="379.5" r="2.2"/><circle cx="746.7" cy="380.5" r="2.2"/><circle cx="749.3" cy="378.7" r="2.2"/><circle cx="730.4" cy="383.4" r="2.2"/><circle cx="734.3" cy="382.9" r="2.2"/><circle cx="737.9" cy="381.4" r="2.2"/><circle cx="741.0" cy="382.3" r="2.2"/><circle cx="744.7" cy="381.8" r="2.2"/><circle cx="747.3" cy="382.1" r="2.2"/><circle cx="717.4" cy="386.4" r="2.2"/><circle cx="722.9" cy="385.5" r="2.2"/><circle cx="724.6" cy="384.8" r="2.2"/><circle cx="728.1" cy="386.2" r="2.2"/><circle cx="732.0" cy="387.0" r="2.2"/><circle cx="736.2" cy="385.0" r="2.2"/><circle cx="739.5" cy="385.3" r="2.2"/><circle cx="741.8" cy="385.5" r="2.2"/><circle cx="714.3" cy="388.7" r="2.2"/><circle cx="716.1" cy="389.3" r="2.2"/><circle cx="720.8" cy="387.7" r="2.2"/><circle cx="723.8" cy="388.1" r="2.2"/><circle cx="726.9" cy="389.3" r="2.2"/><circle cx="730.0" cy="389.4" r="2.2"/><circle cx="734.1" cy="388.6" r="2.2"/><circle cx="737.5" cy="389.7" r="2.2"/><circle cx="740.3" cy="387.7" r="2.2"/><circle cx="744.0" cy="388.7" r="2.2"/><circle cx="715.1" cy="392.8" r="2.2"/><circle cx="718.8" cy="391.7" r="2.2"/><circle cx="721.2" cy="391.6" r="2.2"/><circle cx="726.3" cy="391.5" r="2.2"/><circle cx="728.7" cy="392.2" r="2.2"/><circle cx="731.7" cy="391.5" r="2.2"/><circle cx="735.7" cy="392.5" r="2.2"/><circle cx="739.6" cy="391.3" r="2.2"/><circle cx="716.7" cy="395.0" r="2.2"/><circle cx="720.0" cy="396.0" r="2.2"/><circle cx="722.9" cy="394.5" r="2.2"/><circle cx="725.9" cy="395.5" r="2.2"/><circle cx="729.8" cy="394.3" r="2.2"/><circle cx="733.5" cy="395.5" r="2.2"/><circle cx="737.1" cy="395.8" r="2.2"/><circle cx="739.9" cy="395.1" r="2.2"/><circle cx="714.9" cy="397.3" r="2.2"/><circle cx="719.1" cy="397.3" r="2.2"/><circle cx="721.8" cy="398.7" r="2.2"/><circle cx="725.2" cy="398.1" r="2.2"/><circle cx="728.5" cy="398.9" r="2.2"/><circle cx="732.6" cy="397.0" r="2.2"/><circle cx="736.6" cy="397.4" r="2.2"/><circle cx="713.7" cy="401.8" r="2.2"/><circle cx="715.4" cy="400.2" r="2.2"/><circle cx="721.3" cy="401.5" r="2.2"/><circle cx="722.5" cy="400.4" r="2.2"/><circle cx="727.3" cy="401.3" r="2.2"/><circle cx="731.6" cy="399.7" r="2.2"/><circle cx="733.2" cy="400.3" r="2.2"/><circle cx="737.8" cy="402.1" r="2.2"/><circle cx="715.0" cy="404.6" r="2.2"/><circle cx="718.1" cy="405.0" r="2.2"/><circle cx="722.7" cy="404.2" r="2.2"/><circle cx="724.5" cy="403.7" r="2.2"/><circle cx="729.3" cy="403.5" r="2.2"/><circle cx="732.2" cy="404.4" r="2.2"/><circle cx="734.6" cy="404.5" r="2.2"/><circle cx="715.3" cy="406.2" r="2.2"/><circle cx="720.0" cy="406.5" r="2.2"/><circle cx="723.2" cy="408.2" r="2.2"/><circle cx="726.5" cy="408.0" r="2.2"/><circle cx="731.8" cy="407.6" r="2.2"/><circle cx="733.8" cy="407.7" r="2.2"/><circle cx="713.6" cy="411.1" r="2.2"/><circle cx="718.1" cy="409.6" r="2.2"/><circle cx="722.1" cy="410.0" r="2.2"/><circle cx="724.7" cy="409.0" r="2.2"/><circle cx="728.3" cy="408.8" r="2.2"/><circle cx="731.7" cy="411.1" r="2.2"/><circle cx="717.2" cy="401.0" r="2.2"/><circle cx="721.3" cy="400.6" r="2.2"/><circle cx="723.4" cy="401.3" r="2.2"/><circle cx="728.0" cy="400.9" r="2.2"/><circle cx="731.1" cy="401.0" r="2.2"/><circle cx="733.7" cy="400.5" r="2.2"/><circle cx="738.7" cy="400.4" r="2.2"/><circle cx="715.7" cy="404.1" r="2.2"/><circle cx="717.3" cy="402.2" r="2.2"/><circle cx="722.4" cy="404.3" r="2.2"/><circle cx="725.5" cy="403.8" r="2.2"/><circle cx="729.4" cy="403.0" r="2.2"/><circle cx="733.1" cy="403.7" r="2.2"/><circle cx="737.0" cy="403.7" r="2.2"/><circle cx="713.8" cy="406.7" r="2.2"/><circle cx="716.0" cy="405.7" r="2.2"/><circle cx="719.6" cy="407.1" r="2.2"/><circle cx="723.9" cy="407.3" r="2.2"/><circle cx="726.0" cy="406.1" r="2.2"/><circle cx="731.4" cy="405.9" r="2.2"/><circle cx="735.2" cy="406.2" r="2.2"/><circle cx="714.7" cy="409.8" r="2.2"/><circle cx="718.4" cy="409.8" r="2.2"/><circle cx="720.7" cy="408.3" r="2.2"/><circle cx="724.1" cy="409.6" r="2.2"/><circle cx="729.8" cy="409.7" r="2.2"/><circle cx="713.4" cy="411.8" r="2.2"/><circle cx="716.1" cy="411.7" r="2.2"/><circle cx="719.9" cy="411.2" r="2.2"/><circle cx="723.5" cy="411.1" r="2.2"/><circle cx="726.1" cy="411.8" r="2.2"/><circle cx="714.4" cy="416.2" r="2.2"/><circle cx="717.6" cy="416.4" r="2.2"/><circle cx="721.2" cy="415.8" r="2.2"/><circle cx="724.6" cy="415.5" r="2.2"/><circle cx="727.9" cy="414.9" r="2.2"/><circle cx="716.9" cy="419.3" r="2.2"/><circle cx="720.9" cy="418.0" r="2.2"/><circle cx="724.4" cy="417.9" r="2.2"/><circle cx="715.5" cy="420.8" r="2.2"/><circle cx="719.4" cy="421.2" r="2.2"/><circle cx="723.0" cy="421.8" r="2.2"/><circle cx="725.0" cy="420.6" r="2.2"/><circle cx="713.3" cy="425.2" r="2.2"/><circle cx="715.6" cy="425.5" r="2.2"/><circle cx="720.3" cy="424.3" r="2.2"/><circle cx="722.5" cy="425.3" r="2.2"/><circle cx="727.9" cy="423.3" r="2.2"/><circle cx="715.7" cy="427.9" r="2.2"/><circle cx="717.6" cy="426.7" r="2.2"/><circle cx="721.9" cy="426.1" r="2.2"/><circle cx="725.5" cy="428.7" r="2.2"/><circle cx="727.7" cy="428.2" r="2.2"/><circle cx="713.8" cy="430.8" r="2.2"/><circle cx="716.8" cy="430.3" r="2.2"/><circle cx="719.9" cy="429.6" r="2.2"/><circle cx="722.2" cy="429.5" r="2.2"/><circle cx="726.4" cy="430.7" r="2.2"/><circle cx="730.6" cy="431.3" r="2.2"/><circle cx="716.0" cy="434.4" r="2.2"/><circle cx="719.4" cy="433.2" r="2.2"/><circle cx="722.4" cy="433.7" r="2.2"/><circle cx="724.6" cy="432.7" r="2.2"/><circle cx="728.7" cy="434.0" r="2.2"/><circle cx="716.4" cy="435.3" r="2.2"/><circle cx="721.3" cy="437.7" r="2.2"/><circle cx="723.4" cy="436.9" r="2.2"/><circle cx="726.7" cy="435.7" r="2.2"/><circle cx="730.7" cy="435.9" r="2.2"/><circle cx="714.6" cy="438.8" r="2.2"/><circle cx="718.5" cy="440.8" r="2.2"/><circle cx="722.1" cy="439.5" r="2.2"/><circle cx="725.2" cy="439.4" r="2.2"/><circle cx="728.0" cy="440.5" r="2.2"/><circle cx="715.9" cy="443.2" r="2.2"/><circle cx="719.0" cy="443.1" r="2.2"/><circle cx="724.1" cy="443.7" r="2.2"/><circle cx="726.4" cy="443.0" r="2.2"/><circle cx="715.3" cy="446.0" r="2.2"/><circle cx="717.1" cy="446.5" r="2.2"/><circle cx="721.7" cy="446.9" r="2.2"/><circle cx="715.3" cy="448.7" r="2.2"/><circle cx="720.8" cy="448.2" r="2.2"/><circle cx="723.1" cy="447.6" r="2.2"/><circle cx="716.0" cy="451.2" r="2.2"/><circle cx="719.1" cy="451.1" r="2.2"/><circle cx="720.8" cy="450.7" r="2.2"/><circle cx="714.1" cy="454.8" r="2.2"/><circle cx="716.5" cy="455.2" r="2.2"/><circle cx="719.6" cy="453.7" r="2.2"/><circle cx="714.5" cy="457.2" r="2.2"/><circle cx="719.0" cy="458.7" r="2.2"/><circle cx="714.2" cy="460.2" r="2.2"/><circle cx="716.5" cy="460.6" r="2.2"/><circle cx="713.9" cy="463.8" r="2.2"/><circle cx="717.3" cy="463.6" r="2.2"/><circle cx="654.7" cy="422.9" r="2.2"/><circle cx="654.7" cy="428.2" r="2.2"/><circle cx="654.7" cy="435.3" r="2.2"/><circle cx="627.7" cy="436.2" r="2.2"/><circle cx="604.6" cy="440.8" r="2.2"/><circle cx="649.7" cy="444.5" r="2.2"/><circle cx="650.0" cy="448.9" r="2.2"/><circle cx="663.0" cy="457.4" r="2.2"/><circle cx="664.3" cy="459.8" r="2.2"/><circle cx="596.9" cy="462.5" r="2.2"/><circle cx="596.9" cy="469.4" r="2.2"/><circle cx="596.9" cy="473.5" r="2.2"/><circle cx="629.4" cy="464.4" r="2.2"/><circle cx="630.1" cy="467.1" r="2.2"/><circle cx="624.8" cy="478.4" r="2.2"/><circle cx="620.2" cy="485.7" r="2.2"/><circle cx="645.4" cy="479.7" r="2.2"/><circle cx="637.8" cy="491.6" r="2.2"/><circle cx="606.0" cy="495.0" r="2.2"/><circle cx="667.2" cy="462.2" r="2.2"/><circle cx="677.3" cy="465.0" r="2.2"/><circle cx="681.6" cy="467.9" r="2.2"/><circle cx="687.4" cy="463.6" r="2.2"/><circle cx="688.9" cy="468.7" r="2.2"/><circle cx="680.9" cy="472.3" r="2.2"/><circle cx="694.6" cy="462.9" r="2.2"/><circle cx="697.5" cy="465.8" r="2.2"/><circle cx="696.1" cy="473.7" r="2.2"/><circle cx="700.4" cy="471.5" r="2.2"/><circle cx="703.3" cy="473.0" r="2.2"/><circle cx="706.2" cy="468.7" r="2.2"/><circle cx="707.6" cy="464.3" r="2.2"/><circle cx="711.9" cy="465.8" r="2.2"/><circle cx="714.8" cy="470.1" r="2.2"/><circle cx="711.9" cy="473.7" r="2.2"/><circle cx="720.6" cy="461.4" r="2.2"/><circle cx="721.3" cy="468.7" r="2.2"/><circle cx="732.1" cy="466.5" r="2.2"/><circle cx="732.1" cy="470.8" r="2.2"/><circle cx="724.2" cy="477.0" r="2.2"/><circle cx="727.8" cy="481.9" r="2.2"/><circle cx="688.9" cy="482.7" r="2.2"/><circle cx="694.6" cy="486.3" r="2.2"/><circle cx="699.0" cy="488.1" r="2.2"/><circle cx="706.2" cy="481.6" r="2.2"/><circle cx="717.7" cy="482.4" r="2.2"/><circle cx="715.5" cy="486.7" r="2.2"/><circle cx="711.2" cy="489.6" r="2.2"/><circle cx="706.2" cy="490.3" r="2.2"/><circle cx="706.9" cy="493.2" r="2.2"/><circle cx="719.2" cy="492.9" r="2.2"/><circle cx="678.5" cy="488.6" r="2.2"/><circle cx="680.9" cy="493.5" r="2.2"/><circle cx="688.1" cy="493.9" r="2.2"/><circle cx="680.9" cy="499.0" r="2.2"/><circle cx="697.5" cy="497.8" r="2.2"/><circle cx="691.7" cy="500.4" r="2.2"/><circle cx="706.9" cy="498.2" r="2.2"/><circle cx="707.6" cy="501.8" r="2.2"/><circle cx="719.2" cy="499.0" r="2.2"/><circle cx="719.2" cy="504.4" r="2.2"/><circle cx="694.6" cy="503.3" r="2.2"/><circle cx="690.3" cy="504.7" r="2.2"/><circle cx="693.2" cy="507.6" r="2.2"/><circle cx="699.0" cy="504.7" r="2.2"/><circle cx="701.1" cy="509.1" r="2.2"/><circle cx="703.3" cy="509.1" r="2.2"/><circle cx="707.6" cy="509.1" r="2.2"/><circle cx="712.7" cy="504.7" r="2.2"/><circle cx="713.4" cy="510.5" r="2.2"/><circle cx="713.4" cy="516.3" r="2.2"/><circle cx="713.4" cy="517.7" r="2.2"/><circle cx="700.4" cy="512.7" r="2.2"/><circle cx="707.6" cy="515.5" r="2.2"/><circle cx="705.4" cy="523.2" r="2.2"/><circle cx="686.3" cy="529.5" r="2.2"/><circle cx="697.2" cy="529.5" r="2.2"/><circle cx="705.4" cy="532.1" r="2.2"/><circle cx="709.1" cy="535.3" r="2.2"/><circle cx="686.0" cy="537.2" r="2.2"/><circle cx="690.3" cy="536.5" r="2.2"/><circle cx="694.6" cy="537.9" r="2.2"/><circle cx="699.0" cy="538.6" r="2.2"/><circle cx="690.3" cy="542.2" r="2.2"/><circle cx="694.6" cy="543.0" r="2.2"/><circle cx="700.4" cy="543.7" r="2.2"/><circle cx="718.4" cy="538.6" r="2.2"/><circle cx="738.6" cy="535.3" r="2.2"/><circle cx="689.5" cy="401.9" r="2.2"/><circle cx="703.1" cy="399.2" r="2.2"/><circle cx="668.0" cy="426.8" r="2.2"/><circle cx="679.9" cy="418.5" r="2.2"/><circle cx="733.6" cy="442.4" r="2.2"/><circle cx="736.9" cy="423.8" r="2.2"/><circle cx="785.3" cy="339.3" r="2.2"/><circle cx="785.3" cy="344.3" r="2.2"/><circle cx="767.7" cy="350.6" r="2.2"/><circle cx="767.7" cy="356.5" r="2.2"/><circle cx="769.8" cy="359.9" r="2.2"/><circle cx="764.5" cy="359.2" r="2.2"/><circle cx="766.1" cy="366.2" r="2.2"/><circle cx="762.1" cy="367.2" r="2.2"/><circle cx="755.5" cy="363.8" r="2.2"/><circle cx="751.5" cy="366.5" r="2.2"/><circle cx="752.8" cy="369.1" r="2.2"/><circle cx="747.5" cy="368.5" r="2.2"/><circle cx="746.2" cy="371.8" r="2.2"/><circle cx="744.8" cy="374.5" r="2.2"/><circle cx="748.8" cy="373.1" r="2.2"/><circle cx="756.8" cy="373.1" r="2.2"/><circle cx="752.8" cy="375.8" r="2.2"/><circle cx="733.6" cy="375.8" r="2.2"/><circle cx="734.2" cy="377.8" r="2.2"/><circle cx="726.3" cy="379.1" r="2.2"/><circle cx="726.3" cy="381.8" r="2.2"/><circle cx="751.5" cy="377.8" r="2.2"/><circle cx="747.5" cy="379.1" r="2.2"/><circle cx="743.5" cy="379.8" r="2.2"/><circle cx="739.5" cy="382.4" r="2.2"/><circle cx="741.5" cy="385.1" r="2.2"/><circle cx="744.8" cy="386.4" r="2.2"/><circle cx="748.2" cy="385.1" r="2.2"/><circle cx="752.5" cy="388.4" r="2.2"/><circle cx="760.8" cy="388.4" r="2.2"/><circle cx="756.1" cy="393.7" r="2.2"/><circle cx="756.8" cy="397.0" r="2.2"/><circle cx="744.8" cy="389.0" r="2.2"/><circle cx="740.9" cy="393.0" r="2.2"/><circle cx="744.8" cy="397.0" r="2.2"/><circle cx="741.5" cy="401.0" r="2.2"/><circle cx="759.4" cy="403.6" r="2.2"/><circle cx="744.2" cy="408.3" r="2.2"/><circle cx="741.5" cy="401.3" r="2.2"/><circle cx="759.4" cy="403.7" r="2.2"/><circle cx="744.4" cy="408.2" r="2.2"/><circle cx="764.1" cy="415.3" r="2.2"/><circle cx="756.5" cy="416.6" r="2.2"/><circle cx="736.9" cy="415.3" r="2.2"/><circle cx="730.2" cy="412.6" r="2.2"/><circle cx="732.9" cy="417.2" r="2.2"/><circle cx="736.9" cy="421.9" r="2.2"/><circle cx="742.9" cy="422.6" r="2.2"/><circle cx="733.6" cy="425.9" r="2.2"/><circle cx="741.5" cy="427.9" r="2.2"/><circle cx="748.8" cy="426.5" r="2.2"/><circle cx="747.5" cy="428.5" r="2.2"/><circle cx="753.9" cy="424.8" r="2.2"/><circle cx="752.5" cy="433.8" r="2.2"/><circle cx="747.5" cy="433.8" r="2.2"/><circle cx="746.2" cy="436.5" r="2.2"/><circle cx="731.6" cy="430.5" r="2.2"/><circle cx="731.6" cy="437.1" r="2.2"/><circle cx="728.9" cy="441.1" r="2.2"/><circle cx="733.6" cy="443.1" r="2.2"/><circle cx="724.9" cy="443.8" r="2.2"/><circle cx="724.9" cy="449.8" r="2.2"/><circle cx="719.6" cy="451.7" r="2.2"/><circle cx="721.0" cy="461.0" r="2.2"/><circle cx="723.0" cy="461.0" r="2.2"/><circle cx="721.0" cy="468.3" r="2.2"/><circle cx="732.2" cy="466.3" r="2.2"/><circle cx="732.2" cy="471.0" r="2.2"/><circle cx="724.3" cy="476.9" r="2.2"/><circle cx="715.7" cy="470.3" r="2.2"/><circle cx="693.7" cy="546.0" r="2.2"/><circle cx="689.8" cy="548.3" r="2.2"/></g>
<g fill="#fff"></g>
<g fill="#f00"><circle cx="725.3" cy="401.1" r="1.75"/><circle cx="730.2" cy="400.7" r="1.75"/><circle cx="712.1" cy="405.7" r="1.75"/><circle cx="717.7" cy="404.8" r="1.75"/><circle cx="721.1" cy="404.4" r="1.75"/><circle cx="727.7" cy="405.4" r="1.75"/><circle cx="732.8" cy="404.0" r="1.75"/><circle cx="714.7" cy="409.6" r="1.75"/><circle cx="719.4" cy="410.0" r="1.75"/><circle cx="725.1" cy="407.8" r="1.75"/><circle cx="702.4" cy="414.0" r="1.75"/><circle cx="708.5" cy="413.8" r="1.75"/><circle cx="713.0" cy="412.8" r="1.75"/><circle cx="717.9" cy="413.0" r="1.75"/><circle cx="721.0" cy="413.8" r="1.75"/><circle cx="695.3" cy="417.8" r="1.75"/><circle cx="699.1" cy="416.6" r="1.75"/><circle cx="705.0" cy="417.8" r="1.75"/><circle cx="710.3" cy="417.2" r="1.75"/><circle cx="713.4" cy="417.6" r="1.75"/><circle cx="693.3" cy="420.9" r="1.75"/><circle cx="698.3" cy="421.7" r="1.75"/><circle cx="702.8" cy="421.6" r="1.75"/><circle cx="708.9" cy="420.7" r="1.75"/><circle cx="711.3" cy="422.5" r="1.75"/><circle cx="716.6" cy="422.0" r="1.75"/><circle cx="686.1" cy="425.1" r="1.75"/><circle cx="689.0" cy="426.8" r="1.75"/><circle cx="696.5" cy="425.0" r="1.75"/><circle cx="700.0" cy="426.3" r="1.75"/><circle cx="704.5" cy="424.7" r="1.75"/><circle cx="711.0" cy="425.2" r="1.75"/><circle cx="716.3" cy="424.6" r="1.75"/><circle cx="682.9" cy="428.7" r="1.75"/><circle cx="687.6" cy="429.9" r="1.75"/><circle cx="692.4" cy="430.4" r="1.75"/><circle cx="699.1" cy="428.8" r="1.75"/><circle cx="702.8" cy="430.5" r="1.75"/><circle cx="707.4" cy="428.9" r="1.75"/><circle cx="711.1" cy="430.6" r="1.75"/><circle cx="681.4" cy="434.2" r="1.75"/><circle cx="686.9" cy="435.5" r="1.75"/><circle cx="691.2" cy="433.1" r="1.75"/><circle cx="695.7" cy="433.7" r="1.75"/><circle cx="700.4" cy="434.5" r="1.75"/><circle cx="705.0" cy="434.5" r="1.75"/><circle cx="708.8" cy="434.4" r="1.75"/><circle cx="714.3" cy="432.9" r="1.75"/><circle cx="676.9" cy="438.2" r="1.75"/><circle cx="681.7" cy="437.2" r="1.75"/><circle cx="688.8" cy="439.8" r="1.75"/><circle cx="693.3" cy="440.0" r="1.75"/><circle cx="697.5" cy="438.8" r="1.75"/><circle cx="701.7" cy="438.3" r="1.75"/><circle cx="706.6" cy="437.3" r="1.75"/><circle cx="679.3" cy="442.3" r="1.75"/><circle cx="686.0" cy="443.7" r="1.75"/><circle cx="690.8" cy="441.5" r="1.75"/><circle cx="695.5" cy="443.4" r="1.75"/><circle cx="701.5" cy="442.1" r="1.75"/><circle cx="704.7" cy="443.9" r="1.75"/><circle cx="710.2" cy="443.4" r="1.75"/><circle cx="677.8" cy="446.5" r="1.75"/><circle cx="683.8" cy="445.9" r="1.75"/><circle cx="687.5" cy="446.9" r="1.75"/><circle cx="693.8" cy="446.8" r="1.75"/><circle cx="699.0" cy="446.8" r="1.75"/><circle cx="703.4" cy="448.0" r="1.75"/><circle cx="708.3" cy="448.5" r="1.75"/><circle cx="675.7" cy="451.2" r="1.75"/><circle cx="679.6" cy="450.7" r="1.75"/><circle cx="686.3" cy="451.1" r="1.75"/><circle cx="690.7" cy="450.6" r="1.75"/><circle cx="696.6" cy="451.9" r="1.75"/><circle cx="699.1" cy="450.2" r="1.75"/><circle cx="677.9" cy="454.5" r="1.75"/><circle cx="723.8" cy="400.2" r="1.75"/><circle cx="715.7" cy="406.0" r="1.75"/><circle cx="720.8" cy="404.1" r="1.75"/><circle cx="727.8" cy="405.9" r="1.75"/><circle cx="719.3" cy="409.7" r="1.75"/><circle cx="724.4" cy="409.4" r="1.75"/><circle cx="715.4" cy="413.1" r="1.75"/><circle cx="717.3" cy="418.9" r="1.75"/><circle cx="659.0" cy="423.3" r="1.7"/><circle cx="658.9" cy="435.9" r="1.7"/><circle cx="604.2" cy="446.1" r="1.7"/><circle cx="649.6" cy="454.5" r="1.7"/><circle cx="637.4" cy="496.9" r="1.7"/><circle cx="605.2" cy="499.6" r="1.7"/><circle cx="675.9" cy="470.4" r="1.7"/><circle cx="681.6" cy="473.0" r="1.7"/><circle cx="701.8" cy="478.0" r="1.7"/><circle cx="711.2" cy="479.5" r="1.7"/><circle cx="710.5" cy="483.4" r="1.7"/><circle cx="683.1" cy="489.1" r="1.7"/><circle cx="694.6" cy="491.5" r="1.7"/><circle cx="692.5" cy="494.3" r="1.7"/><circle cx="701.8" cy="498.2" r="1.7"/><circle cx="695.3" cy="506.9" r="1.7"/><circle cx="712.7" cy="522.3" r="1.7"/><circle cx="705.0" cy="528.1" r="1.7"/><circle cx="690.6" cy="530.0" r="1.7"/><circle cx="701.8" cy="530.0" r="1.7"/><circle cx="705.0" cy="537.6" r="1.7"/><circle cx="699.0" cy="540.8" r="1.7"/><circle cx="666.9" cy="432.4" r="1.7"/><circle cx="660.0" cy="423.8" r="1.7"/><circle cx="660.0" cy="435.7" r="1.7"/><circle cx="715.7" cy="403.6" r="1.7"/><circle cx="722.3" cy="406.3" r="1.7"/><circle cx="719.0" cy="408.9" r="1.7"/><circle cx="727.6" cy="398.3" r="1.7"/><circle cx="729.6" cy="401.0" r="1.7"/><circle cx="737.5" cy="403.6" r="1.7"/><circle cx="723.6" cy="408.9" r="1.7"/><circle cx="737.5" cy="403.3" r="1.7"/><circle cx="726.3" cy="421.9" r="1.7"/><circle cx="719.0" cy="457.0" r="1.7"/><circle cx="714.3" cy="462.4" r="1.7"/><circle cx="696.6" cy="540.4" r="1.7"/></g>
<g fill="#000"><circle cx="727.0" cy="397.7" r="2.1"/><circle cx="731.6" cy="398.0" r="2.1"/><circle cx="730.6" cy="401.3" r="2.1"/><circle cx="709.0" cy="409.1" r="2.1"/><circle cx="719.9" cy="409.5" r="2.1"/><circle cx="726.8" cy="407.8" r="2.1"/><circle cx="700.0" cy="415.7" r="2.1"/><circle cx="706.5" cy="417.2" r="2.1"/><circle cx="714.3" cy="413.6" r="2.1"/><circle cx="690.4" cy="421.5" r="2.1"/><circle cx="693.4" cy="421.8" r="2.1"/><circle cx="705.7" cy="423.9" r="2.1"/><circle cx="708.8" cy="420.4" r="2.1"/><circle cx="717.6" cy="419.7" r="2.1"/><circle cx="684.3" cy="427.3" r="2.1"/><circle cx="693.2" cy="426.8" r="2.1"/><circle cx="698.0" cy="428.1" r="2.1"/><circle cx="707.6" cy="427.9" r="2.1"/><circle cx="713.7" cy="427.3" r="2.1"/><circle cx="681.7" cy="437.3" r="2.1"/><circle cx="686.1" cy="433.7" r="2.1"/><circle cx="696.0" cy="437.2" r="2.1"/><circle cx="701.6" cy="434.6" r="2.1"/><circle cx="709.5" cy="435.4" r="2.1"/><circle cx="675.4" cy="441.9" r="2.1"/><circle cx="682.9" cy="441.9" r="2.1"/><circle cx="689.9" cy="443.5" r="2.1"/><circle cx="701.7" cy="443.1" r="2.1"/><circle cx="709.0" cy="441.2" r="2.1"/><circle cx="682.9" cy="449.5" r="2.1"/><circle cx="687.0" cy="450.5" r="2.1"/><circle cx="696.6" cy="446.0" r="2.1"/><circle cx="705.3" cy="449.1" r="2.1"/><circle cx="709.6" cy="447.5" r="2.1"/><circle cx="685.8" cy="453.1" r="2.1"/><circle cx="722.1" cy="400.2" r="2.1"/><circle cx="718.6" cy="406.0" r="2.1"/><circle cx="726.2" cy="407.0" r="2.1"/><circle cx="715.1" cy="410.8" r="2.1"/><circle cx="715.8" cy="417.9" r="2.1"/></g>
</g>
<rect x="582.3" y="332.3" width="209.7" height="214.1" fill="none" stroke="#262626" stroke-width="1.3"/>
<path d="M589.4,546.4V551.6M582.3,539.0H577.1M625.4,546.4V551.6M582.3,502.1H577.1M661.4,546.4V551.6M582.3,465.2H577.1M697.4,546.4V551.6M582.3,428.3H577.1M733.4,546.4V551.6M582.3,391.4H577.1M769.4,546.4V551.6M582.3,354.5H577.1" stroke="#262626" stroke-width="1.3" fill="none"/>
<g font-size="8.2" fill="#666" stroke="#666" stroke-width="0.05"><text x="589.4" y="564.0" text-anchor="middle">0</text><text transform="translate(570.8,539.0) rotate(-90)" text-anchor="middle">0</text><text x="625.4" y="564.0" text-anchor="middle">5</text><text transform="translate(570.8,502.1) rotate(-90)" text-anchor="middle">5</text><text x="661.4" y="564.0" text-anchor="middle">10</text><text transform="translate(570.8,465.2) rotate(-90)" text-anchor="middle">10</text><text x="697.4" y="564.0" text-anchor="middle">15</text><text transform="translate(570.8,428.3) rotate(-90)" text-anchor="middle">15</text><text x="733.4" y="564.0" text-anchor="middle">20</text><text transform="translate(570.8,391.4) rotate(-90)" text-anchor="middle">20</text><text x="769.4" y="564.0" text-anchor="middle">25</text><text transform="translate(570.8,354.5) rotate(-90)" text-anchor="middle">25</text></g>
<text x="687.1" y="318.1" text-anchor="middle" font-size="10.8" font-weight="bold" fill="#141414" stroke="#141414" stroke-width="0.3">PSD 6</text>
<text x="624.3" y="583.0" font-size="9.75" fill="#262626" stroke="#262626" stroke-width="0.18">log2 PSD 1 average peak</text>
<text x="624.3" y="594.0" font-size="9.75" fill="#262626" stroke="#262626" stroke-width="0.18">area</text>
<text transform="translate(553.1,439.4) rotate(-90)" text-anchor="middle" font-size="9.75" fill="#262626" stroke="#262626" stroke-width="0.18">log2 PSD 6 average peak area</text>
</g>
<g fill="#222" stroke="#222" stroke-width="0.18" text-anchor="middle">
<text x="672" y="80.6" font-size="10.8">Red dots indicate 16</text>
<text x="672" y="94.0" font-size="10.8">mitochondrial proteins,  48</text>
<text x="672" y="106.6" font-size="10.8" letter-spacing="-0.14">peptides, 240 transitions.</text>
<text x="674.5" y="135.3" font-size="9.75">Protein names:</text>
<text x="674.5" y="146.3" font-size="9.75">COX5A, M2OM, NDUA7, NDUA8,</text>
<text x="674.5" y="157.6" font-size="9.75">NDUA9, NDUAC, NDUS1, NDUS2,</text>
<text x="674.5" y="168.9" font-size="9.75">NDUS3, NDUS7, NDUS8, NDUV1,</text>
<text x="674.5" y="180.1" font-size="9.75">NDUV2, QCR1, QCR2, SFXN3</text>
</g>
</svg></body></html>
